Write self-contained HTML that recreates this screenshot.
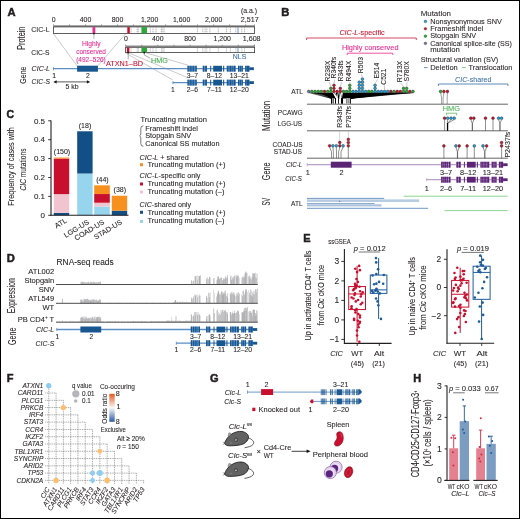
<!DOCTYPE html>
<html><head><meta charset="utf-8"><style>
html,body{margin:0;padding:0;background:#fff;}
svg{display:block;font-family:"Liberation Sans", sans-serif;will-change:transform;}
</style></head><body>
<svg width="520" height="519" viewBox="0 0 520 519">
<rect x="0" y="0" width="520" height="519" fill="#fff"/>
<text x="7.60" y="15.50" font-size="11.20" text-anchor="start" fill="#231f20" stroke="#231f20" stroke-width="0.5" font-weight="bold" >A</text>
<text x="257.00" y="12.60" font-size="6.91" text-anchor="end" fill="#231f20" stroke="#231f20" stroke-width="0.08" >(a.a.)</text>
<line x1="53.50" y1="26.05" x2="254.60" y2="26.05" stroke="#8c8c8c" stroke-width="1.70" />
<line x1="53.50" y1="24.30" x2="53.50" y2="25.90" stroke="#777" stroke-width="0.70" />
<line x1="69.51" y1="24.30" x2="69.51" y2="25.90" stroke="#777" stroke-width="0.70" />
<line x1="85.52" y1="24.30" x2="85.52" y2="25.90" stroke="#777" stroke-width="0.70" />
<line x1="101.54" y1="24.30" x2="101.54" y2="25.90" stroke="#777" stroke-width="0.70" />
<line x1="117.55" y1="24.30" x2="117.55" y2="25.90" stroke="#777" stroke-width="0.70" />
<line x1="133.56" y1="24.30" x2="133.56" y2="25.90" stroke="#777" stroke-width="0.70" />
<line x1="149.57" y1="24.30" x2="149.57" y2="25.90" stroke="#777" stroke-width="0.70" />
<line x1="165.58" y1="24.30" x2="165.58" y2="25.90" stroke="#777" stroke-width="0.70" />
<line x1="181.60" y1="24.30" x2="181.60" y2="25.90" stroke="#777" stroke-width="0.70" />
<line x1="197.61" y1="24.30" x2="197.61" y2="25.90" stroke="#777" stroke-width="0.70" />
<line x1="213.62" y1="24.30" x2="213.62" y2="25.90" stroke="#777" stroke-width="0.70" />
<line x1="229.63" y1="24.30" x2="229.63" y2="25.90" stroke="#777" stroke-width="0.70" />
<line x1="245.64" y1="24.30" x2="245.64" y2="25.90" stroke="#777" stroke-width="0.70" />
<line x1="254.40" y1="24.30" x2="254.40" y2="25.90" stroke="#777" stroke-width="0.70" />
<rect x="53.50" y="26.90" width="201.10" height="6.60" fill="#fff" stroke="#3a3a3a" stroke-width="0.8"/>
<line x1="125.60" y1="46.45" x2="254.60" y2="46.45" stroke="#8c8c8c" stroke-width="1.70" />
<line x1="125.60" y1="44.70" x2="125.60" y2="46.30" stroke="#777" stroke-width="0.70" />
<line x1="141.70" y1="44.70" x2="141.70" y2="46.30" stroke="#777" stroke-width="0.70" />
<line x1="157.80" y1="44.70" x2="157.80" y2="46.30" stroke="#777" stroke-width="0.70" />
<line x1="173.90" y1="44.70" x2="173.90" y2="46.30" stroke="#777" stroke-width="0.70" />
<line x1="190.00" y1="44.70" x2="190.00" y2="46.30" stroke="#777" stroke-width="0.70" />
<line x1="206.10" y1="44.70" x2="206.10" y2="46.30" stroke="#777" stroke-width="0.70" />
<line x1="222.20" y1="44.70" x2="222.20" y2="46.30" stroke="#777" stroke-width="0.70" />
<line x1="238.30" y1="44.70" x2="238.30" y2="46.30" stroke="#777" stroke-width="0.70" />
<line x1="254.40" y1="44.70" x2="254.40" y2="46.30" stroke="#777" stroke-width="0.70" />
<line x1="254.40" y1="44.70" x2="254.40" y2="46.30" stroke="#777" stroke-width="0.70" />
<rect x="125.60" y="47.30" width="129.00" height="5.30" fill="#fff" stroke="#3a3a3a" stroke-width="0.8"/>
<line x1="131.00" y1="27.30" x2="131.00" y2="33.10" stroke="#858585" stroke-width="0.60" stroke-dasharray="1.1,0.7"/>
<line x1="137.20" y1="27.30" x2="137.20" y2="33.10" stroke="#858585" stroke-width="0.60" stroke-dasharray="1.1,0.7"/>
<line x1="138.30" y1="27.30" x2="138.30" y2="33.10" stroke="#858585" stroke-width="0.60" stroke-dasharray="1.1,0.7"/>
<line x1="150.30" y1="27.30" x2="150.30" y2="33.10" stroke="#858585" stroke-width="0.60" stroke-dasharray="1.1,0.7"/>
<line x1="153.00" y1="27.30" x2="153.00" y2="33.10" stroke="#858585" stroke-width="0.60" stroke-dasharray="1.1,0.7"/>
<line x1="156.00" y1="27.30" x2="156.00" y2="33.10" stroke="#858585" stroke-width="0.60" stroke-dasharray="1.1,0.7"/>
<line x1="161.50" y1="27.30" x2="161.50" y2="33.10" stroke="#858585" stroke-width="0.60" stroke-dasharray="1.1,0.7"/>
<line x1="162.80" y1="27.30" x2="162.80" y2="33.10" stroke="#858585" stroke-width="0.60" stroke-dasharray="1.1,0.7"/>
<line x1="164.10" y1="27.30" x2="164.10" y2="33.10" stroke="#858585" stroke-width="0.60" stroke-dasharray="1.1,0.7"/>
<line x1="197.40" y1="27.30" x2="197.40" y2="33.10" stroke="#858585" stroke-width="0.60" stroke-dasharray="1.1,0.7"/>
<line x1="202.80" y1="27.30" x2="202.80" y2="33.10" stroke="#858585" stroke-width="0.60" stroke-dasharray="1.1,0.7"/>
<line x1="205.10" y1="27.30" x2="205.10" y2="33.10" stroke="#858585" stroke-width="0.60" stroke-dasharray="1.1,0.7"/>
<line x1="206.80" y1="27.30" x2="206.80" y2="33.10" stroke="#858585" stroke-width="0.60" stroke-dasharray="1.1,0.7"/>
<line x1="209.90" y1="27.30" x2="209.90" y2="33.10" stroke="#858585" stroke-width="0.60" stroke-dasharray="1.1,0.7"/>
<line x1="218.30" y1="27.30" x2="218.30" y2="33.10" stroke="#858585" stroke-width="0.60" stroke-dasharray="1.1,0.7"/>
<line x1="226.60" y1="27.30" x2="226.60" y2="33.10" stroke="#858585" stroke-width="0.60" stroke-dasharray="1.1,0.7"/>
<line x1="230.40" y1="27.30" x2="230.40" y2="33.10" stroke="#858585" stroke-width="0.60" stroke-dasharray="1.1,0.7"/>
<line x1="235.80" y1="27.30" x2="235.80" y2="33.10" stroke="#858585" stroke-width="0.60" stroke-dasharray="1.1,0.7"/>
<line x1="241.80" y1="27.30" x2="241.80" y2="33.10" stroke="#858585" stroke-width="0.60" stroke-dasharray="1.1,0.7"/>
<line x1="244.50" y1="27.30" x2="244.50" y2="33.10" stroke="#858585" stroke-width="0.60" stroke-dasharray="1.1,0.7"/>
<rect x="127.30" y="27.10" width="2.50" height="6.20" fill="#c8102e" />
<rect x="141.40" y="27.10" width="5.60" height="6.20" fill="#2fa83a" />
<line x1="238.00" y1="27.30" x2="238.00" y2="33.10" stroke="#2e6bb0" stroke-width="0.70" />
<line x1="131.00" y1="47.70" x2="131.00" y2="52.20" stroke="#858585" stroke-width="0.60" stroke-dasharray="1.1,0.7"/>
<line x1="137.20" y1="47.70" x2="137.20" y2="52.20" stroke="#858585" stroke-width="0.60" stroke-dasharray="1.1,0.7"/>
<line x1="138.30" y1="47.70" x2="138.30" y2="52.20" stroke="#858585" stroke-width="0.60" stroke-dasharray="1.1,0.7"/>
<line x1="150.30" y1="47.70" x2="150.30" y2="52.20" stroke="#858585" stroke-width="0.60" stroke-dasharray="1.1,0.7"/>
<line x1="153.00" y1="47.70" x2="153.00" y2="52.20" stroke="#858585" stroke-width="0.60" stroke-dasharray="1.1,0.7"/>
<line x1="156.00" y1="47.70" x2="156.00" y2="52.20" stroke="#858585" stroke-width="0.60" stroke-dasharray="1.1,0.7"/>
<line x1="161.50" y1="47.70" x2="161.50" y2="52.20" stroke="#858585" stroke-width="0.60" stroke-dasharray="1.1,0.7"/>
<line x1="162.80" y1="47.70" x2="162.80" y2="52.20" stroke="#858585" stroke-width="0.60" stroke-dasharray="1.1,0.7"/>
<line x1="164.10" y1="47.70" x2="164.10" y2="52.20" stroke="#858585" stroke-width="0.60" stroke-dasharray="1.1,0.7"/>
<line x1="197.40" y1="47.70" x2="197.40" y2="52.20" stroke="#858585" stroke-width="0.60" stroke-dasharray="1.1,0.7"/>
<line x1="202.80" y1="47.70" x2="202.80" y2="52.20" stroke="#858585" stroke-width="0.60" stroke-dasharray="1.1,0.7"/>
<line x1="205.10" y1="47.70" x2="205.10" y2="52.20" stroke="#858585" stroke-width="0.60" stroke-dasharray="1.1,0.7"/>
<line x1="206.80" y1="47.70" x2="206.80" y2="52.20" stroke="#858585" stroke-width="0.60" stroke-dasharray="1.1,0.7"/>
<line x1="209.90" y1="47.70" x2="209.90" y2="52.20" stroke="#858585" stroke-width="0.60" stroke-dasharray="1.1,0.7"/>
<line x1="218.30" y1="47.70" x2="218.30" y2="52.20" stroke="#858585" stroke-width="0.60" stroke-dasharray="1.1,0.7"/>
<line x1="226.60" y1="47.70" x2="226.60" y2="52.20" stroke="#858585" stroke-width="0.60" stroke-dasharray="1.1,0.7"/>
<line x1="230.40" y1="47.70" x2="230.40" y2="52.20" stroke="#858585" stroke-width="0.60" stroke-dasharray="1.1,0.7"/>
<line x1="235.80" y1="47.70" x2="235.80" y2="52.20" stroke="#858585" stroke-width="0.60" stroke-dasharray="1.1,0.7"/>
<line x1="241.80" y1="47.70" x2="241.80" y2="52.20" stroke="#858585" stroke-width="0.60" stroke-dasharray="1.1,0.7"/>
<line x1="244.50" y1="47.70" x2="244.50" y2="52.20" stroke="#858585" stroke-width="0.60" stroke-dasharray="1.1,0.7"/>
<rect x="126.90" y="47.50" width="2.50" height="4.90" fill="#c8102e" />
<rect x="141.40" y="47.50" width="5.60" height="4.90" fill="#2fa83a" />
<line x1="238.00" y1="47.70" x2="238.00" y2="52.20" stroke="#2e6bb0" stroke-width="0.70" />
<rect x="92.50" y="27.10" width="2.80" height="6.20" fill="#ec2d8e" />
<circle cx="93.90" cy="33.60" r="0.90" fill="#111" />
<line x1="93.90" y1="34.00" x2="93.90" y2="38.80" stroke="#777" stroke-width="0.50" />
<circle cx="128.20" cy="52.70" r="0.90" fill="#111" />
<line x1="128.20" y1="53.00" x2="128.20" y2="59.40" stroke="#555" stroke-width="0.50" />
<circle cx="144.30" cy="52.70" r="0.90" fill="#111" />
<path d="M144.3,53 L144.3,55 L150.3,58.3" fill="none" stroke="#555" stroke-width="0.50" />
<line x1="53.60" y1="33.90" x2="77.10" y2="65.80" stroke="#8a8a8a" stroke-width="0.45" />
<line x1="125.30" y1="34.00" x2="97.90" y2="65.80" stroke="#8a8a8a" stroke-width="0.45" />
<line x1="146.20" y1="52.90" x2="188.00" y2="65.20" stroke="#8a8a8a" stroke-width="0.45" />
<line x1="128.80" y1="52.90" x2="187.00" y2="77.30" stroke="#8a8a8a" stroke-width="0.45" />
<line x1="125.60" y1="53.00" x2="172.60" y2="79.90" stroke="#8a8a8a" stroke-width="0.45" />
<text x="53.70" y="21.50" font-size="6.91" text-anchor="middle" fill="#231f20" stroke="#231f20" stroke-width="0.08" >0</text>
<text x="85.50" y="21.50" font-size="6.91" text-anchor="middle" fill="#231f20" stroke="#231f20" stroke-width="0.08" >400</text>
<text x="117.50" y="21.50" font-size="6.91" text-anchor="middle" fill="#231f20" stroke="#231f20" stroke-width="0.08" >800</text>
<text x="149.60" y="21.50" font-size="6.91" text-anchor="middle" fill="#231f20" stroke="#231f20" stroke-width="0.08" >1,200</text>
<text x="181.60" y="21.50" font-size="6.91" text-anchor="middle" fill="#231f20" stroke="#231f20" stroke-width="0.08" >1,600</text>
<text x="213.60" y="21.50" font-size="6.91" text-anchor="middle" fill="#231f20" stroke="#231f20" stroke-width="0.08" >2,000</text>
<text x="258.70" y="21.60" font-size="7.13" text-anchor="end" fill="#231f20" stroke="#231f20" stroke-width="0.08" >2,517</text>
<text x="126.00" y="41.40" font-size="6.91" text-anchor="middle" fill="#231f20" stroke="#231f20" stroke-width="0.08" >0</text>
<text x="157.80" y="41.40" font-size="6.91" text-anchor="middle" fill="#231f20" stroke="#231f20" stroke-width="0.08" >400</text>
<text x="190.00" y="41.40" font-size="6.91" text-anchor="middle" fill="#231f20" stroke="#231f20" stroke-width="0.08" >800</text>
<text x="222.20" y="41.40" font-size="6.91" text-anchor="middle" fill="#231f20" stroke="#231f20" stroke-width="0.08" >1,200</text>
<text x="260.60" y="41.40" font-size="7.13" text-anchor="end" fill="#231f20" stroke="#231f20" stroke-width="0.08" >1,608</text>
<text transform="translate(25.00,38.20) rotate(-90.0)" font-size="10.04" text-anchor="middle" fill="#231f20" stroke="#231f20" stroke-width="0.08" textLength="23.30" lengthAdjust="spacingAndGlyphs" >Protein</text>
<text x="31.30" y="31.50" font-size="7.88" text-anchor="start" fill="#231f20" stroke="#231f20" stroke-width="0.08" textLength="18.30" lengthAdjust="spacingAndGlyphs" >CIC-L</text>
<text x="31.30" y="55.40" font-size="7.88" text-anchor="start" fill="#231f20" stroke="#231f20" stroke-width="0.08" textLength="18.30" lengthAdjust="spacingAndGlyphs" >CIC-S</text>
<text x="91.30" y="45.90" font-size="7.34" text-anchor="middle" fill="#e8248c" stroke="#e8248c" stroke-width="0.08" textLength="18.70" lengthAdjust="spacingAndGlyphs" >Highly</text>
<text x="91.00" y="54.30" font-size="7.34" text-anchor="middle" fill="#e8248c" stroke="#e8248c" stroke-width="0.08" textLength="29.60" lengthAdjust="spacingAndGlyphs" >conserved</text>
<text x="91.00" y="61.90" font-size="7.34" text-anchor="middle" fill="#e8248c" stroke="#e8248c" stroke-width="0.08" textLength="29.60" lengthAdjust="spacingAndGlyphs" >(492–526)</text>
<text x="106.00" y="65.60" font-size="7.56" text-anchor="start" fill="#c8102e" stroke="#c8102e" stroke-width="0.08" textLength="37.00" lengthAdjust="spacingAndGlyphs" >ATXN1–BD</text>
<text x="151.00" y="62.50" font-size="7.13" text-anchor="start" fill="#3aa845" stroke="#3aa845" stroke-width="0.08" textLength="16.70" lengthAdjust="spacingAndGlyphs" >HMG</text>
<text x="232.80" y="58.50" font-size="7.13" text-anchor="start" fill="#3b73b4" stroke="#3b73b4" stroke-width="0.08" textLength="13.50" lengthAdjust="spacingAndGlyphs" >NLS</text>
<text transform="translate(25.90,75.10) rotate(-90.0)" font-size="9.94" text-anchor="middle" fill="#231f20" stroke="#231f20" stroke-width="0.08" textLength="17.20" lengthAdjust="spacingAndGlyphs" >Gene</text>
<text x="31.60" y="70.90" font-size="7.88" text-anchor="start" fill="#231f20" stroke="#231f20" stroke-width="0.08" font-style="italic" textLength="18.40" lengthAdjust="spacingAndGlyphs" >CIC-L</text>
<text x="31.60" y="84.40" font-size="7.88" text-anchor="start" fill="#231f20" stroke="#231f20" stroke-width="0.08" font-style="italic" textLength="18.40" lengthAdjust="spacingAndGlyphs" >CIC-S</text>
<rect x="187.50" y="65.80" width="9.20" height="5.80" fill="#6d9acb" />
<rect x="202.80" y="65.80" width="4.10" height="5.80" fill="#6d9acb" />
<rect x="226.80" y="65.80" width="8.70" height="5.80" fill="#6d9acb" />
<rect x="238.00" y="65.80" width="4.80" height="5.80" fill="#6d9acb" />
<rect x="245.20" y="65.80" width="4.20" height="5.80" fill="#6d9acb" />
<rect x="187.50" y="79.70" width="9.20" height="5.80" fill="#6d9acb" />
<rect x="202.80" y="79.70" width="4.10" height="5.80" fill="#6d9acb" />
<rect x="226.80" y="79.70" width="8.70" height="5.80" fill="#6d9acb" />
<rect x="238.00" y="79.70" width="4.80" height="5.80" fill="#6d9acb" />
<rect x="245.20" y="79.70" width="4.20" height="5.80" fill="#6d9acb" />
<line x1="53.30" y1="68.70" x2="250.00" y2="68.70" stroke="#5b8ec2" stroke-width="1.30" />
<line x1="53.50" y1="67.10" x2="53.50" y2="70.30" stroke="#5b8ec2" stroke-width="0.80" />
<rect x="77.10" y="65.70" width="20.80" height="6.00" fill="#17568f" />
<rect x="187.50" y="65.80" width="1.30" height="5.80" fill="#17568f" />
<rect x="189.60" y="65.80" width="1.20" height="5.80" fill="#17568f" />
<rect x="191.40" y="65.80" width="1.10" height="5.80" fill="#17568f" />
<rect x="193.10" y="65.80" width="1.10" height="5.80" fill="#17568f" />
<rect x="195.30" y="65.80" width="1.40" height="5.80" fill="#17568f" />
<rect x="202.80" y="65.80" width="1.40" height="5.80" fill="#17568f" />
<rect x="205.20" y="65.80" width="1.70" height="5.80" fill="#17568f" />
<rect x="210.20" y="65.80" width="1.00" height="5.80" fill="#17568f" />
<rect x="213.20" y="65.80" width="8.80" height="5.80" fill="#17568f" />
<rect x="223.10" y="65.80" width="1.10" height="5.80" fill="#17568f" />
<rect x="226.80" y="65.80" width="1.10" height="5.80" fill="#17568f" />
<rect x="228.50" y="65.80" width="1.00" height="5.80" fill="#17568f" />
<rect x="230.00" y="65.80" width="1.00" height="5.80" fill="#17568f" />
<rect x="231.50" y="65.80" width="1.20" height="5.80" fill="#17568f" />
<rect x="233.60" y="65.80" width="1.90" height="5.80" fill="#17568f" />
<rect x="238.00" y="65.80" width="1.20" height="5.80" fill="#17568f" />
<rect x="239.80" y="65.80" width="1.10" height="5.80" fill="#17568f" />
<rect x="241.60" y="65.80" width="1.20" height="5.80" fill="#17568f" />
<rect x="245.20" y="65.80" width="1.40" height="5.80" fill="#17568f" />
<rect x="247.00" y="65.80" width="2.40" height="5.80" fill="#17568f" />
<rect x="249.40" y="67.30" width="4.50" height="2.80" fill="#17568f" />
<line x1="172.80" y1="82.60" x2="250.00" y2="82.60" stroke="#5b8ec2" stroke-width="1.30" />
<line x1="173.00" y1="81.00" x2="173.00" y2="84.20" stroke="#5b8ec2" stroke-width="0.80" />
<rect x="187.50" y="79.70" width="1.30" height="5.80" fill="#17568f" />
<rect x="189.60" y="79.70" width="1.20" height="5.80" fill="#17568f" />
<rect x="191.40" y="79.70" width="1.10" height="5.80" fill="#17568f" />
<rect x="193.10" y="79.70" width="1.10" height="5.80" fill="#17568f" />
<rect x="195.30" y="79.70" width="1.40" height="5.80" fill="#17568f" />
<rect x="202.80" y="79.70" width="1.40" height="5.80" fill="#17568f" />
<rect x="205.20" y="79.70" width="1.70" height="5.80" fill="#17568f" />
<rect x="210.20" y="79.70" width="1.00" height="5.80" fill="#17568f" />
<rect x="213.20" y="79.70" width="8.80" height="5.80" fill="#17568f" />
<rect x="223.10" y="79.70" width="1.10" height="5.80" fill="#17568f" />
<rect x="226.80" y="79.70" width="1.10" height="5.80" fill="#17568f" />
<rect x="228.50" y="79.70" width="1.00" height="5.80" fill="#17568f" />
<rect x="230.00" y="79.70" width="1.00" height="5.80" fill="#17568f" />
<rect x="231.50" y="79.70" width="1.20" height="5.80" fill="#17568f" />
<rect x="233.60" y="79.70" width="1.90" height="5.80" fill="#17568f" />
<rect x="238.00" y="79.70" width="1.20" height="5.80" fill="#17568f" />
<rect x="239.80" y="79.70" width="1.10" height="5.80" fill="#17568f" />
<rect x="241.60" y="79.70" width="1.20" height="5.80" fill="#17568f" />
<rect x="245.20" y="79.70" width="1.40" height="5.80" fill="#17568f" />
<rect x="247.00" y="79.70" width="2.40" height="5.80" fill="#17568f" />
<rect x="249.40" y="81.20" width="4.50" height="2.80" fill="#17568f" />
<text x="192.30" y="77.70" font-size="6.80" text-anchor="middle" fill="#231f20" stroke="#231f20" stroke-width="0.08" >3–7</text>
<text x="214.40" y="77.70" font-size="6.80" text-anchor="middle" fill="#231f20" stroke="#231f20" stroke-width="0.08" >8–12</text>
<text x="239.30" y="77.70" font-size="6.80" text-anchor="middle" fill="#231f20" stroke="#231f20" stroke-width="0.08" >13–21</text>
<text x="173.00" y="91.50" font-size="6.80" text-anchor="middle" fill="#231f20" stroke="#231f20" stroke-width="0.08" >1</text>
<text x="192.30" y="91.50" font-size="6.80" text-anchor="middle" fill="#231f20" stroke="#231f20" stroke-width="0.08" >2–6</text>
<text x="214.40" y="91.50" font-size="6.80" text-anchor="middle" fill="#231f20" stroke="#231f20" stroke-width="0.08" >7–11</text>
<text x="239.30" y="91.50" font-size="6.80" text-anchor="middle" fill="#231f20" stroke="#231f20" stroke-width="0.08" >12–20</text>
<text x="54.20" y="77.80" font-size="6.80" text-anchor="middle" fill="#231f20" stroke="#231f20" stroke-width="0.08" >1</text>
<text x="87.90" y="77.80" font-size="6.80" text-anchor="middle" fill="#231f20" stroke="#231f20" stroke-width="0.08" >2</text>
<line x1="55.50" y1="81.90" x2="88.00" y2="81.90" stroke="#111" stroke-width="0.70" />
<path d="M53.3,81.9 L56.6,80.3 L56.6,83.5 Z" fill="#111" stroke="none" stroke-width="1.00" />
<path d="M90.2,81.9 L86.9,80.3 L86.9,83.5 Z" fill="#111" stroke="none" stroke-width="1.00" />
<text x="72.00" y="88.60" font-size="6.91" text-anchor="middle" fill="#231f20" stroke="#231f20" stroke-width="0.08" >5 kb</text>
<text x="6.60" y="117.60" font-size="10.50" text-anchor="start" fill="#231f20" stroke="#231f20" stroke-width="0.5" font-weight="bold" >C</text>
<rect x="53.80" y="212.84" width="15.40" height="2.46" fill="#124f87" />
<rect x="53.80" y="194.13" width="15.40" height="18.71" fill="#f1c4cf" />
<rect x="53.80" y="158.60" width="15.40" height="35.53" fill="#c8102e" />
<rect x="53.80" y="157.56" width="15.40" height="1.04" fill="#f7901e" />
<rect x="77.20" y="173.53" width="15.40" height="41.77" fill="#97d4ee" />
<rect x="77.20" y="131.29" width="15.40" height="42.24" fill="#124f87" />
<rect x="94.20" y="206.51" width="15.60" height="8.79" fill="#97d4ee" />
<rect x="94.20" y="202.73" width="15.60" height="3.78" fill="#f1c4cf" />
<rect x="94.20" y="194.04" width="15.60" height="8.69" fill="#c8102e" />
<rect x="94.20" y="185.34" width="15.60" height="8.69" fill="#f7901e" />
<rect x="111.80" y="210.67" width="15.40" height="4.63" fill="#124f87" />
<rect x="111.80" y="195.74" width="15.40" height="14.93" fill="#f7901e" />
<line x1="51.00" y1="120.50" x2="51.00" y2="215.80" stroke="#231f20" stroke-width="1.10" />
<line x1="50.50" y1="215.30" x2="128.50" y2="215.30" stroke="#231f20" stroke-width="1.10" />
<line x1="48.20" y1="215.30" x2="51.00" y2="215.30" stroke="#231f20" stroke-width="0.90" />
<text x="45.00" y="218.00" font-size="7.99" text-anchor="end" fill="#231f20" stroke="#231f20" stroke-width="0.08" >0</text>
<line x1="48.20" y1="196.40" x2="51.00" y2="196.40" stroke="#231f20" stroke-width="0.90" />
<text x="45.00" y="199.10" font-size="7.99" text-anchor="end" fill="#231f20" stroke="#231f20" stroke-width="0.08" >0.1</text>
<line x1="48.20" y1="177.50" x2="51.00" y2="177.50" stroke="#231f20" stroke-width="0.90" />
<text x="45.00" y="180.20" font-size="7.99" text-anchor="end" fill="#231f20" stroke="#231f20" stroke-width="0.08" >0.2</text>
<line x1="48.20" y1="158.60" x2="51.00" y2="158.60" stroke="#231f20" stroke-width="0.90" />
<text x="45.00" y="161.30" font-size="7.99" text-anchor="end" fill="#231f20" stroke="#231f20" stroke-width="0.08" >0.3</text>
<line x1="48.20" y1="139.70" x2="51.00" y2="139.70" stroke="#231f20" stroke-width="0.90" />
<text x="45.00" y="142.40" font-size="7.99" text-anchor="end" fill="#231f20" stroke="#231f20" stroke-width="0.08" >0.4</text>
<line x1="48.20" y1="120.80" x2="51.00" y2="120.80" stroke="#231f20" stroke-width="0.90" />
<text x="45.00" y="123.50" font-size="7.99" text-anchor="end" fill="#231f20" stroke="#231f20" stroke-width="0.08" >0.5</text>
<text x="62.00" y="153.90" font-size="7.02" text-anchor="middle" fill="#231f20" stroke="#231f20" stroke-width="0.08" >(150)</text>
<text x="85.00" y="127.80" font-size="7.02" text-anchor="middle" fill="#231f20" stroke="#231f20" stroke-width="0.08" >(18)</text>
<text x="102.40" y="182.00" font-size="7.02" text-anchor="middle" fill="#231f20" stroke="#231f20" stroke-width="0.08" >(44)</text>
<text x="119.80" y="192.00" font-size="7.02" text-anchor="middle" fill="#231f20" stroke="#231f20" stroke-width="0.08" >(38)</text>
<text transform="translate(14.20,166.50) rotate(-90.0)" font-size="9.94" text-anchor="middle" fill="#231f20" stroke="#231f20" stroke-width="0.08" textLength="78.40" lengthAdjust="spacingAndGlyphs" >Frequency of cases with</text>
<text transform="translate(25.60,169.50) rotate(-90.0)" font-size="9.94" text-anchor="middle" fill="#231f20" stroke="#231f20" stroke-width="0.08" textLength="42.00" lengthAdjust="spacingAndGlyphs" ><tspan font-style="italic">CIC</tspan> mutations</text>
<text transform="translate(67.40,222.00) rotate(-31.0)" font-size="7.24" text-anchor="end" fill="#231f20" stroke="#231f20" stroke-width="0.08" >ATL</text>
<text transform="translate(89.60,223.60) rotate(-31.0)" font-size="7.24" text-anchor="end" fill="#231f20" stroke="#231f20" stroke-width="0.08" >LGG-US</text>
<text transform="translate(104.80,223.60) rotate(-31.0)" font-size="7.24" text-anchor="end" fill="#231f20" stroke="#231f20" stroke-width="0.08" >COAD-US</text>
<text transform="translate(122.60,223.60) rotate(-31.0)" font-size="7.24" text-anchor="end" fill="#231f20" stroke="#231f20" stroke-width="0.08" >STAD-US</text>
<text x="140.50" y="121.80" font-size="7.56" text-anchor="start" fill="#231f20" stroke="#231f20" stroke-width="0.08" textLength="66.50" lengthAdjust="spacingAndGlyphs" >Truncating mutation</text>
<path d="M143.4,125.8 Q140.8,125.8 140.8,128.5 L140.8,133.6 Q140.8,135.4 139.6,135.9 Q140.8,136.4 140.8,138.2 L140.8,143.6 Q140.8,146.3 143.4,146.3" fill="none" stroke="#231f20" stroke-width="0.60" />
<text x="145.20" y="130.70" font-size="7.56" text-anchor="start" fill="#231f20" stroke="#231f20" stroke-width="0.08" textLength="52.80" lengthAdjust="spacingAndGlyphs" >Frameshift indel</text>
<text x="145.20" y="138.00" font-size="7.56" text-anchor="start" fill="#231f20" stroke="#231f20" stroke-width="0.08" textLength="46.00" lengthAdjust="spacingAndGlyphs" >Stopgain SNV</text>
<text x="145.20" y="146.30" font-size="7.56" text-anchor="start" fill="#231f20" stroke="#231f20" stroke-width="0.08" textLength="74.30" lengthAdjust="spacingAndGlyphs" >Canonical SS mutation</text>
<text x="139.50" y="159.50" font-size="7.56" text-anchor="start" fill="#231f20" stroke="#231f20" stroke-width="0.08" textLength="49.20" lengthAdjust="spacingAndGlyphs" ><tspan font-style="italic">CIC-L</tspan> + shared</text>
<rect x="140.00" y="163.20" width="3.00" height="3.00" fill="#f7901e" />
<text x="147.50" y="167.00" font-size="7.56" text-anchor="start" fill="#231f20" stroke="#231f20" stroke-width="0.08" textLength="78.00" lengthAdjust="spacingAndGlyphs" >Truncating mutation (+)</text>
<text x="139.50" y="178.00" font-size="7.56" text-anchor="start" fill="#231f20" stroke="#231f20" stroke-width="0.08" textLength="61.00" lengthAdjust="spacingAndGlyphs" ><tspan font-style="italic">CIC-L</tspan>-specific only</text>
<rect x="140.00" y="182.50" width="3.00" height="3.00" fill="#c8102e" />
<text x="147.50" y="186.20" font-size="7.56" text-anchor="start" fill="#231f20" stroke="#231f20" stroke-width="0.08" textLength="78.00" lengthAdjust="spacingAndGlyphs" >Truncating mutation (+)</text>
<rect x="140.00" y="190.50" width="3.00" height="3.00" fill="#f1c4cf" />
<text x="147.50" y="194.20" font-size="7.56" text-anchor="start" fill="#231f20" stroke="#231f20" stroke-width="0.08" textLength="77.00" lengthAdjust="spacingAndGlyphs" >Truncating mutation (–)</text>
<text x="139.50" y="207.00" font-size="7.56" text-anchor="start" fill="#231f20" stroke="#231f20" stroke-width="0.08" textLength="51.50" lengthAdjust="spacingAndGlyphs" ><tspan font-style="italic">CIC</tspan>-shared only</text>
<rect x="140.00" y="210.80" width="3.00" height="3.00" fill="#124f87" />
<text x="147.50" y="214.50" font-size="7.56" text-anchor="start" fill="#231f20" stroke="#231f20" stroke-width="0.08" textLength="78.00" lengthAdjust="spacingAndGlyphs" >Truncating mutation (+)</text>
<rect x="140.00" y="220.00" width="3.00" height="3.00" fill="#97d4ee" />
<text x="147.50" y="223.30" font-size="7.56" text-anchor="start" fill="#231f20" stroke="#231f20" stroke-width="0.08" textLength="77.00" lengthAdjust="spacingAndGlyphs" >Truncating mutation (–)</text>
<text x="6.80" y="262.00" font-size="11.20" text-anchor="start" fill="#231f20" stroke="#231f20" stroke-width="0.5" font-weight="bold" >D</text>
<text x="56.60" y="264.60" font-size="8.42" text-anchor="start" fill="#231f20" stroke="#231f20" stroke-width="0.08" textLength="57.00" lengthAdjust="spacingAndGlyphs" >RNA-seq reads</text>
<text x="54.20" y="273.80" font-size="7.56" text-anchor="end" fill="#231f20" stroke="#231f20" stroke-width="0.08" >ATL002</text>
<text x="54.20" y="282.80" font-size="7.56" text-anchor="end" fill="#231f20" stroke="#231f20" stroke-width="0.08" >Stopgain</text>
<text x="54.20" y="291.60" font-size="7.56" text-anchor="end" fill="#231f20" stroke="#231f20" stroke-width="0.08" >SNV</text>
<text x="54.20" y="301.40" font-size="7.56" text-anchor="end" fill="#231f20" stroke="#231f20" stroke-width="0.08" >ATL549</text>
<text x="54.20" y="310.20" font-size="7.56" text-anchor="end" fill="#231f20" stroke="#231f20" stroke-width="0.08" >WT</text>
<text x="54.20" y="321.60" font-size="7.56" text-anchor="end" fill="#231f20" stroke="#231f20" stroke-width="0.08" >PB CD4<tspan font-size="4.5" dy="-2.6">+</tspan><tspan dy="2.6"> T</tspan></text>
<text transform="translate(15.30,295.60) rotate(-90.0)" font-size="10.37" text-anchor="middle" fill="#231f20" stroke="#231f20" stroke-width="0.08" textLength="35.20" lengthAdjust="spacingAndGlyphs" >Expression</text>
<text transform="translate(16.00,336.30) rotate(-90.0)" font-size="10.15" text-anchor="middle" fill="#231f20" stroke="#231f20" stroke-width="0.08" textLength="17.30" lengthAdjust="spacingAndGlyphs" >Gene</text>
<text x="54.20" y="331.60" font-size="7.88" text-anchor="end" fill="#231f20" stroke="#231f20" stroke-width="0.08" font-style="italic" textLength="18.20" lengthAdjust="spacingAndGlyphs" >CIC-L</text>
<text x="54.20" y="345.70" font-size="7.88" text-anchor="end" fill="#231f20" stroke="#231f20" stroke-width="0.08" font-style="italic" textLength="18.60" lengthAdjust="spacingAndGlyphs" >CIC-S</text>
<path d="M56,284.50 L56.00,284.46 L56.50,284.46 L56.50,284.39 L57.00,284.39 L57.00,284.31 L57.50,284.31 L57.50,284.32 L58.00,284.32 L58.00,284.32 L58.50,284.32 L58.50,284.39 L59.00,284.39 L59.00,284.30 L59.50,284.30 L59.50,284.37 L60.00,284.37 L60.00,284.48 L60.50,284.48 L60.50,284.39 L61.00,284.39 L61.00,284.49 L61.50,284.49 L61.50,284.27 L62.00,284.27 L62.00,284.26 L62.50,284.26 L62.50,284.42 L63.00,284.42 L63.00,284.42 L63.50,284.42 L63.50,284.31 L64.00,284.31 L64.00,284.45 L64.50,284.45 L64.50,284.46 L65.00,284.46 L65.00,284.45 L65.50,284.45 L65.50,284.41 L66.00,284.41 L66.00,284.34 L66.50,284.34 L66.50,284.26 L67.00,284.26 L67.00,284.45 L67.50,284.45 L67.50,284.26 L68.00,284.26 L68.00,284.36 L68.50,284.36 L68.50,284.27 L69.00,284.27 L69.00,284.30 L69.50,284.30 L69.50,284.46 L70.00,284.46 L70.00,284.34 L70.50,284.34 L70.50,284.47 L71.00,284.47 L71.00,284.50 L71.50,284.50 L71.50,284.40 L72.00,284.40 L72.00,284.31 L72.50,284.31 L72.50,284.36 L73.00,284.36 L73.00,284.45 L73.50,284.45 L73.50,284.29 L74.00,284.29 L74.00,284.27 L74.50,284.27 L74.50,284.44 L75.00,284.44 L75.00,284.39 L75.50,284.39 L75.50,284.34 L76.00,284.34 L76.00,284.27 L76.50,284.27 L76.50,284.47 L77.00,284.47 L77.00,284.36 L77.50,284.36 L77.50,284.26 L78.00,284.26 L78.00,284.35 L78.50,284.35 L78.50,284.32 L79.00,284.32 L79.00,284.31 L79.50,284.31 L79.50,284.37 L80.00,284.37 L80.00,284.43 L80.50,284.43 L80.50,282.14 L81.00,282.14 L81.00,281.70 L81.50,281.70 L81.50,282.20 L82.00,282.20 L82.00,281.75 L82.50,281.75 L82.50,281.97 L83.00,281.97 L83.00,281.71 L83.50,281.71 L83.50,281.89 L84.00,281.89 L84.00,282.16 L84.50,282.16 L84.50,282.06 L85.00,282.06 L85.00,281.94 L85.50,281.94 L85.50,282.63 L86.00,282.63 L86.00,281.90 L86.50,281.90 L86.50,282.78 L87.00,282.78 L87.00,282.55 L87.50,282.55 L87.50,282.01 L88.00,282.01 L88.00,281.84 L88.50,281.84 L88.50,282.40 L89.00,282.40 L89.00,282.70 L89.50,282.70 L89.50,282.14 L90.00,282.14 L90.00,282.57 L90.50,282.57 L90.50,281.59 L91.00,281.59 L91.00,281.89 L91.50,281.89 L91.50,281.96 L92.00,281.96 L92.00,282.11 L92.50,282.11 L92.50,282.63 L93.00,282.63 L93.00,281.67 L93.50,281.67 L93.50,282.58 L94.00,282.58 L94.00,282.72 L94.50,282.72 L94.50,281.98 L95.00,281.98 L95.00,282.76 L95.50,282.76 L95.50,282.31 L96.00,282.31 L96.00,282.21 L96.50,282.21 L96.50,282.24 L97.00,282.24 L97.00,282.07 L97.50,282.07 L97.50,282.65 L98.00,282.65 L98.00,282.29 L98.50,282.29 L98.50,282.04 L99.00,282.04 L99.00,282.31 L99.50,282.31 L99.50,281.89 L100.00,281.89 L100.00,281.50 L100.50,281.50 L100.50,282.48 L101.00,282.48 L101.00,284.43 L101.50,284.43 L101.50,284.42 L102.00,284.42 L102.00,284.27 L102.50,284.27 L102.50,284.25 L103.00,284.25 L103.00,284.36 L103.50,284.36 L103.50,284.44 L104.00,284.44 L104.00,284.50 L104.50,284.50 L104.50,284.48 L105.00,284.48 L105.00,284.43 L105.50,284.43 L105.50,284.34 L106.00,284.34 L106.00,284.34 L106.50,284.34 L106.50,284.29 L107.00,284.29 L107.00,284.29 L107.50,284.29 L107.50,284.41 L108.00,284.41 L108.00,284.33 L108.50,284.33 L108.50,284.39 L109.00,284.39 L109.00,284.32 L109.50,284.32 L109.50,284.45 L110.00,284.45 L110.00,284.26 L110.50,284.26 L110.50,284.49 L111.00,284.49 L111.00,284.35 L111.50,284.35 L111.50,284.41 L112.00,284.41 L112.00,284.30 L112.50,284.30 L112.50,284.46 L113.00,284.46 L113.00,284.28 L113.50,284.28 L113.50,284.50 L114.00,284.50 L114.00,284.32 L114.50,284.32 L114.50,284.32 L115.00,284.32 L115.00,284.37 L115.50,284.37 L115.50,284.46 L116.00,284.46 L116.00,284.40 L116.50,284.40 L116.50,284.39 L117.00,284.39 L117.00,284.45 L117.50,284.45 L117.50,284.46 L118.00,284.46 L118.00,284.29 L118.50,284.29 L118.50,284.36 L119.00,284.36 L119.00,284.43 L119.50,284.43 L119.50,284.34 L120.00,284.34 L120.00,284.34 L120.50,284.34 L120.50,284.47 L121.00,284.47 L121.00,284.35 L121.50,284.35 L121.50,284.35 L122.00,284.35 L122.00,284.47 L122.50,284.47 L122.50,284.42 L123.00,284.42 L123.00,284.28 L123.50,284.28 L123.50,284.36 L124.00,284.36 L124.00,284.44 L124.50,284.44 L124.50,284.40 L125.00,284.40 L125.00,284.39 L125.50,284.39 L125.50,284.32 L126.00,284.32 L126.00,284.28 L126.50,284.28 L126.50,284.48 L127.00,284.48 L127.00,284.49 L127.50,284.49 L127.50,284.39 L128.00,284.39 L128.00,284.50 L128.50,284.50 L128.50,284.46 L129.00,284.46 L129.00,284.47 L129.50,284.47 L129.50,284.48 L130.00,284.48 L130.00,284.34 L130.50,284.34 L130.50,284.48 L131.00,284.48 L131.00,284.36 L131.50,284.36 L131.50,284.26 L132.00,284.26 L132.00,284.46 L132.50,284.46 L132.50,284.31 L133.00,284.31 L133.00,284.35 L133.50,284.35 L133.50,284.46 L134.00,284.46 L134.00,284.26 L134.50,284.26 L134.50,284.32 L135.00,284.32 L135.00,284.41 L135.50,284.41 L135.50,284.28 L136.00,284.28 L136.00,284.47 L136.50,284.47 L136.50,284.29 L137.00,284.29 L137.00,284.29 L137.50,284.29 L137.50,284.47 L138.00,284.47 L138.00,284.27 L138.50,284.27 L138.50,284.30 L139.00,284.30 L139.00,284.27 L139.50,284.27 L139.50,284.43 L140.00,284.43 L140.00,284.32 L140.50,284.32 L140.50,284.31 L141.00,284.31 L141.00,284.41 L141.50,284.41 L141.50,284.49 L142.00,284.49 L142.00,284.50 L142.50,284.50 L142.50,284.37 L143.00,284.37 L143.00,284.36 L143.50,284.36 L143.50,284.47 L144.00,284.47 L144.00,284.34 L144.50,284.34 L144.50,284.49 L145.00,284.49 L145.00,284.38 L145.50,284.38 L145.50,284.37 L146.00,284.37 L146.00,284.45 L146.50,284.45 L146.50,284.49 L147.00,284.49 L147.00,284.27 L147.50,284.27 L147.50,284.29 L148.00,284.29 L148.00,284.35 L148.50,284.35 L148.50,284.49 L149.00,284.49 L149.00,284.37 L149.50,284.37 L149.50,284.26 L150.00,284.26 L150.00,284.31 L150.50,284.31 L150.50,284.33 L151.00,284.33 L151.00,284.49 L151.50,284.49 L151.50,284.36 L152.00,284.36 L152.00,284.44 L152.50,284.44 L152.50,284.25 L153.00,284.25 L153.00,284.50 L153.50,284.50 L153.50,284.44 L154.00,284.44 L154.00,284.28 L154.50,284.28 L154.50,284.47 L155.00,284.47 L155.00,284.42 L155.50,284.42 L155.50,284.42 L156.00,284.42 L156.00,284.28 L156.50,284.28 L156.50,284.33 L157.00,284.33 L157.00,284.27 L157.50,284.27 L157.50,284.45 L158.00,284.45 L158.00,284.48 L158.50,284.48 L158.50,284.41 L159.00,284.41 L159.00,284.31 L159.50,284.31 L159.50,284.35 L160.00,284.35 L160.00,284.27 L160.50,284.27 L160.50,284.32 L161.00,284.32 L161.00,284.48 L161.50,284.48 L161.50,284.42 L162.00,284.42 L162.00,284.45 L162.50,284.45 L162.50,284.43 L163.00,284.43 L163.00,284.33 L163.50,284.33 L163.50,284.39 L164.00,284.39 L164.00,284.31 L164.50,284.31 L164.50,284.50 L165.00,284.50 L165.00,284.27 L165.50,284.27 L165.50,284.46 L166.00,284.46 L166.00,284.31 L166.50,284.31 L166.50,284.29 L167.00,284.29 L167.00,284.49 L167.50,284.49 L167.50,284.36 L168.00,284.36 L168.00,284.26 L168.50,284.26 L168.50,284.50 L169.00,284.50 L169.00,284.38 L169.50,284.38 L169.50,284.39 L170.00,284.39 L170.00,284.40 L170.50,284.40 L170.50,284.45 L171.00,284.45 L171.00,284.45 L171.50,284.45 L171.50,284.43 L172.00,284.43 L172.00,284.45 L172.50,284.45 L172.50,284.43 L173.00,284.43 L173.00,284.27 L173.50,284.27 L173.50,284.26 L174.00,284.26 L174.00,284.44 L174.50,284.44 L174.50,284.49 L175.00,284.49 L175.00,284.43 L175.50,284.43 L175.50,284.29 L176.00,284.29 L176.00,284.46 L176.50,284.46 L176.50,284.33 L177.00,284.33 L177.00,284.48 L177.50,284.48 L177.50,284.41 L178.00,284.41 L178.00,284.46 L178.50,284.46 L178.50,284.35 L179.00,284.35 L179.00,284.41 L179.50,284.41 L179.50,284.31 L180.00,284.31 L180.00,284.37 L180.50,284.37 L180.50,284.40 L181.00,284.40 L181.00,284.49 L181.50,284.49 L181.50,284.29 L182.00,284.29 L182.00,284.49 L182.50,284.49 L182.50,284.38 L183.00,284.38 L183.00,284.25 L183.50,284.25 L183.50,284.30 L184.00,284.30 L184.00,284.41 L184.50,284.41 L184.50,284.27 L185.00,284.27 L185.00,284.44 L185.50,284.44 L185.50,284.35 L186.00,284.35 L186.00,284.36 L186.50,284.36 L186.50,284.32 L187.00,284.32 L187.00,284.43 L187.50,284.43 L187.50,284.40 L188.00,284.40 L188.00,284.42 L188.50,284.42 L188.50,284.27 L189.00,284.27 L189.00,284.32 L189.50,284.32 L189.50,284.42 L190.00,284.42 L190.00,284.31 L190.50,284.31 L190.50,284.35 L191.00,284.35 L191.00,279.95 L191.50,279.95 L191.50,280.77 L192.00,280.77 L192.00,281.30 L192.50,281.30 L192.50,284.35 L193.00,284.35 L193.00,281.01 L193.50,281.01 L193.50,280.86 L194.00,280.86 L194.00,284.42 L194.50,284.42 L194.50,276.48 L195.00,276.48 L195.00,276.13 L195.50,276.13 L195.50,276.11 L196.00,276.11 L196.00,275.54 L196.50,275.54 L196.50,284.31 L197.00,284.31 L197.00,275.56 L197.50,275.56 L197.50,279.74 L198.00,279.74 L198.00,275.67 L198.50,275.67 L198.50,284.37 L199.00,284.37 L199.00,276.29 L199.50,276.29 L199.50,275.95 L200.00,275.95 L200.00,275.41 L200.50,275.41 L200.50,284.38 L201.00,284.38 L201.00,284.43 L201.50,284.43 L201.50,284.31 L202.00,284.31 L202.00,284.36 L202.50,284.36 L202.50,284.28 L203.00,284.28 L203.00,284.49 L203.50,284.49 L203.50,284.33 L204.00,284.33 L204.00,284.27 L204.50,284.27 L204.50,284.45 L205.00,284.45 L205.00,284.48 L205.50,284.48 L205.50,284.38 L206.00,284.38 L206.00,278.43 L206.50,278.43 L206.50,279.34 L207.00,279.34 L207.00,277.53 L207.50,277.53 L207.50,284.37 L208.00,284.37 L208.00,284.40 L208.50,284.40 L208.50,279.15 L209.00,279.15 L209.00,276.65 L209.50,276.65 L209.50,276.93 L210.00,276.93 L210.00,277.94 L210.50,277.94 L210.50,284.26 L211.00,284.26 L211.00,284.50 L211.50,284.50 L211.50,284.39 L212.00,284.39 L212.00,284.39 L212.50,284.39 L212.50,284.32 L213.00,284.32 L213.00,284.43 L213.50,284.43 L213.50,278.26 L214.00,278.26 L214.00,277.98 L214.50,277.98 L214.50,284.28 L215.00,284.28 L215.00,284.38 L215.50,284.38 L215.50,284.45 L216.00,284.45 L216.00,284.34 L216.50,284.34 L216.50,280.32 L217.00,280.32 L217.00,279.61 L217.50,279.61 L217.50,276.57 L218.00,276.57 L218.00,276.42 L218.50,276.42 L218.50,276.76 L219.00,276.76 L219.00,278.89 L219.50,278.89 L219.50,279.24 L220.00,279.24 L220.00,277.75 L220.50,277.75 L220.50,278.25 L221.00,278.25 L221.00,277.24 L221.50,277.24 L221.50,277.59 L222.00,277.59 L222.00,280.24 L222.50,280.24 L222.50,280.37 L223.00,280.37 L223.00,278.28 L223.50,278.28 L223.50,279.86 L224.00,279.86 L224.00,278.77 L224.50,278.77 L224.50,279.29 L225.00,279.29 L225.00,276.48 L225.50,276.48 L225.50,278.34 L226.00,278.34 L226.00,284.26 L226.50,284.26 L226.50,277.80 L227.00,277.80 L227.00,275.05 L227.50,275.05 L227.50,277.73 L228.00,277.73 L228.00,284.36 L228.50,284.36 L228.50,284.34 L229.00,284.34 L229.00,284.31 L229.50,284.31 L229.50,284.32 L230.00,284.32 L230.00,277.16 L230.50,277.16 L230.50,275.06 L231.00,275.06 L231.00,275.79 L231.50,275.79 L231.50,279.87 L232.00,279.87 L232.00,276.69 L232.50,276.69 L232.50,278.18 L233.00,278.18 L233.00,279.36 L233.50,279.36 L233.50,276.66 L234.00,276.66 L234.00,275.44 L234.50,275.44 L234.50,275.67 L235.00,275.67 L235.00,284.27 L235.50,284.27 L235.50,275.59 L236.00,275.59 L236.00,277.45 L236.50,277.45 L236.50,275.34 L237.00,275.34 L237.00,275.49 L237.50,275.49 L237.50,276.48 L238.00,276.48 L238.00,275.22 L238.50,275.22 L238.50,276.21 L239.00,276.21 L239.00,277.87 L239.50,277.87 L239.50,284.46 L240.00,284.46 L240.00,284.42 L240.50,284.42 L240.50,284.39 L241.00,284.39 L241.00,284.37 L241.50,284.37 L241.50,277.65 L242.00,277.65 L242.00,276.50 L242.50,276.50 L242.50,277.06 L243.00,277.06 L243.00,275.82 L243.50,275.82 L243.50,277.72 L244.00,277.72 L244.00,277.41 L244.50,277.41 L244.50,273.75 L245.00,273.75 L245.00,271.74 L245.50,271.74 L245.50,273.44 L246.00,273.44 L246.00,271.54 L246.50,271.54 L246.50,272.43 L247.00,272.43 L247.00,272.93 L247.50,272.93 L247.50,284.32 L248.00,284.32 L248.00,284.32 L248.50,284.32 L248.50,276.36 L249.00,276.36 L249.00,277.91 L249.50,277.91 L249.50,275.51 L250.00,275.51 L250.00,276.88 L250.50,276.88 L250.50,279.03 L251.00,279.03 L251.00,277.32 L251.50,277.32 L251.50,279.52 L252.00,279.52 L252.00,276.99 L252.50,276.99 L252.50,273.19 L253.00,273.19 L253.00,274.55 L253.50,274.55 L253.50,273.16 L254.00,273.16 L254.00,273.50 L254.50,273.50 L254.50,273.56 L255.00,273.56 L255.00,272.49 L255.50,272.49 L255.50,277.21 L256.00,277.21 L256.00,273.54 L256.50,273.54 L256.50,278.05 L257.00,278.05 L257.00,273.68 L257.50,273.68 L257.50,284.36 L258.00,284.36 L257.6,284.50 Z" fill="#c3c3c6" stroke="none" stroke-width="1.00" />
<line x1="81.25" y1="284.50" x2="81.25" y2="281.70" stroke="#a2a2a6" stroke-width="0.40" />
<line x1="82.75" y1="284.50" x2="82.75" y2="281.97" stroke="#a2a2a6" stroke-width="0.40" />
<line x1="88.25" y1="284.50" x2="88.25" y2="281.84" stroke="#a2a2a6" stroke-width="0.40" />
<line x1="91.25" y1="284.50" x2="91.25" y2="281.89" stroke="#a2a2a6" stroke-width="0.40" />
<line x1="93.25" y1="284.50" x2="93.25" y2="281.67" stroke="#a2a2a6" stroke-width="0.40" />
<line x1="94.75" y1="284.50" x2="94.75" y2="281.98" stroke="#a2a2a6" stroke-width="0.40" />
<line x1="100.25" y1="284.50" x2="100.25" y2="281.50" stroke="#a2a2a6" stroke-width="0.40" />
<line x1="195.75" y1="284.50" x2="195.75" y2="276.11" stroke="#a2a2a6" stroke-width="0.40" />
<line x1="199.25" y1="284.50" x2="199.25" y2="276.29" stroke="#a2a2a6" stroke-width="0.40" />
<line x1="199.75" y1="284.50" x2="199.75" y2="275.95" stroke="#a2a2a6" stroke-width="0.40" />
<line x1="200.25" y1="284.50" x2="200.25" y2="275.41" stroke="#a2a2a6" stroke-width="0.40" />
<line x1="207.25" y1="284.50" x2="207.25" y2="277.53" stroke="#a2a2a6" stroke-width="0.40" />
<line x1="208.75" y1="284.50" x2="208.75" y2="279.15" stroke="#a2a2a6" stroke-width="0.40" />
<line x1="209.75" y1="284.50" x2="209.75" y2="276.93" stroke="#a2a2a6" stroke-width="0.40" />
<line x1="213.75" y1="284.50" x2="213.75" y2="278.26" stroke="#a2a2a6" stroke-width="0.40" />
<line x1="217.25" y1="284.50" x2="217.25" y2="279.61" stroke="#a2a2a6" stroke-width="0.40" />
<line x1="217.75" y1="284.50" x2="217.75" y2="276.57" stroke="#a2a2a6" stroke-width="0.40" />
<line x1="218.75" y1="284.50" x2="218.75" y2="276.76" stroke="#a2a2a6" stroke-width="0.40" />
<line x1="219.25" y1="284.50" x2="219.25" y2="278.89" stroke="#a2a2a6" stroke-width="0.40" />
<line x1="223.25" y1="284.50" x2="223.25" y2="278.28" stroke="#a2a2a6" stroke-width="0.40" />
<line x1="225.25" y1="284.50" x2="225.25" y2="276.48" stroke="#a2a2a6" stroke-width="0.40" />
<line x1="225.75" y1="284.50" x2="225.75" y2="278.34" stroke="#a2a2a6" stroke-width="0.40" />
<line x1="226.75" y1="284.50" x2="226.75" y2="277.80" stroke="#a2a2a6" stroke-width="0.40" />
<line x1="227.25" y1="284.50" x2="227.25" y2="275.05" stroke="#a2a2a6" stroke-width="0.40" />
<line x1="231.75" y1="284.50" x2="231.75" y2="279.87" stroke="#a2a2a6" stroke-width="0.40" />
<line x1="233.75" y1="284.50" x2="233.75" y2="276.66" stroke="#a2a2a6" stroke-width="0.40" />
<line x1="236.75" y1="284.50" x2="236.75" y2="275.34" stroke="#a2a2a6" stroke-width="0.40" />
<line x1="237.25" y1="284.50" x2="237.25" y2="275.49" stroke="#a2a2a6" stroke-width="0.40" />
<line x1="244.25" y1="284.50" x2="244.25" y2="277.41" stroke="#a2a2a6" stroke-width="0.40" />
<line x1="245.25" y1="284.50" x2="245.25" y2="271.74" stroke="#a2a2a6" stroke-width="0.40" />
<line x1="245.75" y1="284.50" x2="245.75" y2="273.44" stroke="#a2a2a6" stroke-width="0.40" />
<line x1="248.75" y1="284.50" x2="248.75" y2="276.36" stroke="#a2a2a6" stroke-width="0.40" />
<line x1="249.75" y1="284.50" x2="249.75" y2="275.51" stroke="#a2a2a6" stroke-width="0.40" />
<line x1="252.75" y1="284.50" x2="252.75" y2="273.19" stroke="#a2a2a6" stroke-width="0.40" />
<line x1="253.75" y1="284.50" x2="253.75" y2="273.16" stroke="#a2a2a6" stroke-width="0.40" />
<line x1="254.75" y1="284.50" x2="254.75" y2="273.56" stroke="#a2a2a6" stroke-width="0.40" />
<line x1="56.00" y1="284.50" x2="257.80" y2="284.50" stroke="#4d4d4d" stroke-width="1.00" />
<path d="M56,303.30 L56.00,302.95 L56.50,302.95 L56.50,303.18 L57.00,303.18 L57.00,302.72 L57.50,302.72 L57.50,302.75 L58.00,302.75 L58.00,303.02 L58.50,303.02 L58.50,302.90 L59.00,302.90 L59.00,303.17 L59.50,303.17 L59.50,303.17 L60.00,303.17 L60.00,303.13 L60.50,303.13 L60.50,302.88 L61.00,302.88 L61.00,303.17 L61.50,303.17 L61.50,302.72 L62.00,302.72 L62.00,298.70 L62.50,298.70 L62.50,298.70 L63.00,298.70 L63.00,303.25 L63.50,303.25 L63.50,302.84 L64.00,302.84 L64.00,303.08 L64.50,303.08 L64.50,303.02 L65.00,303.02 L65.00,303.10 L65.50,303.10 L65.50,302.92 L66.00,302.92 L66.00,303.06 L66.50,303.06 L66.50,303.18 L67.00,303.18 L67.00,303.04 L67.50,303.04 L67.50,303.12 L68.00,303.12 L68.00,303.23 L68.50,303.23 L68.50,302.81 L69.00,302.81 L69.00,302.89 L69.50,302.89 L69.50,302.90 L70.00,302.90 L70.00,302.77 L70.50,302.77 L70.50,303.06 L71.00,303.06 L71.00,303.07 L71.50,303.07 L71.50,303.05 L72.00,303.05 L72.00,303.06 L72.50,303.06 L72.50,302.90 L73.00,302.90 L73.00,303.30 L73.50,303.30 L73.50,303.02 L74.00,303.02 L74.00,302.98 L74.50,302.98 L74.50,303.09 L75.00,303.09 L75.00,303.29 L75.50,303.29 L75.50,302.88 L76.00,302.88 L76.00,303.29 L76.50,303.29 L76.50,302.96 L77.00,302.96 L77.00,303.21 L77.50,303.21 L77.50,303.28 L78.00,303.28 L78.00,303.19 L78.50,303.19 L78.50,303.26 L79.00,303.26 L79.00,303.21 L79.50,303.21 L79.50,302.89 L80.00,302.89 L80.00,302.86 L80.50,302.86 L80.50,299.42 L81.00,299.42 L81.00,299.74 L81.50,299.74 L81.50,300.13 L82.00,300.13 L82.00,299.34 L82.50,299.34 L82.50,300.76 L83.00,300.76 L83.00,300.70 L83.50,300.70 L83.50,298.81 L84.00,298.81 L84.00,299.03 L84.50,299.03 L84.50,299.31 L85.00,299.31 L85.00,299.09 L85.50,299.09 L85.50,300.48 L86.00,300.48 L86.00,299.13 L86.50,299.13 L86.50,298.92 L87.00,298.92 L87.00,298.93 L87.50,298.93 L87.50,298.79 L88.00,298.79 L88.00,300.07 L88.50,300.07 L88.50,299.63 L89.00,299.63 L89.00,300.04 L89.50,300.04 L89.50,300.19 L90.00,300.19 L90.00,300.58 L90.50,300.58 L90.50,300.25 L91.00,300.25 L91.00,300.54 L91.50,300.54 L91.50,298.90 L92.00,298.90 L92.00,300.57 L92.50,300.57 L92.50,298.93 L93.00,298.93 L93.00,299.46 L93.50,299.46 L93.50,299.82 L94.00,299.82 L94.00,299.11 L94.50,299.11 L94.50,300.20 L95.00,300.20 L95.00,299.63 L95.50,299.63 L95.50,300.08 L96.00,300.08 L96.00,300.17 L96.50,300.17 L96.50,298.92 L97.00,298.92 L97.00,300.66 L97.50,300.66 L97.50,300.63 L98.00,300.63 L98.00,300.52 L98.50,300.52 L98.50,300.00 L99.00,300.00 L99.00,299.39 L99.50,299.39 L99.50,299.35 L100.00,299.35 L100.00,299.40 L100.50,299.40 L100.50,300.51 L101.00,300.51 L101.00,302.97 L101.50,302.97 L101.50,303.11 L102.00,303.11 L102.00,302.89 L102.50,302.89 L102.50,302.86 L103.00,302.86 L103.00,303.16 L103.50,303.16 L103.50,303.04 L104.00,303.04 L104.00,303.03 L104.50,303.03 L104.50,303.12 L105.00,303.12 L105.00,303.28 L105.50,303.28 L105.50,303.27 L106.00,303.27 L106.00,302.70 L106.50,302.70 L106.50,302.86 L107.00,302.86 L107.00,303.04 L107.50,303.04 L107.50,302.90 L108.00,302.90 L108.00,303.14 L108.50,303.14 L108.50,302.87 L109.00,302.87 L109.00,302.73 L109.50,302.73 L109.50,302.84 L110.00,302.84 L110.00,303.02 L110.50,303.02 L110.50,302.71 L111.00,302.71 L111.00,302.75 L111.50,302.75 L111.50,303.27 L112.00,303.27 L112.00,303.05 L112.50,303.05 L112.50,303.03 L113.00,303.03 L113.00,303.14 L113.50,303.14 L113.50,302.93 L114.00,302.93 L114.00,303.21 L114.50,303.21 L114.50,302.85 L115.00,302.85 L115.00,302.79 L115.50,302.79 L115.50,303.26 L116.00,303.26 L116.00,302.88 L116.50,302.88 L116.50,303.14 L117.00,303.14 L117.00,302.92 L117.50,302.92 L117.50,302.89 L118.00,302.89 L118.00,302.71 L118.50,302.71 L118.50,302.82 L119.00,302.82 L119.00,303.10 L119.50,303.10 L119.50,302.86 L120.00,302.86 L120.00,303.21 L120.50,303.21 L120.50,302.87 L121.00,302.87 L121.00,303.05 L121.50,303.05 L121.50,303.14 L122.00,303.14 L122.00,303.16 L122.50,303.16 L122.50,303.17 L123.00,303.17 L123.00,302.82 L123.50,302.82 L123.50,303.24 L124.00,303.24 L124.00,303.16 L124.50,303.16 L124.50,303.18 L125.00,303.18 L125.00,303.21 L125.50,303.21 L125.50,302.86 L126.00,302.86 L126.00,302.95 L126.50,302.95 L126.50,302.90 L127.00,302.90 L127.00,302.76 L127.50,302.76 L127.50,303.03 L128.00,303.03 L128.00,303.28 L128.50,303.28 L128.50,303.19 L129.00,303.19 L129.00,302.99 L129.50,302.99 L129.50,302.87 L130.00,302.87 L130.00,302.75 L130.50,302.75 L130.50,302.99 L131.00,302.99 L131.00,303.16 L131.50,303.16 L131.50,302.94 L132.00,302.94 L132.00,302.74 L132.50,302.74 L132.50,303.10 L133.00,303.10 L133.00,302.74 L133.50,302.74 L133.50,302.76 L134.00,302.76 L134.00,302.95 L134.50,302.95 L134.50,303.01 L135.00,303.01 L135.00,303.22 L135.50,303.22 L135.50,303.23 L136.00,303.23 L136.00,303.28 L136.50,303.28 L136.50,302.93 L137.00,302.93 L137.00,302.87 L137.50,302.87 L137.50,302.70 L138.00,302.70 L138.00,302.94 L138.50,302.94 L138.50,302.70 L139.00,302.70 L139.00,303.06 L139.50,303.06 L139.50,303.22 L140.00,303.22 L140.00,303.26 L140.50,303.26 L140.50,303.13 L141.00,303.13 L141.00,302.98 L141.50,302.98 L141.50,302.71 L142.00,302.71 L142.00,303.12 L142.50,303.12 L142.50,303.16 L143.00,303.16 L143.00,302.87 L143.50,302.87 L143.50,303.07 L144.00,303.07 L144.00,302.96 L144.50,302.96 L144.50,303.21 L145.00,303.21 L145.00,302.79 L145.50,302.79 L145.50,302.75 L146.00,302.75 L146.00,302.85 L146.50,302.85 L146.50,302.74 L147.00,302.74 L147.00,303.10 L147.50,303.10 L147.50,303.28 L148.00,303.28 L148.00,303.12 L148.50,303.12 L148.50,302.76 L149.00,302.76 L149.00,303.02 L149.50,303.02 L149.50,303.18 L150.00,303.18 L150.00,303.21 L150.50,303.21 L150.50,303.20 L151.00,303.20 L151.00,303.04 L151.50,303.04 L151.50,302.74 L152.00,302.74 L152.00,302.77 L152.50,302.77 L152.50,302.85 L153.00,302.85 L153.00,302.85 L153.50,302.85 L153.50,303.19 L154.00,303.19 L154.00,302.83 L154.50,302.83 L154.50,303.17 L155.00,303.17 L155.00,302.98 L155.50,302.98 L155.50,303.28 L156.00,303.28 L156.00,302.76 L156.50,302.76 L156.50,303.22 L157.00,303.22 L157.00,302.94 L157.50,302.94 L157.50,302.90 L158.00,302.90 L158.00,302.91 L158.50,302.91 L158.50,302.89 L159.00,302.89 L159.00,303.08 L159.50,303.08 L159.50,302.82 L160.00,302.82 L160.00,302.74 L160.50,302.74 L160.50,302.93 L161.00,302.93 L161.00,302.71 L161.50,302.71 L161.50,302.79 L162.00,302.79 L162.00,303.27 L162.50,303.27 L162.50,302.90 L163.00,302.90 L163.00,303.25 L163.50,303.25 L163.50,302.90 L164.00,302.90 L164.00,303.08 L164.50,303.08 L164.50,302.79 L165.00,302.79 L165.00,303.27 L165.50,303.27 L165.50,302.73 L166.00,302.73 L166.00,303.27 L166.50,303.27 L166.50,303.27 L167.00,303.27 L167.00,303.30 L167.50,303.30 L167.50,303.22 L168.00,303.22 L168.00,302.71 L168.50,302.71 L168.50,302.80 L169.00,302.80 L169.00,302.75 L169.50,302.75 L169.50,303.19 L170.00,303.19 L170.00,302.89 L170.50,302.89 L170.50,302.82 L171.00,302.82 L171.00,302.86 L171.50,302.86 L171.50,303.14 L172.00,303.14 L172.00,302.72 L172.50,302.72 L172.50,302.86 L173.00,302.86 L173.00,302.89 L173.50,302.89 L173.50,302.12 L174.00,302.12 L174.00,302.00 L174.50,302.00 L174.50,301.62 L175.00,301.62 L175.00,300.00 L175.50,300.00 L175.50,300.00 L176.00,300.00 L176.00,302.49 L176.50,302.49 L176.50,302.23 L177.00,302.23 L177.00,301.90 L177.50,301.90 L177.50,301.59 L178.00,301.59 L178.00,302.37 L178.50,302.37 L178.50,302.44 L179.00,302.44 L179.00,301.77 L179.50,301.77 L179.50,301.80 L180.00,301.80 L180.00,302.06 L180.50,302.06 L180.50,301.70 L181.00,301.70 L181.00,302.43 L181.50,302.43 L181.50,301.67 L182.00,301.67 L182.00,301.81 L182.50,301.81 L182.50,301.58 L183.00,301.58 L183.00,301.77 L183.50,301.77 L183.50,302.45 L184.00,302.45 L184.00,301.94 L184.50,301.94 L184.50,302.25 L185.00,302.25 L185.00,301.99 L185.50,301.99 L185.50,302.22 L186.00,302.22 L186.00,301.66 L186.50,301.66 L186.50,301.80 L187.00,301.80 L187.00,302.42 L187.50,302.42 L187.50,301.96 L188.00,301.96 L188.00,302.39 L188.50,302.39 L188.50,302.02 L189.00,302.02 L189.00,302.37 L189.50,302.37 L189.50,302.09 L190.00,302.09 L190.00,302.34 L190.50,302.34 L190.50,302.43 L191.00,302.43 L191.00,297.13 L191.50,297.13 L191.50,298.20 L192.00,298.20 L192.00,298.55 L192.50,298.55 L192.50,302.77 L193.00,302.77 L193.00,295.64 L193.50,295.64 L193.50,297.46 L194.00,297.46 L194.00,302.78 L194.50,302.78 L194.50,294.36 L195.00,294.36 L195.00,296.09 L195.50,296.09 L195.50,294.64 L196.00,294.64 L196.00,295.11 L196.50,295.11 L196.50,303.12 L197.00,303.12 L197.00,294.49 L197.50,294.49 L197.50,297.61 L198.00,297.61 L198.00,295.21 L198.50,295.21 L198.50,303.29 L199.00,303.29 L199.00,295.85 L199.50,295.85 L199.50,294.21 L200.00,294.21 L200.00,295.81 L200.50,295.81 L200.50,302.74 L201.00,302.74 L201.00,303.17 L201.50,303.17 L201.50,303.24 L202.00,303.24 L202.00,303.05 L202.50,303.05 L202.50,302.89 L203.00,302.89 L203.00,302.78 L203.50,302.78 L203.50,302.77 L204.00,302.77 L204.00,303.29 L204.50,303.29 L204.50,303.19 L205.00,303.19 L205.00,303.22 L205.50,303.22 L205.50,302.94 L206.00,302.94 L206.00,295.51 L206.50,295.51 L206.50,296.41 L207.00,296.41 L207.00,298.00 L207.50,298.00 L207.50,302.76 L208.00,302.76 L208.00,302.78 L208.50,302.78 L208.50,292.85 L209.00,292.85 L209.00,297.15 L209.50,297.15 L209.50,293.12 L210.00,293.12 L210.00,292.50 L210.50,292.50 L210.50,302.79 L211.00,302.79 L211.00,302.88 L211.50,302.88 L211.50,303.01 L212.00,303.01 L212.00,303.21 L212.50,303.21 L212.50,302.81 L213.00,302.81 L213.00,303.20 L213.50,303.20 L213.50,289.56 L214.00,289.56 L214.00,293.08 L214.50,293.08 L214.50,302.77 L215.00,302.77 L215.00,303.11 L215.50,303.11 L215.50,303.05 L216.00,303.05 L216.00,303.04 L216.50,303.04 L216.50,296.54 L217.00,296.54 L217.00,292.96 L217.50,292.96 L217.50,293.69 L218.00,293.69 L218.00,290.64 L218.50,290.64 L218.50,291.42 L219.00,291.42 L219.00,294.12 L219.50,294.12 L219.50,294.72 L220.00,294.72 L220.00,294.84 L220.50,294.84 L220.50,292.80 L221.00,292.80 L221.00,291.46 L221.50,291.46 L221.50,291.00 L222.00,291.00 L222.00,291.90 L222.50,291.90 L222.50,294.99 L223.00,294.99 L223.00,294.03 L223.50,294.03 L223.50,292.52 L224.00,292.52 L224.00,293.38 L224.50,293.38 L224.50,291.47 L225.00,291.47 L225.00,290.51 L225.50,290.51 L225.50,293.66 L226.00,293.66 L226.00,302.80 L226.50,302.80 L226.50,295.97 L227.00,295.97 L227.00,293.39 L227.50,293.39 L227.50,297.58 L228.00,297.58 L228.00,302.98 L228.50,302.98 L228.50,303.21 L229.00,303.21 L229.00,303.29 L229.50,303.29 L229.50,303.17 L230.00,303.17 L230.00,293.40 L230.50,293.40 L230.50,293.14 L231.00,293.14 L231.00,294.43 L231.50,294.43 L231.50,292.02 L232.00,292.02 L232.00,292.50 L232.50,292.50 L232.50,294.00 L233.00,294.00 L233.00,294.96 L233.50,294.96 L233.50,292.25 L234.00,292.25 L234.00,295.40 L234.50,295.40 L234.50,293.61 L235.00,293.61 L235.00,303.23 L235.50,303.23 L235.50,296.33 L236.00,296.33 L236.00,295.52 L236.50,295.52 L236.50,293.00 L237.00,293.00 L237.00,294.54 L237.50,294.54 L237.50,292.82 L238.00,292.82 L238.00,292.37 L238.50,292.37 L238.50,296.36 L239.00,296.36 L239.00,293.52 L239.50,293.52 L239.50,302.93 L240.00,302.93 L240.00,302.87 L240.50,302.87 L240.50,303.13 L241.00,303.13 L241.00,302.80 L241.50,302.80 L241.50,294.54 L242.00,294.54 L242.00,291.06 L242.50,291.06 L242.50,296.28 L243.00,296.28 L243.00,291.43 L243.50,291.43 L243.50,290.11 L244.00,290.11 L244.00,294.36 L244.50,294.36 L244.50,294.67 L245.00,294.67 L245.00,291.62 L245.50,291.62 L245.50,289.22 L246.00,289.22 L246.00,289.31 L246.50,289.31 L246.50,289.52 L247.00,289.52 L247.00,291.72 L247.50,291.72 L247.50,302.98 L248.00,302.98 L248.00,303.02 L248.50,303.02 L248.50,290.00 L249.00,290.00 L249.00,293.61 L249.50,293.61 L249.50,292.20 L250.00,292.20 L250.00,295.00 L250.50,295.00 L250.50,289.58 L251.00,289.58 L251.00,295.64 L251.50,295.64 L251.50,290.65 L252.00,290.65 L252.00,296.63 L252.50,296.63 L252.50,292.28 L253.00,292.28 L253.00,294.21 L253.50,294.21 L253.50,290.41 L254.00,290.41 L254.00,291.14 L254.50,291.14 L254.50,294.32 L255.00,294.32 L255.00,288.97 L255.50,288.97 L255.50,289.51 L256.00,289.51 L256.00,292.59 L256.50,292.59 L256.50,289.41 L257.00,289.41 L257.00,288.62 L257.50,288.62 L257.50,302.94 L258.00,302.94 L257.6,303.30 Z" fill="#c3c3c6" stroke="none" stroke-width="1.00" />
<line x1="80.75" y1="303.30" x2="80.75" y2="299.42" stroke="#a2a2a6" stroke-width="0.40" />
<line x1="81.25" y1="303.30" x2="81.25" y2="299.74" stroke="#a2a2a6" stroke-width="0.40" />
<line x1="84.75" y1="303.30" x2="84.75" y2="299.31" stroke="#a2a2a6" stroke-width="0.40" />
<line x1="85.25" y1="303.30" x2="85.25" y2="299.09" stroke="#a2a2a6" stroke-width="0.40" />
<line x1="86.25" y1="303.30" x2="86.25" y2="299.13" stroke="#a2a2a6" stroke-width="0.40" />
<line x1="87.75" y1="303.30" x2="87.75" y2="298.79" stroke="#a2a2a6" stroke-width="0.40" />
<line x1="88.75" y1="303.30" x2="88.75" y2="299.63" stroke="#a2a2a6" stroke-width="0.40" />
<line x1="90.25" y1="303.30" x2="90.25" y2="300.58" stroke="#a2a2a6" stroke-width="0.40" />
<line x1="90.75" y1="303.30" x2="90.75" y2="300.25" stroke="#a2a2a6" stroke-width="0.40" />
<line x1="91.25" y1="303.30" x2="91.25" y2="300.54" stroke="#a2a2a6" stroke-width="0.40" />
<line x1="93.25" y1="303.30" x2="93.25" y2="299.46" stroke="#a2a2a6" stroke-width="0.40" />
<line x1="93.75" y1="303.30" x2="93.75" y2="299.82" stroke="#a2a2a6" stroke-width="0.40" />
<line x1="97.25" y1="303.30" x2="97.25" y2="300.66" stroke="#a2a2a6" stroke-width="0.40" />
<line x1="98.25" y1="303.30" x2="98.25" y2="300.52" stroke="#a2a2a6" stroke-width="0.40" />
<line x1="100.25" y1="303.30" x2="100.25" y2="299.40" stroke="#a2a2a6" stroke-width="0.40" />
<line x1="175.25" y1="303.30" x2="175.25" y2="300.00" stroke="#a2a2a6" stroke-width="0.40" />
<line x1="175.75" y1="303.30" x2="175.75" y2="300.00" stroke="#a2a2a6" stroke-width="0.40" />
<line x1="192.25" y1="303.30" x2="192.25" y2="298.55" stroke="#a2a2a6" stroke-width="0.40" />
<line x1="195.25" y1="303.30" x2="195.25" y2="296.09" stroke="#a2a2a6" stroke-width="0.40" />
<line x1="195.75" y1="303.30" x2="195.75" y2="294.64" stroke="#a2a2a6" stroke-width="0.40" />
<line x1="206.75" y1="303.30" x2="206.75" y2="296.41" stroke="#a2a2a6" stroke-width="0.40" />
<line x1="208.75" y1="303.30" x2="208.75" y2="292.85" stroke="#a2a2a6" stroke-width="0.40" />
<line x1="216.75" y1="303.30" x2="216.75" y2="296.54" stroke="#a2a2a6" stroke-width="0.40" />
<line x1="217.75" y1="303.30" x2="217.75" y2="293.69" stroke="#a2a2a6" stroke-width="0.40" />
<line x1="218.25" y1="303.30" x2="218.25" y2="290.64" stroke="#a2a2a6" stroke-width="0.40" />
<line x1="218.75" y1="303.30" x2="218.75" y2="291.42" stroke="#a2a2a6" stroke-width="0.40" />
<line x1="222.25" y1="303.30" x2="222.25" y2="291.90" stroke="#a2a2a6" stroke-width="0.40" />
<line x1="222.75" y1="303.30" x2="222.75" y2="294.99" stroke="#a2a2a6" stroke-width="0.40" />
<line x1="223.25" y1="303.30" x2="223.25" y2="294.03" stroke="#a2a2a6" stroke-width="0.40" />
<line x1="223.75" y1="303.30" x2="223.75" y2="292.52" stroke="#a2a2a6" stroke-width="0.40" />
<line x1="225.25" y1="303.30" x2="225.25" y2="290.51" stroke="#a2a2a6" stroke-width="0.40" />
<line x1="226.75" y1="303.30" x2="226.75" y2="295.97" stroke="#a2a2a6" stroke-width="0.40" />
<line x1="227.25" y1="303.30" x2="227.25" y2="293.39" stroke="#a2a2a6" stroke-width="0.40" />
<line x1="227.75" y1="303.30" x2="227.75" y2="297.58" stroke="#a2a2a6" stroke-width="0.40" />
<line x1="230.25" y1="303.30" x2="230.25" y2="293.40" stroke="#a2a2a6" stroke-width="0.40" />
<line x1="231.75" y1="303.30" x2="231.75" y2="292.02" stroke="#a2a2a6" stroke-width="0.40" />
<line x1="233.75" y1="303.30" x2="233.75" y2="292.25" stroke="#a2a2a6" stroke-width="0.40" />
<line x1="234.75" y1="303.30" x2="234.75" y2="293.61" stroke="#a2a2a6" stroke-width="0.40" />
<line x1="238.25" y1="303.30" x2="238.25" y2="292.37" stroke="#a2a2a6" stroke-width="0.40" />
<line x1="239.25" y1="303.30" x2="239.25" y2="293.52" stroke="#a2a2a6" stroke-width="0.40" />
<line x1="242.75" y1="303.30" x2="242.75" y2="296.28" stroke="#a2a2a6" stroke-width="0.40" />
<line x1="245.25" y1="303.30" x2="245.25" y2="291.62" stroke="#a2a2a6" stroke-width="0.40" />
<line x1="245.75" y1="303.30" x2="245.75" y2="289.22" stroke="#a2a2a6" stroke-width="0.40" />
<line x1="250.75" y1="303.30" x2="250.75" y2="289.58" stroke="#a2a2a6" stroke-width="0.40" />
<line x1="252.25" y1="303.30" x2="252.25" y2="296.63" stroke="#a2a2a6" stroke-width="0.40" />
<line x1="252.75" y1="303.30" x2="252.75" y2="292.28" stroke="#a2a2a6" stroke-width="0.40" />
<line x1="257.25" y1="303.30" x2="257.25" y2="288.62" stroke="#a2a2a6" stroke-width="0.40" />
<line x1="56.00" y1="303.30" x2="257.80" y2="303.30" stroke="#4d4d4d" stroke-width="1.00" />
<path d="M56,322.20 L56.00,322.04 L56.50,322.04 L56.50,321.52 L57.00,321.52 L57.00,322.01 L57.50,322.01 L57.50,321.42 L58.00,321.42 L58.00,321.53 L58.50,321.53 L58.50,321.78 L59.00,321.78 L59.00,321.52 L59.50,321.52 L59.50,321.58 L60.00,321.58 L60.00,322.15 L60.50,322.15 L60.50,321.62 L61.00,321.62 L61.00,321.52 L61.50,321.52 L61.50,321.63 L62.00,321.63 L62.00,319.70 L62.50,319.70 L62.50,321.39 L63.00,321.39 L63.00,321.79 L63.50,321.79 L63.50,321.95 L64.00,321.95 L64.00,322.06 L64.50,322.06 L64.50,321.31 L65.00,321.31 L65.00,321.44 L65.50,321.44 L65.50,321.53 L66.00,321.53 L66.00,321.71 L66.50,321.71 L66.50,321.65 L67.00,321.65 L67.00,321.96 L67.50,321.96 L67.50,321.62 L68.00,321.62 L68.00,322.04 L68.50,322.04 L68.50,321.52 L69.00,321.52 L69.00,321.51 L69.50,321.51 L69.50,321.46 L70.00,321.46 L70.00,320.60 L70.50,320.60 L70.50,322.10 L71.00,322.10 L71.00,321.83 L71.50,321.83 L71.50,321.44 L72.00,321.44 L72.00,321.64 L72.50,321.64 L72.50,321.38 L73.00,321.38 L73.00,321.00 L73.50,321.00 L73.50,321.76 L74.00,321.76 L74.00,321.20 L74.50,321.20 L74.50,322.02 L75.00,322.02 L75.00,321.97 L75.50,321.97 L75.50,321.55 L76.00,321.55 L76.00,321.51 L76.50,321.51 L76.50,321.72 L77.00,321.72 L77.00,321.59 L77.50,321.59 L77.50,321.72 L78.00,321.72 L78.00,321.46 L78.50,321.46 L78.50,321.22 L79.00,321.22 L79.00,321.29 L79.50,321.29 L79.50,321.50 L80.00,321.50 L80.00,321.68 L80.50,321.68 L80.50,317.69 L81.00,317.69 L81.00,316.56 L81.50,316.56 L81.50,317.85 L82.00,317.85 L82.00,317.28 L82.50,317.28 L82.50,317.22 L83.00,317.22 L83.00,316.27 L83.50,316.27 L83.50,317.82 L84.00,317.82 L84.00,316.35 L84.50,316.35 L84.50,318.70 L85.00,318.70 L85.00,316.52 L85.50,316.52 L85.50,318.21 L86.00,318.21 L86.00,316.36 L86.50,316.36 L86.50,317.69 L87.00,317.69 L87.00,318.30 L87.50,318.30 L87.50,318.51 L88.00,318.51 L88.00,318.28 L88.50,318.28 L88.50,317.85 L89.00,317.85 L89.00,318.58 L89.50,318.58 L89.50,317.77 L90.00,317.77 L90.00,316.93 L90.50,316.93 L90.50,318.24 L91.00,318.24 L91.00,318.10 L91.50,318.10 L91.50,318.36 L92.00,318.36 L92.00,316.72 L92.50,316.72 L92.50,317.65 L93.00,317.65 L93.00,317.17 L93.50,317.17 L93.50,318.65 L94.00,318.65 L94.00,316.77 L94.50,316.77 L94.50,316.64 L95.00,316.64 L95.00,316.42 L95.50,316.42 L95.50,318.88 L96.00,318.88 L96.00,318.31 L96.50,318.31 L96.50,317.00 L97.00,317.00 L97.00,317.00 L97.50,317.00 L97.50,317.18 L98.00,317.18 L98.00,316.64 L98.50,316.64 L98.50,316.80 L99.00,316.80 L99.00,316.56 L99.50,316.56 L99.50,318.39 L100.00,318.39 L100.00,318.52 L100.50,318.52 L100.50,317.28 L101.00,317.28 L101.00,321.67 L101.50,321.67 L101.50,321.23 L102.00,321.23 L102.00,321.15 L102.50,321.15 L102.50,321.82 L103.00,321.82 L103.00,322.05 L103.50,322.05 L103.50,321.19 L104.00,321.19 L104.00,321.70 L104.50,321.70 L104.50,321.93 L105.00,321.93 L105.00,322.05 L105.50,322.05 L105.50,322.19 L106.00,322.19 L106.00,321.56 L106.50,321.56 L106.50,321.89 L107.00,321.89 L107.00,321.59 L107.50,321.59 L107.50,321.18 L108.00,321.18 L108.00,321.67 L108.50,321.67 L108.50,321.15 L109.00,321.15 L109.00,322.13 L109.50,322.13 L109.50,321.37 L110.00,321.37 L110.00,321.37 L110.50,321.37 L110.50,321.15 L111.00,321.15 L111.00,322.17 L111.50,322.17 L111.50,321.64 L112.00,321.64 L112.00,321.59 L112.50,321.59 L112.50,321.54 L113.00,321.54 L113.00,321.68 L113.50,321.68 L113.50,321.90 L114.00,321.90 L114.00,321.21 L114.50,321.21 L114.50,321.23 L115.00,321.23 L115.00,321.43 L115.50,321.43 L115.50,321.14 L116.00,321.14 L116.00,321.59 L116.50,321.59 L116.50,322.11 L117.00,322.11 L117.00,321.44 L117.50,321.44 L117.50,322.08 L118.00,322.08 L118.00,321.37 L118.50,321.37 L118.50,321.49 L119.00,321.49 L119.00,321.97 L119.50,321.97 L119.50,322.03 L120.00,322.03 L120.00,322.13 L120.50,322.13 L120.50,322.01 L121.00,322.01 L121.00,321.12 L121.50,321.12 L121.50,321.95 L122.00,321.95 L122.00,321.23 L122.50,321.23 L122.50,322.05 L123.00,322.05 L123.00,321.83 L123.50,321.83 L123.50,321.68 L124.00,321.68 L124.00,321.81 L124.50,321.81 L124.50,321.14 L125.00,321.14 L125.00,321.94 L125.50,321.94 L125.50,321.67 L126.00,321.67 L126.00,321.97 L126.50,321.97 L126.50,322.08 L127.00,322.08 L127.00,321.44 L127.50,321.44 L127.50,321.83 L128.00,321.83 L128.00,321.66 L128.50,321.66 L128.50,321.44 L129.00,321.44 L129.00,322.10 L129.50,322.10 L129.50,322.14 L130.00,322.14 L130.00,321.44 L130.50,321.44 L130.50,321.11 L131.00,321.11 L131.00,322.18 L131.50,322.18 L131.50,321.70 L132.00,321.70 L132.00,321.11 L132.50,321.11 L132.50,321.28 L133.00,321.28 L133.00,321.11 L133.50,321.11 L133.50,321.62 L134.00,321.62 L134.00,321.13 L134.50,321.13 L134.50,322.14 L135.00,322.14 L135.00,321.68 L135.50,321.68 L135.50,321.27 L136.00,321.27 L136.00,321.77 L136.50,321.77 L136.50,321.72 L137.00,321.72 L137.00,321.71 L137.50,321.71 L137.50,321.78 L138.00,321.78 L138.00,321.31 L138.50,321.31 L138.50,321.13 L139.00,321.13 L139.00,321.95 L139.50,321.95 L139.50,321.85 L140.00,321.85 L140.00,321.32 L140.50,321.32 L140.50,321.38 L141.00,321.38 L141.00,321.30 L141.50,321.30 L141.50,321.45 L142.00,321.45 L142.00,321.19 L142.50,321.19 L142.50,321.27 L143.00,321.27 L143.00,321.50 L143.50,321.50 L143.50,321.89 L144.00,321.89 L144.00,322.11 L144.50,322.11 L144.50,321.25 L145.00,321.25 L145.00,321.26 L145.50,321.26 L145.50,321.22 L146.00,321.22 L146.00,321.91 L146.50,321.91 L146.50,321.39 L147.00,321.39 L147.00,321.18 L147.50,321.18 L147.50,321.97 L148.00,321.97 L148.00,322.17 L148.50,322.17 L148.50,322.01 L149.00,322.01 L149.00,321.96 L149.50,321.96 L149.50,321.45 L150.00,321.45 L150.00,321.30 L150.50,321.30 L150.50,321.22 L151.00,321.22 L151.00,321.13 L151.50,321.13 L151.50,321.19 L152.00,321.19 L152.00,321.43 L152.50,321.43 L152.50,321.53 L153.00,321.53 L153.00,321.31 L153.50,321.31 L153.50,321.51 L154.00,321.51 L154.00,321.72 L154.50,321.72 L154.50,321.57 L155.00,321.57 L155.00,321.53 L155.50,321.53 L155.50,321.45 L156.00,321.45 L156.00,321.34 L156.50,321.34 L156.50,321.55 L157.00,321.55 L157.00,321.26 L157.50,321.26 L157.50,321.39 L158.00,321.39 L158.00,321.30 L158.50,321.30 L158.50,321.41 L159.00,321.41 L159.00,321.40 L159.50,321.40 L159.50,321.23 L160.00,321.23 L160.00,321.29 L160.50,321.29 L160.50,321.74 L161.00,321.74 L161.00,321.60 L161.50,321.60 L161.50,321.33 L162.00,321.33 L162.00,321.48 L162.50,321.48 L162.50,321.26 L163.00,321.26 L163.00,321.27 L163.50,321.27 L163.50,321.38 L164.00,321.38 L164.00,321.46 L164.50,321.46 L164.50,321.59 L165.00,321.59 L165.00,321.27 L165.50,321.27 L165.50,321.56 L166.00,321.56 L166.00,320.95 L166.50,320.95 L166.50,320.69 L167.00,320.69 L167.00,320.53 L167.50,320.53 L167.50,320.60 L168.00,320.60 L168.00,320.70 L168.50,320.70 L168.50,320.36 L169.00,320.36 L169.00,321.01 L169.50,321.01 L169.50,320.50 L170.00,320.50 L170.00,320.45 L170.50,320.45 L170.50,321.17 L171.00,321.17 L171.00,320.43 L171.50,320.43 L171.50,316.80 L172.00,316.80 L172.00,320.38 L172.50,320.38 L172.50,321.10 L173.00,321.10 L173.00,320.92 L173.50,320.92 L173.50,320.50 L174.00,320.50 L174.00,321.19 L174.50,321.19 L174.50,320.74 L175.00,320.74 L175.00,320.56 L175.50,320.56 L175.50,316.20 L176.00,316.20 L176.00,316.20 L176.50,316.20 L176.50,321.18 L177.00,321.18 L177.00,320.40 L177.50,320.40 L177.50,321.14 L178.00,321.14 L178.00,320.88 L178.50,320.88 L178.50,320.58 L179.00,320.58 L179.00,321.22 L179.50,321.22 L179.50,320.46 L180.00,320.46 L180.00,320.40 L180.50,320.40 L180.50,321.02 L181.00,321.02 L181.00,320.95 L181.50,320.95 L181.50,321.01 L182.00,321.01 L182.00,321.17 L182.50,321.17 L182.50,321.01 L183.00,321.01 L183.00,321.11 L183.50,321.11 L183.50,320.68 L184.00,320.68 L184.00,321.00 L184.50,321.00 L184.50,320.95 L185.00,320.95 L185.00,320.72 L185.50,320.72 L185.50,320.47 L186.00,320.47 L186.00,320.48 L186.50,320.48 L186.50,320.40 L187.00,320.40 L187.00,320.64 L187.50,320.64 L187.50,320.95 L188.00,320.95 L188.00,320.41 L188.50,320.41 L188.50,321.01 L189.00,321.01 L189.00,320.58 L189.50,320.58 L189.50,321.23 L190.00,321.23 L190.00,320.39 L190.50,320.39 L190.50,320.39 L191.00,320.39 L191.00,314.50 L191.50,314.50 L191.50,314.61 L192.00,314.61 L192.00,316.16 L192.50,316.16 L192.50,322.06 L193.00,322.06 L193.00,314.86 L193.50,314.86 L193.50,316.23 L194.00,316.23 L194.00,321.71 L194.50,321.71 L194.50,312.23 L195.00,312.23 L195.00,315.84 L195.50,315.84 L195.50,311.94 L196.00,311.94 L196.00,312.45 L196.50,312.45 L196.50,322.12 L197.00,322.12 L197.00,312.18 L197.50,312.18 L197.50,315.02 L198.00,315.02 L198.00,311.91 L198.50,311.91 L198.50,321.20 L199.00,321.20 L199.00,314.55 L199.50,314.55 L199.50,314.43 L200.00,314.43 L200.00,315.76 L200.50,315.76 L200.50,321.66 L201.00,321.66 L201.00,322.18 L201.50,322.18 L201.50,321.32 L202.00,321.32 L202.00,321.58 L202.50,321.58 L202.50,322.00 L203.00,322.00 L203.00,321.16 L203.50,321.16 L203.50,321.97 L204.00,321.97 L204.00,322.16 L204.50,322.16 L204.50,321.40 L205.00,321.40 L205.00,322.11 L205.50,322.11 L205.50,321.48 L206.00,321.48 L206.00,318.65 L206.50,318.65 L206.50,316.18 L207.00,316.18 L207.00,315.92 L207.50,315.92 L207.50,321.41 L208.00,321.41 L208.00,322.01 L208.50,322.01 L208.50,314.96 L209.00,314.96 L209.00,314.78 L209.50,314.78 L209.50,314.23 L210.00,314.23 L210.00,316.34 L210.50,316.34 L210.50,322.00 L211.00,322.00 L211.00,322.19 L211.50,322.19 L211.50,321.24 L212.00,321.24 L212.00,321.97 L212.50,321.97 L212.50,321.56 L213.00,321.56 L213.00,321.62 L213.50,321.62 L213.50,308.49 L214.00,308.49 L214.00,313.22 L214.50,313.22 L214.50,321.73 L215.00,321.73 L215.00,322.00 L215.50,322.00 L215.50,321.78 L216.00,321.78 L216.00,321.39 L216.50,321.39 L216.50,310.59 L217.00,310.59 L217.00,308.81 L217.50,308.81 L217.50,310.21 L218.00,310.21 L218.00,315.33 L218.50,315.33 L218.50,311.92 L219.00,311.92 L219.00,313.12 L219.50,313.12 L219.50,314.13 L220.00,314.13 L220.00,315.07 L220.50,315.07 L220.50,310.09 L221.00,310.09 L221.00,312.43 L221.50,312.43 L221.50,310.23 L222.00,310.23 L222.00,310.16 L222.50,310.16 L222.50,309.38 L223.00,309.38 L223.00,309.85 L223.50,309.85 L223.50,312.01 L224.00,312.01 L224.00,310.04 L224.50,310.04 L224.50,311.06 L225.00,311.06 L225.00,310.18 L225.50,310.18 L225.50,311.59 L226.00,311.59 L226.00,321.74 L226.50,321.74 L226.50,311.92 L227.00,311.92 L227.00,313.77 L227.50,313.77 L227.50,312.24 L228.00,312.24 L228.00,321.54 L228.50,321.54 L228.50,321.51 L229.00,321.51 L229.00,321.98 L229.50,321.98 L229.50,321.58 L230.00,321.58 L230.00,311.97 L230.50,311.97 L230.50,312.03 L231.00,312.03 L231.00,313.47 L231.50,313.47 L231.50,314.96 L232.00,314.96 L232.00,311.49 L232.50,311.49 L232.50,313.23 L233.00,313.23 L233.00,313.95 L233.50,313.95 L233.50,313.03 L234.00,313.03 L234.00,310.79 L234.50,310.79 L234.50,312.96 L235.00,312.96 L235.00,321.95 L235.50,321.95 L235.50,313.07 L236.00,313.07 L236.00,311.65 L236.50,311.65 L236.50,312.75 L237.00,312.75 L237.00,310.99 L237.50,310.99 L237.50,310.22 L238.00,310.22 L238.00,311.34 L238.50,311.34 L238.50,311.50 L239.00,311.50 L239.00,314.26 L239.50,314.26 L239.50,322.06 L240.00,322.06 L240.00,321.76 L240.50,321.76 L240.50,321.10 L241.00,321.10 L241.00,321.64 L241.50,321.64 L241.50,311.93 L242.00,311.93 L242.00,312.51 L242.50,312.51 L242.50,312.64 L243.00,312.64 L243.00,311.75 L243.50,311.75 L243.50,309.48 L244.00,309.48 L244.00,310.96 L244.50,310.96 L244.50,307.91 L245.00,307.91 L245.00,307.51 L245.50,307.51 L245.50,308.57 L246.00,308.57 L246.00,310.49 L246.50,310.49 L246.50,307.69 L247.00,307.69 L247.00,307.24 L247.50,307.24 L247.50,321.72 L248.00,321.72 L248.00,321.19 L248.50,321.19 L248.50,311.44 L249.00,311.44 L249.00,310.67 L249.50,310.67 L249.50,311.41 L250.00,311.41 L250.00,312.86 L250.50,312.86 L250.50,310.85 L251.00,310.85 L251.00,312.68 L251.50,312.68 L251.50,312.76 L252.00,312.76 L252.00,316.42 L252.50,316.42 L252.50,310.50 L253.00,310.50 L253.00,309.33 L253.50,309.33 L253.50,309.96 L254.00,309.96 L254.00,309.75 L254.50,309.75 L254.50,309.91 L255.00,309.91 L255.00,313.02 L255.50,313.02 L255.50,315.66 L256.00,315.66 L256.00,314.16 L256.50,314.16 L256.50,310.29 L257.00,310.29 L257.00,311.19 L257.50,311.19 L257.50,321.26 L258.00,321.26 L257.6,322.20 Z" fill="#c3c3c6" stroke="none" stroke-width="1.00" />
<line x1="80.75" y1="322.20" x2="80.75" y2="317.69" stroke="#a2a2a6" stroke-width="0.40" />
<line x1="81.75" y1="322.20" x2="81.75" y2="317.85" stroke="#a2a2a6" stroke-width="0.40" />
<line x1="82.25" y1="322.20" x2="82.25" y2="317.28" stroke="#a2a2a6" stroke-width="0.40" />
<line x1="84.75" y1="322.20" x2="84.75" y2="318.70" stroke="#a2a2a6" stroke-width="0.40" />
<line x1="85.75" y1="322.20" x2="85.75" y2="318.21" stroke="#a2a2a6" stroke-width="0.40" />
<line x1="87.25" y1="322.20" x2="87.25" y2="318.30" stroke="#a2a2a6" stroke-width="0.40" />
<line x1="88.75" y1="322.20" x2="88.75" y2="317.85" stroke="#a2a2a6" stroke-width="0.40" />
<line x1="92.25" y1="322.20" x2="92.25" y2="316.72" stroke="#a2a2a6" stroke-width="0.40" />
<line x1="96.75" y1="322.20" x2="96.75" y2="317.00" stroke="#a2a2a6" stroke-width="0.40" />
<line x1="97.25" y1="322.20" x2="97.25" y2="317.00" stroke="#a2a2a6" stroke-width="0.40" />
<line x1="97.75" y1="322.20" x2="97.75" y2="317.18" stroke="#a2a2a6" stroke-width="0.40" />
<line x1="99.25" y1="322.20" x2="99.25" y2="316.56" stroke="#a2a2a6" stroke-width="0.40" />
<line x1="100.75" y1="322.20" x2="100.75" y2="317.28" stroke="#a2a2a6" stroke-width="0.40" />
<line x1="191.25" y1="322.20" x2="191.25" y2="314.50" stroke="#a2a2a6" stroke-width="0.40" />
<line x1="193.75" y1="322.20" x2="193.75" y2="316.23" stroke="#a2a2a6" stroke-width="0.40" />
<line x1="194.75" y1="322.20" x2="194.75" y2="312.23" stroke="#a2a2a6" stroke-width="0.40" />
<line x1="195.75" y1="322.20" x2="195.75" y2="311.94" stroke="#a2a2a6" stroke-width="0.40" />
<line x1="197.75" y1="322.20" x2="197.75" y2="315.02" stroke="#a2a2a6" stroke-width="0.40" />
<line x1="199.25" y1="322.20" x2="199.25" y2="314.55" stroke="#a2a2a6" stroke-width="0.40" />
<line x1="206.75" y1="322.20" x2="206.75" y2="316.18" stroke="#a2a2a6" stroke-width="0.40" />
<line x1="209.25" y1="322.20" x2="209.25" y2="314.78" stroke="#a2a2a6" stroke-width="0.40" />
<line x1="209.75" y1="322.20" x2="209.75" y2="314.23" stroke="#a2a2a6" stroke-width="0.40" />
<line x1="213.75" y1="322.20" x2="213.75" y2="308.49" stroke="#a2a2a6" stroke-width="0.40" />
<line x1="214.25" y1="322.20" x2="214.25" y2="313.22" stroke="#a2a2a6" stroke-width="0.40" />
<line x1="225.25" y1="322.20" x2="225.25" y2="310.18" stroke="#a2a2a6" stroke-width="0.40" />
<line x1="226.75" y1="322.20" x2="226.75" y2="311.92" stroke="#a2a2a6" stroke-width="0.40" />
<line x1="227.25" y1="322.20" x2="227.25" y2="313.77" stroke="#a2a2a6" stroke-width="0.40" />
<line x1="230.25" y1="322.20" x2="230.25" y2="311.97" stroke="#a2a2a6" stroke-width="0.40" />
<line x1="230.75" y1="322.20" x2="230.75" y2="312.03" stroke="#a2a2a6" stroke-width="0.40" />
<line x1="232.75" y1="322.20" x2="232.75" y2="313.23" stroke="#a2a2a6" stroke-width="0.40" />
<line x1="233.25" y1="322.20" x2="233.25" y2="313.95" stroke="#a2a2a6" stroke-width="0.40" />
<line x1="234.25" y1="322.20" x2="234.25" y2="310.79" stroke="#a2a2a6" stroke-width="0.40" />
<line x1="234.75" y1="322.20" x2="234.75" y2="312.96" stroke="#a2a2a6" stroke-width="0.40" />
<line x1="235.75" y1="322.20" x2="235.75" y2="313.07" stroke="#a2a2a6" stroke-width="0.40" />
<line x1="238.25" y1="322.20" x2="238.25" y2="311.34" stroke="#a2a2a6" stroke-width="0.40" />
<line x1="242.25" y1="322.20" x2="242.25" y2="312.51" stroke="#a2a2a6" stroke-width="0.40" />
<line x1="242.75" y1="322.20" x2="242.75" y2="312.64" stroke="#a2a2a6" stroke-width="0.40" />
<line x1="243.25" y1="322.20" x2="243.25" y2="311.75" stroke="#a2a2a6" stroke-width="0.40" />
<line x1="244.25" y1="322.20" x2="244.25" y2="310.96" stroke="#a2a2a6" stroke-width="0.40" />
<line x1="244.75" y1="322.20" x2="244.75" y2="307.91" stroke="#a2a2a6" stroke-width="0.40" />
<line x1="246.75" y1="322.20" x2="246.75" y2="307.69" stroke="#a2a2a6" stroke-width="0.40" />
<line x1="247.25" y1="322.20" x2="247.25" y2="307.24" stroke="#a2a2a6" stroke-width="0.40" />
<line x1="250.75" y1="322.20" x2="250.75" y2="310.85" stroke="#a2a2a6" stroke-width="0.40" />
<line x1="251.75" y1="322.20" x2="251.75" y2="312.76" stroke="#a2a2a6" stroke-width="0.40" />
<line x1="253.25" y1="322.20" x2="253.25" y2="309.33" stroke="#a2a2a6" stroke-width="0.40" />
<line x1="254.25" y1="322.20" x2="254.25" y2="309.75" stroke="#a2a2a6" stroke-width="0.40" />
<line x1="255.25" y1="322.20" x2="255.25" y2="313.02" stroke="#a2a2a6" stroke-width="0.40" />
<line x1="255.75" y1="322.20" x2="255.75" y2="315.66" stroke="#a2a2a6" stroke-width="0.40" />
<line x1="256.75" y1="322.20" x2="256.75" y2="310.29" stroke="#a2a2a6" stroke-width="0.40" />
<line x1="56.00" y1="322.20" x2="257.80" y2="322.20" stroke="#4d4d4d" stroke-width="1.00" />
<rect x="190.80" y="326.60" width="9.20" height="5.80" fill="#6d9acb" />
<rect x="206.10" y="326.60" width="4.10" height="5.80" fill="#6d9acb" />
<rect x="230.10" y="326.60" width="8.70" height="5.80" fill="#6d9acb" />
<rect x="241.30" y="326.60" width="4.80" height="5.80" fill="#6d9acb" />
<rect x="248.50" y="326.60" width="4.20" height="5.80" fill="#6d9acb" />
<rect x="190.80" y="340.30" width="9.20" height="5.80" fill="#6d9acb" />
<rect x="206.10" y="340.30" width="4.10" height="5.80" fill="#6d9acb" />
<rect x="230.10" y="340.30" width="8.70" height="5.80" fill="#6d9acb" />
<rect x="241.30" y="340.30" width="4.80" height="5.80" fill="#6d9acb" />
<rect x="248.50" y="340.30" width="4.20" height="5.80" fill="#6d9acb" />
<line x1="56.60" y1="329.50" x2="253.30" y2="329.50" stroke="#5b8ec2" stroke-width="1.30" />
<line x1="56.80" y1="327.90" x2="56.80" y2="331.10" stroke="#5b8ec2" stroke-width="0.80" />
<rect x="80.40" y="326.50" width="20.80" height="6.00" fill="#17568f" />
<rect x="190.80" y="326.60" width="1.30" height="5.80" fill="#17568f" />
<rect x="192.90" y="326.60" width="1.20" height="5.80" fill="#17568f" />
<rect x="194.70" y="326.60" width="1.10" height="5.80" fill="#17568f" />
<rect x="196.40" y="326.60" width="1.10" height="5.80" fill="#17568f" />
<rect x="198.60" y="326.60" width="1.40" height="5.80" fill="#17568f" />
<rect x="206.10" y="326.60" width="1.40" height="5.80" fill="#17568f" />
<rect x="208.50" y="326.60" width="1.70" height="5.80" fill="#17568f" />
<rect x="213.50" y="326.60" width="1.00" height="5.80" fill="#17568f" />
<rect x="216.50" y="326.60" width="8.80" height="5.80" fill="#17568f" />
<rect x="226.40" y="326.60" width="1.10" height="5.80" fill="#17568f" />
<rect x="230.10" y="326.60" width="1.10" height="5.80" fill="#17568f" />
<rect x="231.80" y="326.60" width="1.00" height="5.80" fill="#17568f" />
<rect x="233.30" y="326.60" width="1.00" height="5.80" fill="#17568f" />
<rect x="234.80" y="326.60" width="1.20" height="5.80" fill="#17568f" />
<rect x="236.90" y="326.60" width="1.90" height="5.80" fill="#17568f" />
<rect x="241.30" y="326.60" width="1.20" height="5.80" fill="#17568f" />
<rect x="243.10" y="326.60" width="1.10" height="5.80" fill="#17568f" />
<rect x="244.90" y="326.60" width="1.20" height="5.80" fill="#17568f" />
<rect x="248.50" y="326.60" width="1.40" height="5.80" fill="#17568f" />
<rect x="250.30" y="326.60" width="2.40" height="5.80" fill="#17568f" />
<rect x="252.70" y="328.10" width="4.50" height="2.80" fill="#17568f" />
<line x1="176.10" y1="343.20" x2="253.30" y2="343.20" stroke="#5b8ec2" stroke-width="1.30" />
<line x1="176.30" y1="341.60" x2="176.30" y2="344.80" stroke="#5b8ec2" stroke-width="0.80" />
<rect x="190.80" y="340.30" width="1.30" height="5.80" fill="#17568f" />
<rect x="192.90" y="340.30" width="1.20" height="5.80" fill="#17568f" />
<rect x="194.70" y="340.30" width="1.10" height="5.80" fill="#17568f" />
<rect x="196.40" y="340.30" width="1.10" height="5.80" fill="#17568f" />
<rect x="198.60" y="340.30" width="1.40" height="5.80" fill="#17568f" />
<rect x="206.10" y="340.30" width="1.40" height="5.80" fill="#17568f" />
<rect x="208.50" y="340.30" width="1.70" height="5.80" fill="#17568f" />
<rect x="213.50" y="340.30" width="1.00" height="5.80" fill="#17568f" />
<rect x="216.50" y="340.30" width="8.80" height="5.80" fill="#17568f" />
<rect x="226.40" y="340.30" width="1.10" height="5.80" fill="#17568f" />
<rect x="230.10" y="340.30" width="1.10" height="5.80" fill="#17568f" />
<rect x="231.80" y="340.30" width="1.00" height="5.80" fill="#17568f" />
<rect x="233.30" y="340.30" width="1.00" height="5.80" fill="#17568f" />
<rect x="234.80" y="340.30" width="1.20" height="5.80" fill="#17568f" />
<rect x="236.90" y="340.30" width="1.90" height="5.80" fill="#17568f" />
<rect x="241.30" y="340.30" width="1.20" height="5.80" fill="#17568f" />
<rect x="243.10" y="340.30" width="1.10" height="5.80" fill="#17568f" />
<rect x="244.90" y="340.30" width="1.20" height="5.80" fill="#17568f" />
<rect x="248.50" y="340.30" width="1.40" height="5.80" fill="#17568f" />
<rect x="250.30" y="340.30" width="2.40" height="5.80" fill="#17568f" />
<rect x="252.70" y="341.80" width="4.50" height="2.80" fill="#17568f" />
<text x="195.60" y="338.50" font-size="6.80" text-anchor="middle" fill="#231f20" stroke="#231f20" stroke-width="0.08" >3–7</text>
<text x="217.70" y="338.50" font-size="6.80" text-anchor="middle" fill="#231f20" stroke="#231f20" stroke-width="0.08" >8–12</text>
<text x="242.60" y="338.50" font-size="6.80" text-anchor="middle" fill="#231f20" stroke="#231f20" stroke-width="0.08" >13–21</text>
<text x="176.30" y="352.10" font-size="6.80" text-anchor="middle" fill="#231f20" stroke="#231f20" stroke-width="0.08" >1</text>
<text x="195.60" y="352.10" font-size="6.80" text-anchor="middle" fill="#231f20" stroke="#231f20" stroke-width="0.08" >2–6</text>
<text x="217.70" y="352.10" font-size="6.80" text-anchor="middle" fill="#231f20" stroke="#231f20" stroke-width="0.08" >7–11</text>
<text x="242.60" y="352.10" font-size="6.80" text-anchor="middle" fill="#231f20" stroke="#231f20" stroke-width="0.08" >12–20</text>
<text x="57.40" y="338.80" font-size="6.80" text-anchor="middle" fill="#231f20" stroke="#231f20" stroke-width="0.08" >1</text>
<text x="91.30" y="338.90" font-size="6.80" text-anchor="middle" fill="#231f20" stroke="#231f20" stroke-width="0.08" >2</text>
<text x="281.20" y="15.50" font-size="11.20" text-anchor="start" fill="#231f20" stroke="#231f20" stroke-width="0.5" font-weight="bold" >B</text>
<text x="420.70" y="16.10" font-size="7.99" text-anchor="start" fill="#231f20" stroke="#231f20" stroke-width="0.08" textLength="30.30" lengthAdjust="spacingAndGlyphs" >Mutation</text>
<circle cx="425.40" cy="21.45" r="1.35" fill="#1fa3e0" stroke="#3a3a3a" stroke-width="0.35"/>
<text x="430.20" y="23.60" font-size="7.99" text-anchor="start" fill="#231f20" stroke="#231f20" stroke-width="0.08" textLength="71.70" lengthAdjust="spacingAndGlyphs" >Nonsynonymous SNV</text>
<circle cx="425.40" cy="28.75" r="1.35" fill="#d4102c" stroke="#3a3a3a" stroke-width="0.35"/>
<text x="430.20" y="30.90" font-size="7.99" text-anchor="start" fill="#231f20" stroke="#231f20" stroke-width="0.08" textLength="53.10" lengthAdjust="spacingAndGlyphs" >Frameshift indel</text>
<circle cx="425.40" cy="36.15" r="1.35" fill="#27b02f" stroke="#3a3a3a" stroke-width="0.35"/>
<text x="430.20" y="38.30" font-size="7.99" text-anchor="start" fill="#231f20" stroke="#231f20" stroke-width="0.08" textLength="46.00" lengthAdjust="spacingAndGlyphs" >Stopgain SNV</text>
<circle cx="425.40" cy="43.35" r="1.35" fill="#7a6fb4" stroke="#3a3a3a" stroke-width="0.35"/>
<text x="430.20" y="45.50" font-size="7.99" text-anchor="start" fill="#231f20" stroke="#231f20" stroke-width="0.08" textLength="81.80" lengthAdjust="spacingAndGlyphs" >Canonical splice-site (SS)</text>
<text x="430.20" y="52.30" font-size="7.99" text-anchor="start" fill="#231f20" stroke="#231f20" stroke-width="0.08" textLength="29.60" lengthAdjust="spacingAndGlyphs" >mutation</text>
<text x="420.70" y="62.00" font-size="7.99" text-anchor="start" fill="#231f20" stroke="#231f20" stroke-width="0.08" textLength="77.50" lengthAdjust="spacingAndGlyphs" >Structural variation (SV)</text>
<line x1="424.00" y1="67.60" x2="427.60" y2="67.60" stroke="#4f86c0" stroke-width="0.90" />
<text x="430.20" y="70.40" font-size="7.99" text-anchor="start" fill="#231f20" stroke="#231f20" stroke-width="0.08" textLength="27.60" lengthAdjust="spacingAndGlyphs" >Deletion</text>
<line x1="461.90" y1="67.60" x2="465.90" y2="67.60" stroke="#6cc46f" stroke-width="0.90" />
<text x="468.50" y="70.40" font-size="7.99" text-anchor="start" fill="#231f20" stroke="#231f20" stroke-width="0.08" textLength="43.90" lengthAdjust="spacingAndGlyphs" >Translocation</text>
<text x="339.40" y="34.60" font-size="7.78" text-anchor="start" fill="#c8102e" stroke="#c8102e" stroke-width="0.08" textLength="45.20" lengthAdjust="spacingAndGlyphs" ><tspan font-style="italic">CIC-L</tspan>-specific</text>
<path d="M306.6,40 L306.6,38 L416.3,38 L416.3,40" fill="none" stroke="#d4364f" stroke-width="0.90" />
<text x="341.90" y="49.60" font-size="7.78" text-anchor="start" fill="#e8248c" stroke="#e8248c" stroke-width="0.08" textLength="56.60" lengthAdjust="spacingAndGlyphs" >Highly conserved</text>
<path d="M347.2,55 L347.2,53.2 L392.8,53.2 L392.8,55" fill="none" stroke="#ec3d96" stroke-width="0.90" />
<text x="455.10" y="81.90" font-size="7.78" text-anchor="start" fill="#3f72aa" stroke="#3f72aa" stroke-width="0.08" textLength="36.40" lengthAdjust="spacingAndGlyphs" ><tspan font-style="italic">CIC</tspan>-shared</text>
<path d="M438.4,86 L438.4,84 L507.9,84 L507.9,86" fill="none" stroke="#4a7db3" stroke-width="0.90" />
<text transform="translate(270.00,115.90) rotate(-90.0)" font-size="10.37" text-anchor="middle" fill="#231f20" stroke="#231f20" stroke-width="0.08" textLength="30.20" lengthAdjust="spacingAndGlyphs" >Mutation</text>
<text transform="translate(270.10,171.30) rotate(-90.0)" font-size="10.37" text-anchor="middle" fill="#231f20" stroke="#231f20" stroke-width="0.08" textLength="17.70" lengthAdjust="spacingAndGlyphs" >Gene</text>
<text transform="translate(270.20,201.70) rotate(-90.0)" font-size="10.37" text-anchor="middle" fill="#231f20" stroke="#231f20" stroke-width="0.08" textLength="7.80" lengthAdjust="spacingAndGlyphs" >SV</text>
<text x="302.90" y="94.10" font-size="7.56" text-anchor="end" fill="#231f20" stroke="#231f20" stroke-width="0.08" textLength="11.70" lengthAdjust="spacingAndGlyphs" >ATL</text>
<text x="302.70" y="114.60" font-size="7.56" text-anchor="end" fill="#231f20" stroke="#231f20" stroke-width="0.08" textLength="24.90" lengthAdjust="spacingAndGlyphs" >PCAWG</text>
<text x="301.90" y="125.70" font-size="7.56" text-anchor="end" fill="#231f20" stroke="#231f20" stroke-width="0.08" textLength="24.10" lengthAdjust="spacingAndGlyphs" >LGG-US</text>
<text x="302.60" y="146.90" font-size="7.56" text-anchor="end" fill="#231f20" stroke="#231f20" stroke-width="0.08" textLength="30.00" lengthAdjust="spacingAndGlyphs" >COAD-US</text>
<text x="301.90" y="153.70" font-size="7.56" text-anchor="end" fill="#231f20" stroke="#231f20" stroke-width="0.08" textLength="28.10" lengthAdjust="spacingAndGlyphs" >STAD-US</text>
<text x="302.30" y="167.10" font-size="7.56" text-anchor="end" fill="#231f20" stroke="#231f20" stroke-width="0.08" font-style="italic" textLength="16.30" lengthAdjust="spacingAndGlyphs" >CIC-L</text>
<text x="301.90" y="181.10" font-size="7.56" text-anchor="end" fill="#231f20" stroke="#231f20" stroke-width="0.08" font-style="italic" textLength="16.60" lengthAdjust="spacingAndGlyphs" >CIC-S</text>
<text x="302.60" y="206.40" font-size="7.56" text-anchor="end" fill="#231f20" stroke="#231f20" stroke-width="0.08" textLength="11.50" lengthAdjust="spacingAndGlyphs" >ATL</text>
<line x1="307.00" y1="104.20" x2="507.90" y2="104.20" stroke="#666" stroke-width="1.00" />
<line x1="307.00" y1="130.80" x2="507.90" y2="130.80" stroke="#666" stroke-width="1.00" />
<line x1="307.00" y1="158.20" x2="507.90" y2="158.20" stroke="#666" stroke-width="1.00" />
<path d="M309.0,92.8 Q325,94.2 331.0,98.4 L335.6,98.4 L333,92.8 Z" fill="#000" stroke="none" stroke-width="1.00" />
<path d="M343.0,92.8 L342.0,98.4 L350.4,98.4 Q370,95.6 413.5,93.0 L413.5,92.8 Z" fill="#000" stroke="none" stroke-width="1.00" />
<path d="M335.5,92.8 L338.2,98.4 L339.4,98.4 L340.8,92.8 Z" fill="#000" stroke="none" stroke-width="1.00" />
<line x1="308.70" y1="92.60" x2="331.20" y2="98.30" stroke="#000" stroke-width="0.50" />
<line x1="311.86" y1="92.60" x2="331.20" y2="98.30" stroke="#000" stroke-width="0.50" />
<line x1="315.02" y1="92.60" x2="331.30" y2="98.30" stroke="#000" stroke-width="0.50" />
<line x1="318.18" y1="92.60" x2="332.50" y2="98.30" stroke="#000" stroke-width="0.50" />
<line x1="321.34" y1="92.60" x2="332.60" y2="98.30" stroke="#000" stroke-width="0.50" />
<line x1="324.50" y1="92.60" x2="333.80" y2="98.30" stroke="#000" stroke-width="0.50" />
<line x1="327.66" y1="92.60" x2="333.90" y2="98.30" stroke="#000" stroke-width="0.50" />
<line x1="330.82" y1="92.60" x2="335.40" y2="98.30" stroke="#000" stroke-width="0.50" />
<line x1="333.98" y1="92.60" x2="338.70" y2="98.30" stroke="#000" stroke-width="0.50" />
<line x1="337.14" y1="92.60" x2="338.80" y2="98.30" stroke="#000" stroke-width="0.50" />
<line x1="340.30" y1="92.60" x2="342.00" y2="98.30" stroke="#000" stroke-width="0.50" />
<line x1="343.46" y1="92.60" x2="342.30" y2="98.30" stroke="#000" stroke-width="0.50" />
<line x1="346.62" y1="92.60" x2="342.50" y2="98.30" stroke="#000" stroke-width="0.50" />
<line x1="349.78" y1="92.60" x2="346.30" y2="98.30" stroke="#000" stroke-width="0.50" />
<line x1="352.94" y1="92.60" x2="346.49" y2="98.30" stroke="#000" stroke-width="0.50" />
<line x1="356.10" y1="92.60" x2="346.68" y2="98.30" stroke="#000" stroke-width="0.50" />
<line x1="359.26" y1="92.60" x2="346.87" y2="98.30" stroke="#000" stroke-width="0.50" />
<line x1="362.42" y1="92.60" x2="347.06" y2="98.30" stroke="#000" stroke-width="0.50" />
<line x1="365.58" y1="92.60" x2="347.25" y2="98.30" stroke="#000" stroke-width="0.50" />
<line x1="368.74" y1="92.60" x2="347.44" y2="98.30" stroke="#000" stroke-width="0.50" />
<line x1="371.90" y1="92.60" x2="347.63" y2="98.30" stroke="#000" stroke-width="0.50" />
<line x1="375.06" y1="92.60" x2="347.82" y2="98.30" stroke="#000" stroke-width="0.50" />
<line x1="378.22" y1="92.60" x2="348.01" y2="98.30" stroke="#000" stroke-width="0.50" />
<line x1="381.38" y1="92.60" x2="348.20" y2="98.30" stroke="#000" stroke-width="0.50" />
<line x1="384.54" y1="92.60" x2="348.39" y2="98.30" stroke="#000" stroke-width="0.50" />
<line x1="387.70" y1="92.60" x2="348.58" y2="98.30" stroke="#000" stroke-width="0.50" />
<line x1="390.86" y1="92.60" x2="348.77" y2="98.30" stroke="#000" stroke-width="0.50" />
<line x1="394.02" y1="92.60" x2="348.96" y2="98.30" stroke="#000" stroke-width="0.50" />
<line x1="397.18" y1="92.60" x2="349.15" y2="98.30" stroke="#000" stroke-width="0.50" />
<line x1="400.34" y1="92.60" x2="349.34" y2="98.30" stroke="#000" stroke-width="0.50" />
<line x1="403.50" y1="92.60" x2="349.53" y2="98.30" stroke="#000" stroke-width="0.50" />
<line x1="406.66" y1="92.60" x2="349.72" y2="98.30" stroke="#000" stroke-width="0.50" />
<line x1="409.82" y1="92.60" x2="349.91" y2="98.30" stroke="#000" stroke-width="0.50" />
<line x1="412.98" y1="92.60" x2="350.10" y2="98.30" stroke="#000" stroke-width="0.50" />
<rect x="331.00" y="98.00" width="1.00" height="5.70" fill="#000" />
<rect x="332.00" y="98.00" width="1.00" height="5.70" fill="#9a9a9a" />
<rect x="333.00" y="98.00" width="1.00" height="5.70" fill="#6a6a6a" />
<rect x="335.00" y="98.00" width="1.00" height="5.70" fill="#000" />
<rect x="338.00" y="98.00" width="1.00" height="5.70" fill="#222" />
<rect x="341.00" y="98.00" width="2.00" height="5.70" fill="#000" />
<rect x="346.00" y="98.00" width="1.00" height="5.70" fill="#8a8a8a" />
<rect x="347.00" y="98.00" width="1.00" height="5.70" fill="#b0b0b0" />
<rect x="348.00" y="98.00" width="1.00" height="5.70" fill="#999" />
<rect x="349.00" y="98.00" width="1.00" height="5.70" fill="#b0b0b0" />
<rect x="350.00" y="98.00" width="1.00" height="5.70" fill="#222" />
<path d="M333.3,92.9 L336.8,98.2 M338.3,92.9 L337.0,98.2" fill="none" stroke="#fff" stroke-width="0.80" />
<path d="M341.2,92.9 L340.0,98.2 M339.8,92.9 L339.9,98.2" fill="none" stroke="#fff" stroke-width="0.70" />
<circle cx="308.70" cy="91.50" r="1.40" fill="#7a6fb4" stroke="#2a2a2a" stroke-width="0.45"/>
<circle cx="311.86" cy="91.50" r="1.40" fill="#27b02f" stroke="#2a2a2a" stroke-width="0.45"/>
<circle cx="315.02" cy="91.50" r="1.40" fill="#27b02f" stroke="#2a2a2a" stroke-width="0.45"/>
<circle cx="318.18" cy="91.50" r="1.40" fill="#27b02f" stroke="#2a2a2a" stroke-width="0.45"/>
<circle cx="321.34" cy="91.50" r="1.40" fill="#27b02f" stroke="#2a2a2a" stroke-width="0.45"/>
<circle cx="324.50" cy="91.50" r="1.40" fill="#d4102c" stroke="#2a2a2a" stroke-width="0.45"/>
<circle cx="327.66" cy="91.50" r="1.40" fill="#27b02f" stroke="#2a2a2a" stroke-width="0.45"/>
<circle cx="330.82" cy="91.50" r="1.40" fill="#27b02f" stroke="#2a2a2a" stroke-width="0.45"/>
<circle cx="330.82" cy="88.40" r="1.40" fill="#27b02f" stroke="#2a2a2a" stroke-width="0.45"/>
<circle cx="333.98" cy="91.50" r="1.40" fill="#d4102c" stroke="#2a2a2a" stroke-width="0.45"/>
<circle cx="333.98" cy="88.40" r="1.40" fill="#d4102c" stroke="#2a2a2a" stroke-width="0.45"/>
<circle cx="333.98" cy="85.30" r="1.40" fill="#d4102c" stroke="#2a2a2a" stroke-width="0.45"/>
<circle cx="337.14" cy="91.50" r="1.40" fill="#d4102c" stroke="#2a2a2a" stroke-width="0.45"/>
<circle cx="340.30" cy="91.50" r="1.40" fill="#d4102c" stroke="#2a2a2a" stroke-width="0.45"/>
<circle cx="340.30" cy="88.40" r="1.40" fill="#d4102c" stroke="#2a2a2a" stroke-width="0.45"/>
<circle cx="343.46" cy="91.50" r="1.40" fill="#27b02f" stroke="#2a2a2a" stroke-width="0.45"/>
<circle cx="346.62" cy="91.50" r="1.40" fill="#27b02f" stroke="#2a2a2a" stroke-width="0.45"/>
<circle cx="349.78" cy="91.50" r="1.40" fill="#27b02f" stroke="#2a2a2a" stroke-width="0.45"/>
<circle cx="349.78" cy="88.40" r="1.40" fill="#27b02f" stroke="#2a2a2a" stroke-width="0.45"/>
<circle cx="349.78" cy="85.30" r="1.40" fill="#27b02f" stroke="#2a2a2a" stroke-width="0.45"/>
<circle cx="352.94" cy="91.50" r="1.40" fill="#1fa3e0" stroke="#2a2a2a" stroke-width="0.45"/>
<circle cx="356.10" cy="91.50" r="1.40" fill="#1fa3e0" stroke="#2a2a2a" stroke-width="0.45"/>
<circle cx="359.26" cy="91.50" r="1.40" fill="#1fa3e0" stroke="#2a2a2a" stroke-width="0.45"/>
<circle cx="359.26" cy="88.40" r="1.40" fill="#1fa3e0" stroke="#2a2a2a" stroke-width="0.45"/>
<circle cx="359.26" cy="85.30" r="1.40" fill="#1fa3e0" stroke="#2a2a2a" stroke-width="0.45"/>
<circle cx="359.26" cy="82.20" r="1.40" fill="#1fa3e0" stroke="#2a2a2a" stroke-width="0.45"/>
<circle cx="362.42" cy="91.50" r="1.40" fill="#1fa3e0" stroke="#2a2a2a" stroke-width="0.45"/>
<circle cx="362.42" cy="88.40" r="1.40" fill="#1fa3e0" stroke="#2a2a2a" stroke-width="0.45"/>
<circle cx="362.42" cy="85.30" r="1.40" fill="#1fa3e0" stroke="#2a2a2a" stroke-width="0.45"/>
<circle cx="362.42" cy="82.20" r="1.40" fill="#1fa3e0" stroke="#2a2a2a" stroke-width="0.45"/>
<circle cx="362.42" cy="79.10" r="1.40" fill="#1fa3e0" stroke="#2a2a2a" stroke-width="0.45"/>
<circle cx="365.58" cy="91.50" r="1.40" fill="#1fa3e0" stroke="#2a2a2a" stroke-width="0.45"/>
<circle cx="368.74" cy="91.50" r="1.40" fill="#27b02f" stroke="#2a2a2a" stroke-width="0.45"/>
<circle cx="371.90" cy="91.50" r="1.40" fill="#27b02f" stroke="#2a2a2a" stroke-width="0.45"/>
<circle cx="375.06" cy="91.50" r="1.40" fill="#1fa3e0" stroke="#2a2a2a" stroke-width="0.45"/>
<circle cx="375.06" cy="88.40" r="1.40" fill="#1fa3e0" stroke="#2a2a2a" stroke-width="0.45"/>
<circle cx="375.06" cy="85.30" r="1.40" fill="#1fa3e0" stroke="#2a2a2a" stroke-width="0.45"/>
<circle cx="378.22" cy="91.50" r="1.40" fill="#1fa3e0" stroke="#2a2a2a" stroke-width="0.45"/>
<circle cx="381.38" cy="91.50" r="1.40" fill="#1fa3e0" stroke="#2a2a2a" stroke-width="0.45"/>
<circle cx="384.54" cy="91.50" r="1.40" fill="#1fa3e0" stroke="#2a2a2a" stroke-width="0.45"/>
<circle cx="387.70" cy="91.50" r="1.40" fill="#1fa3e0" stroke="#2a2a2a" stroke-width="0.45"/>
<circle cx="390.86" cy="91.50" r="1.40" fill="#d4102c" stroke="#2a2a2a" stroke-width="0.45"/>
<circle cx="394.02" cy="91.50" r="1.40" fill="#27b02f" stroke="#2a2a2a" stroke-width="0.45"/>
<circle cx="397.18" cy="91.50" r="1.40" fill="#d4102c" stroke="#2a2a2a" stroke-width="0.45"/>
<circle cx="400.34" cy="91.50" r="1.40" fill="#d4102c" stroke="#2a2a2a" stroke-width="0.45"/>
<circle cx="403.50" cy="91.50" r="1.40" fill="#27b02f" stroke="#2a2a2a" stroke-width="0.45"/>
<circle cx="403.50" cy="88.40" r="1.40" fill="#27b02f" stroke="#2a2a2a" stroke-width="0.45"/>
<circle cx="406.66" cy="91.50" r="1.40" fill="#27b02f" stroke="#2a2a2a" stroke-width="0.45"/>
<circle cx="406.66" cy="88.40" r="1.40" fill="#27b02f" stroke="#2a2a2a" stroke-width="0.45"/>
<circle cx="409.82" cy="91.50" r="1.40" fill="#d4102c" stroke="#2a2a2a" stroke-width="0.45"/>
<circle cx="412.98" cy="91.50" r="1.40" fill="#27b02f" stroke="#2a2a2a" stroke-width="0.45"/>
<text transform="translate(330.10,81.40) rotate(-90.0)" font-size="6.80" text-anchor="start" fill="#231f20" stroke="#231f20" stroke-width="0.08" textLength="20.60" lengthAdjust="spacingAndGlyphs" >R238X</text>
<text transform="translate(335.90,78.50) rotate(-90.0)" font-size="6.80" text-anchor="start" fill="#231f20" stroke="#231f20" stroke-width="0.08" textLength="21.60" lengthAdjust="spacingAndGlyphs" >R340fs</text>
<text transform="translate(342.60,81.40) rotate(-90.0)" font-size="6.80" text-anchor="start" fill="#231f20" stroke="#231f20" stroke-width="0.08" textLength="21.10" lengthAdjust="spacingAndGlyphs" >R343fs</text>
<text transform="translate(351.20,81.40) rotate(-90.0)" font-size="6.80" text-anchor="start" fill="#231f20" stroke="#231f20" stroke-width="0.08" textLength="20.60" lengthAdjust="spacingAndGlyphs" >R494X</text>
<text transform="translate(362.80,73.20) rotate(-90.0)" font-size="6.80" text-anchor="start" fill="#231f20" stroke="#231f20" stroke-width="0.08" textLength="16.30" lengthAdjust="spacingAndGlyphs" >R503</text>
<text transform="translate(379.00,78.40) rotate(-90.0)" font-size="6.80" text-anchor="start" fill="#231f20" stroke="#231f20" stroke-width="0.08" textLength="15.70" lengthAdjust="spacingAndGlyphs" >E514</text>
<text transform="translate(385.80,84.70) rotate(-90.0)" font-size="6.80" text-anchor="start" fill="#231f20" stroke="#231f20" stroke-width="0.08" textLength="16.00" lengthAdjust="spacingAndGlyphs" >C521</text>
<text transform="translate(402.00,82.20) rotate(-90.0)" font-size="6.80" text-anchor="start" fill="#231f20" stroke="#231f20" stroke-width="0.08" textLength="21.50" lengthAdjust="spacingAndGlyphs" >R713X</text>
<text transform="translate(408.50,81.50) rotate(-90.0)" font-size="6.80" text-anchor="start" fill="#231f20" stroke="#231f20" stroke-width="0.08" textLength="20.20" lengthAdjust="spacingAndGlyphs" >S780X</text>
<line x1="329.30" y1="82.20" x2="330.80" y2="86.60" stroke="#777" stroke-width="0.40" />
<line x1="334.60" y1="79.50" x2="334.00" y2="83.50" stroke="#777" stroke-width="0.40" />
<line x1="341.50" y1="82.20" x2="340.30" y2="86.60" stroke="#777" stroke-width="0.40" />
<line x1="350.00" y1="82.20" x2="349.80" y2="83.50" stroke="#777" stroke-width="0.40" />
<line x1="361.50" y1="74.20" x2="362.40" y2="77.50" stroke="#777" stroke-width="0.40" />
<line x1="377.60" y1="79.30" x2="375.10" y2="83.50" stroke="#777" stroke-width="0.40" />
<line x1="384.40" y1="85.40" x2="384.50" y2="89.60" stroke="#777" stroke-width="0.40" />
<line x1="400.60" y1="83.00" x2="403.50" y2="86.60" stroke="#777" stroke-width="0.40" />
<line x1="407.00" y1="82.40" x2="406.70" y2="86.60" stroke="#777" stroke-width="0.40" />
<line x1="440.60" y1="92.50" x2="441.60" y2="98.00" stroke="#444" stroke-width="0.50" />
<line x1="441.60" y1="98.00" x2="441.60" y2="104.00" stroke="#444" stroke-width="0.50" />
<circle cx="440.60" cy="91.50" r="1.40" fill="#27b02f" stroke="#2a2a2a" stroke-width="0.45"/>
<line x1="443.90" y1="92.50" x2="443.10" y2="98.00" stroke="#444" stroke-width="0.50" />
<line x1="443.10" y1="98.00" x2="443.10" y2="104.00" stroke="#444" stroke-width="0.50" />
<circle cx="443.90" cy="91.50" r="1.40" fill="#d4102c" stroke="#2a2a2a" stroke-width="0.45"/>
<line x1="447.40" y1="92.50" x2="447.20" y2="98.00" stroke="#444" stroke-width="0.50" />
<line x1="447.20" y1="98.00" x2="447.20" y2="104.00" stroke="#444" stroke-width="0.50" />
<circle cx="447.40" cy="91.50" r="1.40" fill="#d4102c" stroke="#2a2a2a" stroke-width="0.45"/>
<text x="442.70" y="111.20" font-size="7.56" text-anchor="start" fill="#46b04f" stroke="#46b04f" stroke-width="0.08" textLength="17.30" lengthAdjust="spacingAndGlyphs" >HMG</text>
<path d="M446.4,115.4 L446.4,113.2 L456.7,113.2 L456.7,115.4" fill="none" stroke="#46b04f" stroke-width="0.70" />
<path d="M444.60,119.50 L444.60,123.30 L444.60,130.80" fill="none" stroke="#333" stroke-width="0.55" />
<path d="M447.70,119.50 L447.30,123.30 L447.30,130.80" fill="none" stroke="#333" stroke-width="0.55" />
<path d="M451.00,119.50 L447.60,123.30 L447.60,130.80" fill="none" stroke="#333" stroke-width="0.55" />
<path d="M454.20,119.50 L447.90,123.30 L447.90,130.80" fill="none" stroke="#333" stroke-width="0.55" />
<path d="M470.80,119.50 L472.20,123.30 L472.20,130.80" fill="none" stroke="#333" stroke-width="0.55" />
<path d="M473.80,119.50 L472.50,123.30 L472.50,130.80" fill="none" stroke="#333" stroke-width="0.55" />
<path d="M485.50,119.50 L485.50,123.30 L485.50,130.80" fill="none" stroke="#333" stroke-width="0.55" />
<path d="M493.00,119.50 L493.00,123.30 L493.00,130.80" fill="none" stroke="#333" stroke-width="0.55" />
<path d="M498.60,119.50 L499.80,123.30 L499.80,130.80" fill="none" stroke="#333" stroke-width="0.55" />
<path d="M501.60,119.50 L500.10,123.30 L500.10,130.80" fill="none" stroke="#333" stroke-width="0.55" />
<line x1="447.50" y1="123.00" x2="447.50" y2="130.80" stroke="#000" stroke-width="1.00" />
<circle cx="444.60" cy="118.20" r="1.40" fill="#d4102c" stroke="#2a2a2a" stroke-width="0.45"/>
<circle cx="447.70" cy="118.20" r="1.40" fill="#1fa3e0" stroke="#2a2a2a" stroke-width="0.45"/>
<circle cx="451.00" cy="118.20" r="1.40" fill="#1fa3e0" stroke="#2a2a2a" stroke-width="0.45"/>
<circle cx="454.20" cy="118.20" r="1.40" fill="#1fa3e0" stroke="#2a2a2a" stroke-width="0.45"/>
<circle cx="470.80" cy="118.20" r="1.40" fill="#d4102c" stroke="#2a2a2a" stroke-width="0.45"/>
<circle cx="473.80" cy="118.20" r="1.40" fill="#d4102c" stroke="#2a2a2a" stroke-width="0.45"/>
<circle cx="485.50" cy="118.20" r="1.40" fill="#d4102c" stroke="#2a2a2a" stroke-width="0.45"/>
<circle cx="493.00" cy="118.20" r="1.40" fill="#d4102c" stroke="#2a2a2a" stroke-width="0.45"/>
<circle cx="498.60" cy="118.20" r="1.40" fill="#1fa3e0" stroke="#2a2a2a" stroke-width="0.45"/>
<circle cx="501.60" cy="118.20" r="1.40" fill="#1fa3e0" stroke="#2a2a2a" stroke-width="0.45"/>
<text transform="translate(342.10,106.00) rotate(-90.0)" font-size="7.02" text-anchor="end" fill="#231f20" stroke="#231f20" stroke-width="0.08" textLength="21.70" lengthAdjust="spacingAndGlyphs" >R343fs</text>
<text transform="translate(351.30,106.00) rotate(-90.0)" font-size="7.02" text-anchor="end" fill="#231f20" stroke="#231f20" stroke-width="0.08" textLength="21.70" lengthAdjust="spacingAndGlyphs" >P787fs</text>
<line x1="339.60" y1="131.50" x2="339.60" y2="141.00" stroke="#999" stroke-width="0.40" />
<line x1="348.40" y1="131.50" x2="348.40" y2="138.00" stroke="#999" stroke-width="0.40" />
<path d="M329.60,147.10 L331.50,151.80 L331.50,158.20" fill="none" stroke="#333" stroke-width="0.55" />
<path d="M332.90,147.10 L333.40,151.80 L333.40,158.20" fill="none" stroke="#333" stroke-width="0.55" />
<path d="M336.30,147.10 L336.50,151.80 L336.50,158.20" fill="none" stroke="#333" stroke-width="0.55" />
<path d="M339.80,147.10 L338.60,151.80 L338.60,158.20" fill="none" stroke="#333" stroke-width="0.55" />
<path d="M343.10,147.10 L341.00,151.80 L341.00,158.20" fill="none" stroke="#333" stroke-width="0.55" />
<path d="M348.30,147.10 L348.30,151.80 L348.30,158.20" fill="none" stroke="#333" stroke-width="0.55" />
<path d="M443.90,147.10 L443.90,151.80 L443.90,158.20" fill="none" stroke="#333" stroke-width="0.55" />
<path d="M455.90,147.10 L457.40,151.80 L457.40,158.20" fill="none" stroke="#333" stroke-width="0.55" />
<path d="M459.20,147.10 L457.60,151.80 L457.60,158.20" fill="none" stroke="#333" stroke-width="0.55" />
<path d="M467.10,147.10 L467.10,151.80 L467.10,158.20" fill="none" stroke="#333" stroke-width="0.55" />
<path d="M474.30,147.10 L474.30,151.80 L474.30,158.20" fill="none" stroke="#333" stroke-width="0.55" />
<path d="M483.00,147.10 L484.70,151.80 L484.70,158.20" fill="none" stroke="#333" stroke-width="0.55" />
<path d="M486.60,147.10 L484.90,151.80 L484.90,158.20" fill="none" stroke="#333" stroke-width="0.55" />
<path d="M501.60,147.10 L501.60,151.80 L501.60,158.20" fill="none" stroke="#333" stroke-width="0.55" />
<circle cx="329.60" cy="145.80" r="1.40" fill="#d4102c" stroke="#2a2a2a" stroke-width="0.45"/>
<circle cx="332.90" cy="145.80" r="1.40" fill="#1fa3e0" stroke="#2a2a2a" stroke-width="0.45"/>
<circle cx="336.30" cy="145.80" r="1.40" fill="#1fa3e0" stroke="#2a2a2a" stroke-width="0.45"/>
<circle cx="339.80" cy="145.80" r="1.40" fill="#d4102c" stroke="#2a2a2a" stroke-width="0.45"/>
<circle cx="339.80" cy="142.50" r="1.40" fill="#d4102c" stroke="#2a2a2a" stroke-width="0.45"/>
<circle cx="343.10" cy="145.80" r="1.40" fill="#1fa3e0" stroke="#2a2a2a" stroke-width="0.45"/>
<circle cx="348.30" cy="145.80" r="1.40" fill="#d4102c" stroke="#2a2a2a" stroke-width="0.45"/>
<circle cx="348.30" cy="142.60" r="1.40" fill="#d4102c" stroke="#2a2a2a" stroke-width="0.45"/>
<circle cx="348.30" cy="139.40" r="1.40" fill="#d4102c" stroke="#2a2a2a" stroke-width="0.45"/>
<circle cx="443.90" cy="145.90" r="1.40" fill="#d4102c" stroke="#2a2a2a" stroke-width="0.45"/>
<circle cx="455.90" cy="145.90" r="1.40" fill="#1fa3e0" stroke="#2a2a2a" stroke-width="0.45"/>
<circle cx="459.20" cy="145.90" r="1.40" fill="#d4102c" stroke="#2a2a2a" stroke-width="0.45"/>
<circle cx="467.10" cy="145.90" r="1.40" fill="#d4102c" stroke="#2a2a2a" stroke-width="0.45"/>
<circle cx="474.30" cy="145.90" r="1.40" fill="#1fa3e0" stroke="#2a2a2a" stroke-width="0.45"/>
<circle cx="483.00" cy="145.90" r="1.40" fill="#1fa3e0" stroke="#2a2a2a" stroke-width="0.45"/>
<circle cx="486.60" cy="145.90" r="1.40" fill="#d4102c" stroke="#2a2a2a" stroke-width="0.45"/>
<circle cx="501.60" cy="145.90" r="1.40" fill="#d4102c" stroke="#2a2a2a" stroke-width="0.45"/>
<circle cx="501.60" cy="142.60" r="1.40" fill="#d4102c" stroke="#2a2a2a" stroke-width="0.45"/>
<text transform="translate(510.20,157.60) rotate(-90.0)" font-size="7.02" text-anchor="start" fill="#231f20" stroke="#231f20" stroke-width="0.08" textLength="26.00" lengthAdjust="spacingAndGlyphs" >P2437fs</text>
<rect x="441.20" y="161.80" width="9.20" height="5.80" fill="#8f62a6" />
<rect x="456.50" y="161.80" width="4.10" height="5.80" fill="#8f62a6" />
<rect x="480.50" y="161.80" width="8.70" height="5.80" fill="#8f62a6" />
<rect x="491.70" y="161.80" width="4.80" height="5.80" fill="#8f62a6" />
<rect x="498.90" y="161.80" width="4.20" height="5.80" fill="#8f62a6" />
<rect x="441.20" y="176.80" width="9.20" height="5.80" fill="#8f62a6" />
<rect x="456.50" y="176.80" width="4.10" height="5.80" fill="#8f62a6" />
<rect x="480.50" y="176.80" width="8.70" height="5.80" fill="#8f62a6" />
<rect x="491.70" y="176.80" width="4.80" height="5.80" fill="#8f62a6" />
<rect x="498.90" y="176.80" width="4.20" height="5.80" fill="#8f62a6" />
<line x1="307.00" y1="164.70" x2="503.70" y2="164.70" stroke="#b99fca" stroke-width="1.30" />
<line x1="307.20" y1="163.10" x2="307.20" y2="166.30" stroke="#b99fca" stroke-width="0.80" />
<rect x="330.80" y="161.70" width="20.80" height="6.00" fill="#5c2474" />
<rect x="441.20" y="161.80" width="1.30" height="5.80" fill="#5c2474" />
<rect x="443.30" y="161.80" width="1.20" height="5.80" fill="#5c2474" />
<rect x="445.10" y="161.80" width="1.10" height="5.80" fill="#5c2474" />
<rect x="446.80" y="161.80" width="1.10" height="5.80" fill="#5c2474" />
<rect x="449.00" y="161.80" width="1.40" height="5.80" fill="#5c2474" />
<rect x="456.50" y="161.80" width="1.40" height="5.80" fill="#5c2474" />
<rect x="458.90" y="161.80" width="1.70" height="5.80" fill="#5c2474" />
<rect x="463.90" y="161.80" width="1.00" height="5.80" fill="#5c2474" />
<rect x="466.90" y="161.80" width="8.80" height="5.80" fill="#5c2474" />
<rect x="476.80" y="161.80" width="1.10" height="5.80" fill="#5c2474" />
<rect x="480.50" y="161.80" width="1.10" height="5.80" fill="#5c2474" />
<rect x="482.20" y="161.80" width="1.00" height="5.80" fill="#5c2474" />
<rect x="483.70" y="161.80" width="1.00" height="5.80" fill="#5c2474" />
<rect x="485.20" y="161.80" width="1.20" height="5.80" fill="#5c2474" />
<rect x="487.30" y="161.80" width="1.90" height="5.80" fill="#5c2474" />
<rect x="491.70" y="161.80" width="1.20" height="5.80" fill="#5c2474" />
<rect x="493.50" y="161.80" width="1.10" height="5.80" fill="#5c2474" />
<rect x="495.30" y="161.80" width="1.20" height="5.80" fill="#5c2474" />
<rect x="498.90" y="161.80" width="1.40" height="5.80" fill="#5c2474" />
<rect x="500.70" y="161.80" width="2.40" height="5.80" fill="#5c2474" />
<rect x="503.10" y="163.30" width="4.50" height="2.80" fill="#5c2474" />
<line x1="426.50" y1="179.70" x2="503.70" y2="179.70" stroke="#b99fca" stroke-width="1.30" />
<line x1="426.70" y1="178.10" x2="426.70" y2="181.30" stroke="#b99fca" stroke-width="0.80" />
<rect x="441.20" y="176.80" width="1.30" height="5.80" fill="#5c2474" />
<rect x="443.30" y="176.80" width="1.20" height="5.80" fill="#5c2474" />
<rect x="445.10" y="176.80" width="1.10" height="5.80" fill="#5c2474" />
<rect x="446.80" y="176.80" width="1.10" height="5.80" fill="#5c2474" />
<rect x="449.00" y="176.80" width="1.40" height="5.80" fill="#5c2474" />
<rect x="456.50" y="176.80" width="1.40" height="5.80" fill="#5c2474" />
<rect x="458.90" y="176.80" width="1.70" height="5.80" fill="#5c2474" />
<rect x="463.90" y="176.80" width="1.00" height="5.80" fill="#5c2474" />
<rect x="466.90" y="176.80" width="8.80" height="5.80" fill="#5c2474" />
<rect x="476.80" y="176.80" width="1.10" height="5.80" fill="#5c2474" />
<rect x="480.50" y="176.80" width="1.10" height="5.80" fill="#5c2474" />
<rect x="482.20" y="176.80" width="1.00" height="5.80" fill="#5c2474" />
<rect x="483.70" y="176.80" width="1.00" height="5.80" fill="#5c2474" />
<rect x="485.20" y="176.80" width="1.20" height="5.80" fill="#5c2474" />
<rect x="487.30" y="176.80" width="1.90" height="5.80" fill="#5c2474" />
<rect x="491.70" y="176.80" width="1.20" height="5.80" fill="#5c2474" />
<rect x="493.50" y="176.80" width="1.10" height="5.80" fill="#5c2474" />
<rect x="495.30" y="176.80" width="1.20" height="5.80" fill="#5c2474" />
<rect x="498.90" y="176.80" width="1.40" height="5.80" fill="#5c2474" />
<rect x="500.70" y="176.80" width="2.40" height="5.80" fill="#5c2474" />
<rect x="503.10" y="178.30" width="4.50" height="2.80" fill="#5c2474" />
<text x="446.00" y="174.70" font-size="7.34" text-anchor="middle" fill="#231f20" stroke="#231f20" stroke-width="0.08" >3–7</text>
<text x="468.10" y="174.70" font-size="7.34" text-anchor="middle" fill="#231f20" stroke="#231f20" stroke-width="0.08" >8–12</text>
<text x="493.00" y="174.70" font-size="7.34" text-anchor="middle" fill="#231f20" stroke="#231f20" stroke-width="0.08" >13–21</text>
<text x="426.70" y="190.60" font-size="7.34" text-anchor="middle" fill="#231f20" stroke="#231f20" stroke-width="0.08" >1</text>
<text x="446.00" y="190.60" font-size="7.34" text-anchor="middle" fill="#231f20" stroke="#231f20" stroke-width="0.08" >2–6</text>
<text x="468.10" y="190.60" font-size="7.34" text-anchor="middle" fill="#231f20" stroke="#231f20" stroke-width="0.08" >7–11</text>
<text x="493.00" y="190.60" font-size="7.34" text-anchor="middle" fill="#231f20" stroke="#231f20" stroke-width="0.08" >12–20</text>
<text x="307.70" y="175.00" font-size="7.34" text-anchor="middle" fill="#231f20" stroke="#231f20" stroke-width="0.08" >1</text>
<text x="341.50" y="175.00" font-size="7.34" text-anchor="middle" fill="#231f20" stroke="#231f20" stroke-width="0.08" >2</text>
<line x1="307.00" y1="198.40" x2="384.20" y2="198.40" stroke="#5f8bbd" stroke-width="0.90" />
<line x1="307.00" y1="200.10" x2="419.20" y2="200.10" stroke="#8eaed0" stroke-width="1.00" />
<line x1="307.00" y1="201.30" x2="419.00" y2="201.30" stroke="#a9c1db" stroke-width="1.00" />
<line x1="307.00" y1="203.50" x2="374.60" y2="203.50" stroke="#8eaed0" stroke-width="1.00" />
<line x1="307.00" y1="204.60" x2="381.50" y2="204.60" stroke="#c3d3e6" stroke-width="1.20" />
<line x1="307.00" y1="205.80" x2="381.50" y2="205.80" stroke="#8eaed0" stroke-width="1.00" />
<line x1="307.00" y1="208.30" x2="428.20" y2="208.30" stroke="#5f8bbd" stroke-width="0.90" />
<circle cx="339.70" cy="201.30" r="0.60" fill="#3f6ea8" />
<line x1="403.60" y1="196.20" x2="507.60" y2="196.20" stroke="#7fcf86" stroke-width="0.90" />
<line x1="444.60" y1="210.60" x2="507.60" y2="210.60" stroke="#7fcf86" stroke-width="0.90" />
<text x="303.30" y="241.90" font-size="11.00" text-anchor="start" fill="#231f20" stroke="#231f20" stroke-width="0.5" font-weight="bold" >E</text>
<text x="328.20" y="243.90" font-size="6.70" text-anchor="start" fill="#231f20" stroke="#231f20" stroke-width="0.08" textLength="22.60" lengthAdjust="spacingAndGlyphs" >ssGSEA</text>
<line x1="344.40" y1="248.90" x2="344.40" y2="343.90" stroke="#231f20" stroke-width="1.10" />
<line x1="343.90" y1="343.40" x2="391.60" y2="343.40" stroke="#231f20" stroke-width="1.10" />
<line x1="341.30" y1="261.40" x2="344.40" y2="261.40" stroke="#231f20" stroke-width="0.90" />
<text x="339.30" y="264.20" font-size="8.42" text-anchor="end" fill="#231f20" stroke="#231f20" stroke-width="0.08" >3</text>
<line x1="341.30" y1="280.90" x2="344.40" y2="280.90" stroke="#231f20" stroke-width="0.90" />
<text x="339.30" y="283.70" font-size="8.42" text-anchor="end" fill="#231f20" stroke="#231f20" stroke-width="0.08" >2</text>
<line x1="341.30" y1="300.40" x2="344.40" y2="300.40" stroke="#231f20" stroke-width="0.90" />
<text x="339.30" y="303.20" font-size="8.42" text-anchor="end" fill="#231f20" stroke="#231f20" stroke-width="0.08" >1</text>
<line x1="341.30" y1="319.90" x2="344.40" y2="319.90" stroke="#231f20" stroke-width="0.90" />
<text x="339.30" y="322.70" font-size="8.42" text-anchor="end" fill="#231f20" stroke="#231f20" stroke-width="0.08" >0</text>
<line x1="341.30" y1="339.40" x2="344.40" y2="339.40" stroke="#231f20" stroke-width="0.90" />
<text x="339.30" y="342.20" font-size="8.42" text-anchor="end" fill="#231f20" stroke="#231f20" stroke-width="0.08" >−1</text>
<line x1="357.20" y1="343.40" x2="357.20" y2="346.00" stroke="#231f20" stroke-width="0.90" />
<line x1="379.30" y1="343.40" x2="379.30" y2="346.00" stroke="#231f20" stroke-width="0.90" />
<line x1="357.10" y1="265.88" x2="357.10" y2="286.55" stroke="#c8102e" stroke-width="1.00" />
<line x1="357.10" y1="309.56" x2="357.10" y2="341.74" stroke="#c8102e" stroke-width="1.00" />
<rect x="348.70" y="286.55" width="16.80" height="23.01" fill="none" stroke="#c8102e" stroke-width="1.0"/>
<line x1="348.70" y1="293.96" x2="365.50" y2="293.96" stroke="#c8102e" stroke-width="1.00" />
<circle cx="359.16" cy="265.88" r="1.30" fill="#c8102e" />
<circle cx="355.29" cy="268.81" r="1.30" fill="#c8102e" />
<circle cx="359.89" cy="270.17" r="1.30" fill="#c8102e" />
<circle cx="357.06" cy="272.12" r="1.30" fill="#c8102e" />
<circle cx="356.45" cy="278.95" r="1.30" fill="#c8102e" />
<circle cx="357.84" cy="281.88" r="1.30" fill="#c8102e" />
<circle cx="355.02" cy="283.82" r="1.30" fill="#c8102e" />
<circle cx="355.17" cy="284.80" r="1.30" fill="#c8102e" />
<circle cx="356.61" cy="285.58" r="1.30" fill="#c8102e" />
<circle cx="355.40" cy="286.36" r="1.30" fill="#c8102e" />
<circle cx="359.49" cy="286.75" r="1.30" fill="#c8102e" />
<circle cx="355.93" cy="287.14" r="1.30" fill="#c8102e" />
<circle cx="355.47" cy="288.31" r="1.30" fill="#c8102e" />
<circle cx="353.99" cy="289.09" r="1.30" fill="#c8102e" />
<circle cx="353.19" cy="290.26" r="1.30" fill="#c8102e" />
<circle cx="360.13" cy="291.23" r="1.30" fill="#c8102e" />
<circle cx="362.74" cy="292.21" r="1.30" fill="#c8102e" />
<circle cx="355.00" cy="293.38" r="1.30" fill="#c8102e" />
<circle cx="361.36" cy="294.35" r="1.30" fill="#c8102e" />
<circle cx="354.48" cy="294.94" r="1.30" fill="#c8102e" />
<circle cx="360.75" cy="296.50" r="1.30" fill="#c8102e" />
<circle cx="353.44" cy="298.45" r="1.30" fill="#c8102e" />
<circle cx="358.06" cy="300.01" r="1.30" fill="#c8102e" />
<circle cx="355.80" cy="301.38" r="1.30" fill="#c8102e" />
<circle cx="362.29" cy="302.74" r="1.30" fill="#c8102e" />
<circle cx="360.76" cy="304.30" r="1.30" fill="#c8102e" />
<circle cx="351.61" cy="306.25" r="1.30" fill="#c8102e" />
<circle cx="351.49" cy="308.20" r="1.30" fill="#c8102e" />
<circle cx="356.54" cy="309.17" r="1.30" fill="#c8102e" />
<circle cx="355.31" cy="310.15" r="1.30" fill="#c8102e" />
<circle cx="355.45" cy="312.49" r="1.30" fill="#c8102e" />
<circle cx="359.94" cy="315.61" r="1.30" fill="#c8102e" />
<circle cx="359.88" cy="317.56" r="1.30" fill="#c8102e" />
<circle cx="354.06" cy="318.73" r="1.30" fill="#c8102e" />
<circle cx="354.09" cy="319.90" r="1.30" fill="#c8102e" />
<circle cx="357.90" cy="320.68" r="1.30" fill="#c8102e" />
<circle cx="359.92" cy="321.85" r="1.30" fill="#c8102e" />
<circle cx="359.55" cy="323.02" r="1.30" fill="#c8102e" />
<circle cx="358.32" cy="324.58" r="1.30" fill="#c8102e" />
<circle cx="358.61" cy="327.31" r="1.30" fill="#c8102e" />
<circle cx="356.99" cy="330.62" r="1.30" fill="#c8102e" />
<circle cx="357.04" cy="335.50" r="1.30" fill="#c8102e" />
<circle cx="359.35" cy="341.74" r="1.30" fill="#c8102e" />
<circle cx="351.61" cy="297.47" r="1.30" fill="#c8102e" />
<circle cx="358.25" cy="314.05" r="1.30" fill="#c8102e" />
<line x1="378.60" y1="258.08" x2="378.60" y2="275.05" stroke="#1f5c99" stroke-width="1.00" />
<line x1="378.60" y1="293.38" x2="378.60" y2="318.92" stroke="#1f5c99" stroke-width="1.00" />
<rect x="370.30" y="275.05" width="16.60" height="18.33" fill="none" stroke="#1f5c99" stroke-width="1.0"/>
<line x1="370.30" y1="289.87" x2="386.90" y2="289.87" stroke="#1f5c99" stroke-width="1.00" />
<circle cx="375.98" cy="258.08" r="1.30" fill="#1f5c99" />
<circle cx="376.19" cy="262.38" r="1.30" fill="#1f5c99" />
<circle cx="378.06" cy="269.20" r="1.30" fill="#1f5c99" />
<circle cx="376.31" cy="274.07" r="1.30" fill="#1f5c99" />
<circle cx="383.82" cy="275.05" r="1.30" fill="#1f5c99" />
<circle cx="372.60" cy="275.44" r="1.30" fill="#1f5c99" />
<circle cx="379.07" cy="281.88" r="1.30" fill="#1f5c99" />
<circle cx="376.42" cy="283.63" r="1.30" fill="#1f5c99" />
<circle cx="383.18" cy="283.82" r="1.30" fill="#1f5c99" />
<circle cx="374.18" cy="284.21" r="1.30" fill="#1f5c99" />
<circle cx="376.48" cy="288.70" r="1.30" fill="#1f5c99" />
<circle cx="376.44" cy="289.67" r="1.30" fill="#1f5c99" />
<circle cx="375.29" cy="290.65" r="1.30" fill="#1f5c99" />
<circle cx="372.12" cy="291.04" r="1.30" fill="#1f5c99" />
<circle cx="377.77" cy="291.62" r="1.30" fill="#1f5c99" />
<circle cx="373.24" cy="292.60" r="1.30" fill="#1f5c99" />
<circle cx="379.87" cy="293.38" r="1.30" fill="#1f5c99" />
<circle cx="376.08" cy="298.45" r="1.30" fill="#1f5c99" />
<circle cx="377.52" cy="301.38" r="1.30" fill="#1f5c99" />
<circle cx="378.30" cy="305.27" r="1.30" fill="#1f5c99" />
<circle cx="380.97" cy="318.92" r="1.30" fill="#1f5c99" />
<text x="353.80" y="250.50" font-size="7.88" text-anchor="start" fill="#231f20" stroke="#231f20" stroke-width="0.08" textLength="31.80" lengthAdjust="spacingAndGlyphs" ><tspan font-style="italic">p</tspan> = 0.012</text>
<line x1="358.70" y1="252.00" x2="379.90" y2="252.00" stroke="#555" stroke-width="0.80" />
<text transform="translate(310.90,295.60) rotate(-90.0)" font-size="9.50" text-anchor="middle" fill="#231f20" stroke="#231f20" stroke-width="0.08" textLength="90.00" lengthAdjust="spacingAndGlyphs" >Up in activated CD4<tspan font-size="5" dy="-2.5">+</tspan><tspan dy="2.5"> T cells</tspan></text>
<text transform="translate(323.80,295.10) rotate(-90.0)" font-size="9.50" text-anchor="middle" fill="#231f20" stroke="#231f20" stroke-width="0.08" textLength="60.20" lengthAdjust="spacingAndGlyphs" >from <tspan font-style="italic">Cic</tspan> cKO mice</text>
<text x="330.20" y="356.20" font-size="7.88" text-anchor="start" fill="#231f20" stroke="#231f20" stroke-width="0.08" font-style="italic" textLength="12.80" lengthAdjust="spacingAndGlyphs" >CIC</text>
<text x="357.20" y="356.20" font-size="7.88" text-anchor="middle" fill="#231f20" stroke="#231f20" stroke-width="0.08" textLength="11.90" lengthAdjust="spacingAndGlyphs" >WT</text>
<text x="379.10" y="356.20" font-size="7.88" text-anchor="middle" fill="#231f20" stroke="#231f20" stroke-width="0.08" textLength="10.10" lengthAdjust="spacingAndGlyphs" >Alt</text>
<text x="357.40" y="366.00" font-size="7.88" text-anchor="middle" fill="#231f20" stroke="#231f20" stroke-width="0.08" textLength="13.20" lengthAdjust="spacingAndGlyphs" >(45)</text>
<text x="378.60" y="366.00" font-size="7.88" text-anchor="middle" fill="#231f20" stroke="#231f20" stroke-width="0.08" textLength="12.80" lengthAdjust="spacingAndGlyphs" >(21)</text>
<line x1="447.00" y1="249.20" x2="447.00" y2="343.80" stroke="#231f20" stroke-width="1.10" />
<line x1="446.50" y1="343.30" x2="494.20" y2="343.30" stroke="#231f20" stroke-width="1.10" />
<line x1="443.90" y1="259.30" x2="447.00" y2="259.30" stroke="#231f20" stroke-width="0.90" />
<text x="441.20" y="262.10" font-size="8.42" text-anchor="end" fill="#231f20" stroke="#231f20" stroke-width="0.08" >2</text>
<line x1="443.90" y1="287.50" x2="447.00" y2="287.50" stroke="#231f20" stroke-width="0.90" />
<text x="441.20" y="290.30" font-size="8.42" text-anchor="end" fill="#231f20" stroke="#231f20" stroke-width="0.08" >0</text>
<line x1="443.90" y1="315.70" x2="447.00" y2="315.70" stroke="#231f20" stroke-width="0.90" />
<text x="441.20" y="318.50" font-size="8.42" text-anchor="end" fill="#231f20" stroke="#231f20" stroke-width="0.08" >−2</text>
<line x1="460.00" y1="343.30" x2="460.00" y2="345.90" stroke="#231f20" stroke-width="0.90" />
<line x1="481.70" y1="343.30" x2="481.70" y2="345.90" stroke="#231f20" stroke-width="0.90" />
<line x1="460.20" y1="267.76" x2="460.20" y2="280.45" stroke="#c8102e" stroke-width="1.00" />
<line x1="460.20" y1="307.10" x2="460.20" y2="332.90" stroke="#c8102e" stroke-width="1.00" />
<rect x="451.60" y="280.45" width="17.20" height="26.65" fill="none" stroke="#c8102e" stroke-width="1.0"/>
<line x1="451.60" y1="294.27" x2="468.80" y2="294.27" stroke="#c8102e" stroke-width="1.00" />
<circle cx="455.27" cy="332.90" r="1.30" fill="#c8102e" />
<circle cx="459.16" cy="327.05" r="1.30" fill="#c8102e" />
<circle cx="465.85" cy="322.04" r="1.30" fill="#c8102e" />
<circle cx="457.10" cy="319.11" r="1.30" fill="#c8102e" />
<circle cx="458.46" cy="317.13" r="1.30" fill="#c8102e" />
<circle cx="463.89" cy="316.07" r="1.30" fill="#c8102e" />
<circle cx="464.81" cy="314.03" r="1.30" fill="#c8102e" />
<circle cx="460.37" cy="312.96" r="1.30" fill="#c8102e" />
<circle cx="465.52" cy="311.04" r="1.30" fill="#c8102e" />
<circle cx="464.11" cy="310.38" r="1.30" fill="#c8102e" />
<circle cx="460.49" cy="307.80" r="1.30" fill="#c8102e" />
<circle cx="454.96" cy="306.66" r="1.30" fill="#c8102e" />
<circle cx="459.15" cy="306.01" r="1.30" fill="#c8102e" />
<circle cx="460.46" cy="304.72" r="1.30" fill="#c8102e" />
<circle cx="453.03" cy="303.03" r="1.30" fill="#c8102e" />
<circle cx="453.37" cy="302.34" r="1.30" fill="#c8102e" />
<circle cx="467.03" cy="300.40" r="1.30" fill="#c8102e" />
<circle cx="455.04" cy="299.25" r="1.30" fill="#c8102e" />
<circle cx="465.89" cy="298.31" r="1.30" fill="#c8102e" />
<circle cx="455.56" cy="298.32" r="1.30" fill="#c8102e" />
<circle cx="464.42" cy="297.20" r="1.30" fill="#c8102e" />
<circle cx="465.38" cy="295.73" r="1.30" fill="#c8102e" />
<circle cx="466.85" cy="294.48" r="1.30" fill="#c8102e" />
<circle cx="464.54" cy="292.70" r="1.30" fill="#c8102e" />
<circle cx="457.59" cy="291.27" r="1.30" fill="#c8102e" />
<circle cx="453.14" cy="290.48" r="1.30" fill="#c8102e" />
<circle cx="458.75" cy="289.12" r="1.30" fill="#c8102e" />
<circle cx="453.97" cy="288.01" r="1.30" fill="#c8102e" />
<circle cx="458.14" cy="287.67" r="1.30" fill="#c8102e" />
<circle cx="460.35" cy="285.63" r="1.30" fill="#c8102e" />
<circle cx="455.85" cy="284.92" r="1.30" fill="#c8102e" />
<circle cx="461.60" cy="283.35" r="1.30" fill="#c8102e" />
<circle cx="466.63" cy="282.80" r="1.30" fill="#c8102e" />
<circle cx="460.83" cy="280.50" r="1.30" fill="#c8102e" />
<circle cx="460.78" cy="280.05" r="1.30" fill="#c8102e" />
<circle cx="462.56" cy="280.11" r="1.30" fill="#c8102e" />
<circle cx="454.88" cy="279.03" r="1.30" fill="#c8102e" />
<circle cx="463.49" cy="278.83" r="1.30" fill="#c8102e" />
<circle cx="455.58" cy="277.47" r="1.30" fill="#c8102e" />
<circle cx="460.39" cy="276.66" r="1.30" fill="#c8102e" />
<circle cx="463.75" cy="274.19" r="1.30" fill="#c8102e" />
<circle cx="454.48" cy="273.01" r="1.30" fill="#c8102e" />
<circle cx="462.72" cy="271.12" r="1.30" fill="#c8102e" />
<circle cx="464.21" cy="270.98" r="1.30" fill="#c8102e" />
<circle cx="457.28" cy="267.76" r="1.30" fill="#c8102e" />
<line x1="481.60" y1="255.63" x2="481.60" y2="266.21" stroke="#1f5c99" stroke-width="1.00" />
<line x1="481.60" y1="299.34" x2="481.60" y2="338.96" stroke="#1f5c99" stroke-width="1.00" />
<rect x="473.10" y="266.21" width="17.00" height="33.13" fill="none" stroke="#1f5c99" stroke-width="1.0"/>
<line x1="473.10" y1="272.41" x2="490.10" y2="272.41" stroke="#1f5c99" stroke-width="1.00" />
<circle cx="481.69" cy="338.96" r="1.30" fill="#1f5c99" />
<circle cx="479.04" cy="321.58" r="1.30" fill="#1f5c99" />
<circle cx="483.15" cy="314.88" r="1.30" fill="#1f5c99" />
<circle cx="479.84" cy="306.53" r="1.30" fill="#1f5c99" />
<circle cx="482.68" cy="302.61" r="1.30" fill="#1f5c99" />
<circle cx="474.82" cy="297.45" r="1.30" fill="#1f5c99" />
<circle cx="478.46" cy="292.76" r="1.30" fill="#1f5c99" />
<circle cx="482.43" cy="288.18" r="1.30" fill="#1f5c99" />
<circle cx="484.12" cy="281.92" r="1.30" fill="#1f5c99" />
<circle cx="487.04" cy="277.30" r="1.30" fill="#1f5c99" />
<circle cx="480.39" cy="272.20" r="1.30" fill="#1f5c99" />
<circle cx="478.45" cy="271.11" r="1.30" fill="#1f5c99" />
<circle cx="479.54" cy="269.80" r="1.30" fill="#1f5c99" />
<circle cx="484.89" cy="268.91" r="1.30" fill="#1f5c99" />
<circle cx="485.86" cy="267.94" r="1.30" fill="#1f5c99" />
<circle cx="477.31" cy="266.77" r="1.30" fill="#1f5c99" />
<circle cx="482.86" cy="265.59" r="1.30" fill="#1f5c99" />
<circle cx="480.84" cy="264.72" r="1.30" fill="#1f5c99" />
<circle cx="480.10" cy="262.24" r="1.30" fill="#1f5c99" />
<circle cx="482.94" cy="259.83" r="1.30" fill="#1f5c99" />
<circle cx="480.26" cy="255.63" r="1.30" fill="#1f5c99" />
<text x="457.00" y="250.50" font-size="7.88" text-anchor="start" fill="#231f20" stroke="#231f20" stroke-width="0.08" textLength="32.00" lengthAdjust="spacingAndGlyphs" ><tspan font-style="italic">p</tspan> = 0.019</text>
<line x1="461.60" y1="252.40" x2="483.90" y2="252.40" stroke="#555" stroke-width="0.80" />
<text transform="translate(414.50,296.30) rotate(-90.0)" font-size="9.50" text-anchor="middle" fill="#231f20" stroke="#231f20" stroke-width="0.08" textLength="78.60" lengthAdjust="spacingAndGlyphs" >Up in naive CD4<tspan font-size="5" dy="-2.5">+</tspan><tspan dy="2.5"> T cells</tspan></text>
<text transform="translate(426.00,297.60) rotate(-90.0)" font-size="9.50" text-anchor="middle" fill="#231f20" stroke="#231f20" stroke-width="0.08" textLength="64.40" lengthAdjust="spacingAndGlyphs" >from <tspan font-style="italic">Cic</tspan> cKO mice</text>
<text x="433.10" y="355.80" font-size="7.88" text-anchor="start" fill="#231f20" stroke="#231f20" stroke-width="0.08" font-style="italic" textLength="13.10" lengthAdjust="spacingAndGlyphs" >CIC</text>
<text x="460.00" y="355.80" font-size="7.88" text-anchor="middle" fill="#231f20" stroke="#231f20" stroke-width="0.08" textLength="12.50" lengthAdjust="spacingAndGlyphs" >WT</text>
<text x="482.00" y="355.80" font-size="7.88" text-anchor="middle" fill="#231f20" stroke="#231f20" stroke-width="0.08" textLength="11.00" lengthAdjust="spacingAndGlyphs" >Alt</text>
<text x="460.30" y="365.60" font-size="7.88" text-anchor="middle" fill="#231f20" stroke="#231f20" stroke-width="0.08" textLength="13.10" lengthAdjust="spacingAndGlyphs" >(45)</text>
<text x="481.70" y="365.60" font-size="7.88" text-anchor="middle" fill="#231f20" stroke="#231f20" stroke-width="0.08" textLength="13.50" lengthAdjust="spacingAndGlyphs" >(21)</text>
<text x="6.70" y="382.00" font-size="11.00" text-anchor="start" fill="#231f20" stroke="#231f20" stroke-width="0.5" font-weight="bold" >F</text>
<line x1="48.75" y1="385.75" x2="48.75" y2="484.00" stroke="#4a4a4a" stroke-width="0.50" stroke-dasharray="1.0,0.75"/>
<text x="43.30" y="388.05" font-size="6.64" text-anchor="end" fill="#231f20" stroke="#231f20" stroke-width="0.08" font-style="italic" >ATXN1</text>
<line x1="45.20" y1="393.03" x2="56.05" y2="393.03" stroke="#4a4a4a" stroke-width="0.50" stroke-dasharray="1.0,0.75"/>
<line x1="56.05" y1="393.03" x2="56.05" y2="484.00" stroke="#4a4a4a" stroke-width="0.50" stroke-dasharray="1.0,0.75"/>
<text x="43.30" y="395.33" font-size="6.64" text-anchor="end" fill="#231f20" stroke="#231f20" stroke-width="0.08" font-style="italic" >CARD11</text>
<line x1="45.20" y1="400.31" x2="63.35" y2="400.31" stroke="#4a4a4a" stroke-width="0.50" stroke-dasharray="1.0,0.75"/>
<line x1="63.35" y1="400.31" x2="63.35" y2="484.00" stroke="#4a4a4a" stroke-width="0.50" stroke-dasharray="1.0,0.75"/>
<text x="43.30" y="402.61" font-size="6.64" text-anchor="end" fill="#231f20" stroke="#231f20" stroke-width="0.08" font-style="italic" >PLCG1</text>
<line x1="45.20" y1="407.59" x2="70.65" y2="407.59" stroke="#4a4a4a" stroke-width="0.50" stroke-dasharray="1.0,0.75"/>
<line x1="70.65" y1="407.59" x2="70.65" y2="484.00" stroke="#4a4a4a" stroke-width="0.50" stroke-dasharray="1.0,0.75"/>
<text x="43.30" y="409.89" font-size="6.64" text-anchor="end" fill="#231f20" stroke="#231f20" stroke-width="0.08" font-style="italic" >PRKCB</text>
<line x1="45.20" y1="414.87" x2="77.95" y2="414.87" stroke="#4a4a4a" stroke-width="0.50" stroke-dasharray="1.0,0.75"/>
<line x1="77.95" y1="414.87" x2="77.95" y2="484.00" stroke="#4a4a4a" stroke-width="0.50" stroke-dasharray="1.0,0.75"/>
<text x="43.30" y="417.17" font-size="6.64" text-anchor="end" fill="#231f20" stroke="#231f20" stroke-width="0.08" font-style="italic" >IRF4</text>
<line x1="45.20" y1="422.15" x2="85.25" y2="422.15" stroke="#4a4a4a" stroke-width="0.50" stroke-dasharray="1.0,0.75"/>
<line x1="85.25" y1="422.15" x2="85.25" y2="484.00" stroke="#4a4a4a" stroke-width="0.50" stroke-dasharray="1.0,0.75"/>
<text x="43.30" y="424.45" font-size="6.64" text-anchor="end" fill="#231f20" stroke="#231f20" stroke-width="0.08" font-style="italic" >STAT3</text>
<line x1="45.20" y1="429.43" x2="92.55" y2="429.43" stroke="#4a4a4a" stroke-width="0.50" stroke-dasharray="1.0,0.75"/>
<line x1="92.55" y1="429.43" x2="92.55" y2="484.00" stroke="#4a4a4a" stroke-width="0.50" stroke-dasharray="1.0,0.75"/>
<text x="43.30" y="431.73" font-size="6.64" text-anchor="end" fill="#231f20" stroke="#231f20" stroke-width="0.08" font-style="italic" >CCR4</text>
<line x1="45.20" y1="436.71" x2="99.85" y2="436.71" stroke="#4a4a4a" stroke-width="0.50" stroke-dasharray="1.0,0.75"/>
<line x1="99.85" y1="436.71" x2="99.85" y2="484.00" stroke="#4a4a4a" stroke-width="0.50" stroke-dasharray="1.0,0.75"/>
<text x="43.30" y="439.01" font-size="6.64" text-anchor="end" fill="#231f20" stroke="#231f20" stroke-width="0.08" font-style="italic" >IKZF2</text>
<line x1="45.20" y1="443.99" x2="107.15" y2="443.99" stroke="#4a4a4a" stroke-width="0.50" stroke-dasharray="1.0,0.75"/>
<line x1="107.15" y1="443.99" x2="107.15" y2="484.00" stroke="#4a4a4a" stroke-width="0.50" stroke-dasharray="1.0,0.75"/>
<text x="43.30" y="446.29" font-size="6.64" text-anchor="end" fill="#231f20" stroke="#231f20" stroke-width="0.08" font-style="italic" >GATA3</text>
<line x1="45.20" y1="451.27" x2="114.45" y2="451.27" stroke="#4a4a4a" stroke-width="0.50" stroke-dasharray="1.0,0.75"/>
<line x1="114.45" y1="451.27" x2="114.45" y2="484.00" stroke="#4a4a4a" stroke-width="0.50" stroke-dasharray="1.0,0.75"/>
<text x="43.30" y="453.57" font-size="6.64" text-anchor="end" fill="#231f20" stroke="#231f20" stroke-width="0.08" font-style="italic" >TBL1XR1</text>
<line x1="45.20" y1="458.55" x2="121.75" y2="458.55" stroke="#4a4a4a" stroke-width="0.50" stroke-dasharray="1.0,0.75"/>
<line x1="121.75" y1="458.55" x2="121.75" y2="484.00" stroke="#4a4a4a" stroke-width="0.50" stroke-dasharray="1.0,0.75"/>
<text x="43.30" y="460.85" font-size="6.64" text-anchor="end" fill="#231f20" stroke="#231f20" stroke-width="0.08" font-style="italic" >SYNCRIP</text>
<line x1="45.20" y1="465.83" x2="129.05" y2="465.83" stroke="#4a4a4a" stroke-width="0.50" stroke-dasharray="1.0,0.75"/>
<line x1="129.05" y1="465.83" x2="129.05" y2="484.00" stroke="#4a4a4a" stroke-width="0.50" stroke-dasharray="1.0,0.75"/>
<text x="43.30" y="468.13" font-size="6.64" text-anchor="end" fill="#231f20" stroke="#231f20" stroke-width="0.08" font-style="italic" >ARID2</text>
<line x1="45.20" y1="473.11" x2="136.35" y2="473.11" stroke="#4a4a4a" stroke-width="0.50" stroke-dasharray="1.0,0.75"/>
<line x1="136.35" y1="473.11" x2="136.35" y2="484.00" stroke="#4a4a4a" stroke-width="0.50" stroke-dasharray="1.0,0.75"/>
<text x="43.30" y="475.41" font-size="6.64" text-anchor="end" fill="#231f20" stroke="#231f20" stroke-width="0.08" font-style="italic" >TP53</text>
<line x1="45.20" y1="480.39" x2="143.65" y2="480.39" stroke="#4a4a4a" stroke-width="0.50" stroke-dasharray="1.0,0.75"/>
<line x1="143.65" y1="480.39" x2="143.65" y2="484.00" stroke="#4a4a4a" stroke-width="0.50" stroke-dasharray="1.0,0.75"/>
<text x="43.30" y="482.69" font-size="6.64" text-anchor="end" fill="#231f20" stroke="#231f20" stroke-width="0.08" font-style="italic" >CDKN2A</text>
<circle cx="48.75" cy="385.75" r="2.70" fill="#8fcdf0" />
<circle cx="63.35" cy="407.59" r="2.70" fill="#fcbf72" />
<circle cx="99.85" cy="451.27" r="2.40" fill="#fcbf72" />
<circle cx="92.55" cy="473.11" r="2.50" fill="#8fcdf0" />
<circle cx="99.85" cy="473.11" r="3.00" fill="#8fcdf0" />
<circle cx="56.05" cy="480.39" r="2.70" fill="#fcbf72" />
<circle cx="92.55" cy="480.39" r="2.40" fill="#8fcdf0" />
<circle cx="107.15" cy="480.39" r="2.80" fill="#fcbf72" />
<text transform="translate(50.15,489.20) rotate(-58.0)" font-size="6.70" text-anchor="end" fill="#231f20" stroke="#231f20" stroke-width="0.08" font-style="italic" >CIC</text>
<text transform="translate(57.45,489.20) rotate(-58.0)" font-size="6.70" text-anchor="end" fill="#231f20" stroke="#231f20" stroke-width="0.08" font-style="italic" >ATXN1</text>
<text transform="translate(64.75,489.20) rotate(-58.0)" font-size="6.70" text-anchor="end" fill="#231f20" stroke="#231f20" stroke-width="0.08" font-style="italic" >CARD11</text>
<text transform="translate(72.05,489.20) rotate(-58.0)" font-size="6.70" text-anchor="end" fill="#231f20" stroke="#231f20" stroke-width="0.08" font-style="italic" >PLCG1</text>
<text transform="translate(79.35,489.20) rotate(-58.0)" font-size="6.70" text-anchor="end" fill="#231f20" stroke="#231f20" stroke-width="0.08" font-style="italic" >PRKCB</text>
<text transform="translate(86.65,489.20) rotate(-58.0)" font-size="6.70" text-anchor="end" fill="#231f20" stroke="#231f20" stroke-width="0.08" font-style="italic" >IRF4</text>
<text transform="translate(93.95,489.20) rotate(-58.0)" font-size="6.70" text-anchor="end" fill="#231f20" stroke="#231f20" stroke-width="0.08" font-style="italic" >STAT3</text>
<text transform="translate(101.25,489.20) rotate(-58.0)" font-size="6.70" text-anchor="end" fill="#231f20" stroke="#231f20" stroke-width="0.08" font-style="italic" >CCR4</text>
<text transform="translate(108.55,489.20) rotate(-58.0)" font-size="6.70" text-anchor="end" fill="#231f20" stroke="#231f20" stroke-width="0.08" font-style="italic" >IKZF2</text>
<text transform="translate(115.85,489.20) rotate(-58.0)" font-size="6.70" text-anchor="end" fill="#231f20" stroke="#231f20" stroke-width="0.08" font-style="italic" >GATA3</text>
<text transform="translate(123.15,489.20) rotate(-58.0)" font-size="6.70" text-anchor="end" fill="#231f20" stroke="#231f20" stroke-width="0.08" font-style="italic" >TBL1XR1</text>
<text transform="translate(130.45,489.20) rotate(-58.0)" font-size="6.70" text-anchor="end" fill="#231f20" stroke="#231f20" stroke-width="0.08" font-style="italic" >SYNCRIP</text>
<text transform="translate(137.75,489.20) rotate(-58.0)" font-size="6.70" text-anchor="end" fill="#231f20" stroke="#231f20" stroke-width="0.08" font-style="italic" >ARID2</text>
<text transform="translate(145.05,489.20) rotate(-58.0)" font-size="6.70" text-anchor="end" fill="#231f20" stroke="#231f20" stroke-width="0.08" font-style="italic" >TP53</text>
<text x="72.00" y="387.90" font-size="7.34" text-anchor="start" fill="#231f20" stroke="#231f20" stroke-width="0.08" textLength="19.80" lengthAdjust="spacingAndGlyphs" >q value</text>
<circle cx="75.80" cy="393.80" r="3.60" fill="#b5b5ba" />
<circle cx="75.70" cy="401.00" r="1.75" fill="#b5b5ba" />
<text x="82.10" y="396.20" font-size="7.34" text-anchor="start" fill="#231f20" stroke="#231f20" stroke-width="0.08" textLength="12.40" lengthAdjust="spacingAndGlyphs" >0.01</text>
<text x="82.10" y="403.40" font-size="7.34" text-anchor="start" fill="#231f20" stroke="#231f20" stroke-width="0.08" textLength="8.80" lengthAdjust="spacingAndGlyphs" >0.1</text>
<text x="99.90" y="388.50" font-size="7.34" text-anchor="start" fill="#231f20" stroke="#231f20" stroke-width="0.08" textLength="35.00" lengthAdjust="spacingAndGlyphs" >Co-occuring</text>
<defs><linearGradient id="orb" x1="0" y1="0" x2="0" y2="1"><stop offset="0" stop-color="#e4581a"/><stop offset="0.5" stop-color="#fbf8f8"/><stop offset="1" stop-color="#2a5aa6"/></linearGradient></defs>
<rect x="109.30" y="393.80" width="5.40" height="28.00" fill="url(#orb)" />
<text x="115.80" y="396.30" font-size="7.13" text-anchor="start" fill="#231f20" stroke="#231f20" stroke-width="0.08" >8</text>
<text x="116.40" y="409.40" font-size="7.13" text-anchor="start" fill="#231f20" stroke="#231f20" stroke-width="0.08" >1</text>
<text x="115.80" y="424.10" font-size="7.13" text-anchor="start" fill="#231f20" stroke="#231f20" stroke-width="0.08" >8</text>
<text transform="translate(107.00,408.70) rotate(-90.0)" font-size="7.56" text-anchor="middle" fill="#231f20" stroke="#231f20" stroke-width="0.08" textLength="29.90" lengthAdjust="spacingAndGlyphs" >Odds ratio</text>
<text x="100.80" y="431.70" font-size="7.34" text-anchor="start" fill="#231f20" stroke="#231f20" stroke-width="0.08" textLength="25.10" lengthAdjust="spacingAndGlyphs" >Exclusive</text>
<text x="116.90" y="441.00" font-size="7.34" text-anchor="start" fill="#231f20" stroke="#231f20" stroke-width="0.08" textLength="27.90" lengthAdjust="spacingAndGlyphs" >Alt ≥ 20%</text>
<text x="116.90" y="449.00" font-size="7.34" text-anchor="start" fill="#231f20" stroke="#231f20" stroke-width="0.08" textLength="21.90" lengthAdjust="spacingAndGlyphs" ><tspan font-style="italic">n</tspan> = 150</text>
<text x="209.90" y="382.00" font-size="11.00" text-anchor="start" fill="#231f20" stroke="#231f20" stroke-width="0.5" font-weight="bold" >G</text>
<text x="247.70" y="386.90" font-size="7.13" text-anchor="middle" fill="#231f20" stroke="#231f20" stroke-width="0.08" >1</text>
<text x="266.50" y="386.90" font-size="7.13" text-anchor="middle" fill="#231f20" stroke="#231f20" stroke-width="0.08" >2</text>
<text x="224.70" y="394.80" font-size="7.78" text-anchor="start" fill="#231f20" stroke="#231f20" stroke-width="0.08" font-style="italic" textLength="16.60" lengthAdjust="spacingAndGlyphs" >Cic-L</text>
<text x="224.30" y="404.40" font-size="7.78" text-anchor="start" fill="#231f20" stroke="#231f20" stroke-width="0.08" font-style="italic" textLength="16.70" lengthAdjust="spacingAndGlyphs" >Cic-S</text>
<line x1="247.30" y1="392.10" x2="358.00" y2="392.10" stroke="#5b8ec2" stroke-width="0.90" />
<line x1="247.50" y1="390.50" x2="247.50" y2="393.70" stroke="#5b8ec2" stroke-width="0.80" />
<rect x="261.10" y="389.10" width="12.00" height="5.90" fill="#c8102e" />
<line x1="313.00" y1="401.40" x2="358.00" y2="401.40" stroke="#5b8ec2" stroke-width="0.90" />
<path d="M309.8,401.4 L311.2,399.6 L313.3,399.6 L313.3,403.3 L311.2,403.3 Z" fill="#c8102e" stroke="none" stroke-width="1.00" />
<rect x="320.80" y="389.30" width="0.80" height="5.80" fill="#1d5a92" />
<rect x="322.09" y="389.30" width="0.74" height="5.80" fill="#1d5a92" />
<rect x="323.19" y="389.30" width="0.70" height="5.80" fill="#1d5a92" />
<rect x="324.24" y="389.30" width="0.70" height="5.80" fill="#1d5a92" />
<rect x="325.59" y="389.30" width="0.86" height="5.80" fill="#1d5a92" />
<rect x="330.19" y="389.30" width="0.86" height="5.80" fill="#1d5a92" />
<rect x="331.67" y="389.30" width="1.04" height="5.80" fill="#1d5a92" />
<rect x="334.74" y="389.30" width="0.70" height="5.80" fill="#1d5a92" />
<rect x="336.58" y="389.30" width="5.40" height="5.80" fill="#1d5a92" />
<rect x="342.66" y="389.30" width="0.70" height="5.80" fill="#1d5a92" />
<rect x="344.93" y="389.30" width="0.70" height="5.80" fill="#1d5a92" />
<rect x="345.97" y="389.30" width="0.70" height="5.80" fill="#1d5a92" />
<rect x="346.89" y="389.30" width="0.70" height="5.80" fill="#1d5a92" />
<rect x="347.82" y="389.30" width="0.74" height="5.80" fill="#1d5a92" />
<rect x="349.11" y="389.30" width="1.17" height="5.80" fill="#1d5a92" />
<rect x="351.81" y="389.30" width="0.74" height="5.80" fill="#1d5a92" />
<rect x="352.91" y="389.30" width="0.70" height="5.80" fill="#1d5a92" />
<rect x="354.02" y="389.30" width="0.74" height="5.80" fill="#1d5a92" />
<rect x="356.23" y="389.30" width="0.86" height="5.80" fill="#1d5a92" />
<rect x="357.33" y="389.30" width="1.47" height="5.80" fill="#1d5a92" />
<path d="M358.81,389.30 L360.01,389.30 L361.57,391.30 L361.57,393.10 L358.81,395.10 Z" fill="#1d5a92" stroke="none" stroke-width="1.00" />
<rect x="320.80" y="398.50" width="0.80" height="5.80" fill="#1d5a92" />
<rect x="322.09" y="398.50" width="0.74" height="5.80" fill="#1d5a92" />
<rect x="323.19" y="398.50" width="0.70" height="5.80" fill="#1d5a92" />
<rect x="324.24" y="398.50" width="0.70" height="5.80" fill="#1d5a92" />
<rect x="325.59" y="398.50" width="0.86" height="5.80" fill="#1d5a92" />
<rect x="330.19" y="398.50" width="0.86" height="5.80" fill="#1d5a92" />
<rect x="331.67" y="398.50" width="1.04" height="5.80" fill="#1d5a92" />
<rect x="334.74" y="398.50" width="0.70" height="5.80" fill="#1d5a92" />
<rect x="336.58" y="398.50" width="5.40" height="5.80" fill="#1d5a92" />
<rect x="342.66" y="398.50" width="0.70" height="5.80" fill="#1d5a92" />
<rect x="344.93" y="398.50" width="0.70" height="5.80" fill="#1d5a92" />
<rect x="345.97" y="398.50" width="0.70" height="5.80" fill="#1d5a92" />
<rect x="346.89" y="398.50" width="0.70" height="5.80" fill="#1d5a92" />
<rect x="347.82" y="398.50" width="0.74" height="5.80" fill="#1d5a92" />
<rect x="349.11" y="398.50" width="1.17" height="5.80" fill="#1d5a92" />
<rect x="351.81" y="398.50" width="0.74" height="5.80" fill="#1d5a92" />
<rect x="352.91" y="398.50" width="0.70" height="5.80" fill="#1d5a92" />
<rect x="354.02" y="398.50" width="0.74" height="5.80" fill="#1d5a92" />
<rect x="356.23" y="398.50" width="0.86" height="5.80" fill="#1d5a92" />
<rect x="357.33" y="398.50" width="1.47" height="5.80" fill="#1d5a92" />
<path d="M358.81,398.50 L360.01,398.50 L361.57,400.50 L361.57,402.30 L358.81,404.30 Z" fill="#1d5a92" stroke="none" stroke-width="1.00" />
<text x="340.60" y="386.60" font-size="7.13" text-anchor="middle" fill="#231f20" stroke="#231f20" stroke-width="0.08" textLength="15.30" lengthAdjust="spacingAndGlyphs" >3–21</text>
<text x="341.00" y="411.50" font-size="7.13" text-anchor="middle" fill="#231f20" stroke="#231f20" stroke-width="0.08" textLength="15.90" lengthAdjust="spacingAndGlyphs" >2–20</text>
<text x="310.40" y="411.90" font-size="7.13" text-anchor="middle" fill="#231f20" stroke="#231f20" stroke-width="0.08" >1</text>
<rect x="252.30" y="407.70" width="3.10" height="3.40" fill="#c8102e" />
<text x="258.50" y="411.90" font-size="7.78" text-anchor="start" fill="#231f20" stroke="#231f20" stroke-width="0.08" textLength="41.50" lengthAdjust="spacingAndGlyphs" >Knocked out</text>
<path d="M248.00,437.80 C252.00,439.00 254.80,441.80 253.20,444.20 C251.80,446.40 248.00,447.10 244.50,447.80" fill="none" stroke="#2a2a2a" stroke-width="0.75" />
<path d="M224.40,443.50 C225.60,440.20 227.80,436.80 231.00,434.50 C234.50,432.10 238.50,431.00 242.00,431.50 C245.50,432.00 248.60,434.40 248.50,437.20 C248.30,440.00 246.20,442.50 243.80,443.70 C240.00,445.40 234.00,445.80 229.50,445.80 C227.00,445.80 225.40,444.90 224.40,443.50 Z" fill="#626262" stroke="#1a1a1a" stroke-width="0.85" />
<path d="M228.00,436.40 L228.90,432.80 L230.60,433.20 L230.60,435.50 Z" fill="#a9a9a9" stroke="#444" stroke-width="0.40" />
<circle cx="236.10" cy="439.60" r="1.55" fill="#8a8a8a" stroke="#1e1e1e" stroke-width="0.6"/>
<circle cx="235.70" cy="440.10" r="0.60" fill="#d0d0d0" />
<circle cx="231.00" cy="443.00" r="0.70" fill="#8e8e8e" />
<path d="M224.80,443.20 L222.60,441.80 M224.80,443.60 L222.60,444.80" fill="none" stroke="#444" stroke-width="0.40" />
<path d="M248.00,468.40 C252.00,469.60 254.80,472.40 253.20,474.80 C251.80,477.00 248.00,477.70 244.50,478.40" fill="none" stroke="#2a2a2a" stroke-width="0.75" />
<path d="M224.40,474.10 C225.60,470.80 227.80,467.40 231.00,465.10 C234.50,462.70 238.50,461.60 242.00,462.10 C245.50,462.60 248.60,465.00 248.50,467.80 C248.30,470.60 246.20,473.10 243.80,474.30 C240.00,476.00 234.00,476.40 229.50,476.40 C227.00,476.40 225.40,475.50 224.40,474.10 Z" fill="#626262" stroke="#1a1a1a" stroke-width="0.85" />
<path d="M228.00,467.00 L228.90,463.40 L230.60,463.80 L230.60,466.10 Z" fill="#a9a9a9" stroke="#444" stroke-width="0.40" />
<circle cx="236.10" cy="470.20" r="1.55" fill="#8a8a8a" stroke="#1e1e1e" stroke-width="0.6"/>
<circle cx="235.70" cy="470.70" r="0.60" fill="#d0d0d0" />
<circle cx="231.00" cy="473.60" r="0.70" fill="#8e8e8e" />
<path d="M224.80,473.80 L222.60,472.40 M224.80,474.20 L222.60,475.40" fill="none" stroke="#444" stroke-width="0.40" />
<text x="228.70" y="428.70" font-size="7.78" text-anchor="start" fill="#231f20" stroke="#231f20" stroke-width="0.08" font-style="italic" >Cic-L<tspan font-size="4" dy="-2.6" font-style="normal">fl/fl</tspan></text>
<text x="228.10" y="458.20" font-size="7.78" text-anchor="start" fill="#231f20" stroke="#231f20" stroke-width="0.08" font-style="italic" >Cic-S<tspan font-size="4" dy="-2.6" font-style="normal">fl/fl</tspan></text>
<text x="258.60" y="453.60" font-size="7.56" text-anchor="middle" fill="#231f20" stroke="#231f20" stroke-width="0.08" >×</text>
<text x="263.70" y="449.50" font-size="7.78" text-anchor="start" fill="#231f20" stroke="#231f20" stroke-width="0.08" textLength="27.60" lengthAdjust="spacingAndGlyphs" >Cd4-Cre</text>
<text x="263.70" y="457.60" font-size="7.78" text-anchor="start" fill="#231f20" stroke="#231f20" stroke-width="0.08" textLength="10.10" lengthAdjust="spacingAndGlyphs" >WT</text>
<line x1="291.60" y1="451.30" x2="307.50" y2="451.30" stroke="#111" stroke-width="0.80" />
<path d="M310.6,451.3 L306.6,449.5 L306.6,453.1 Z" fill="#111" stroke="none" stroke-width="1.00" />
<text x="326.70" y="426.60" font-size="7.88" text-anchor="start" fill="#231f20" stroke="#231f20" stroke-width="0.08" textLength="22.70" lengthAdjust="spacingAndGlyphs" >Spleen</text>
<text x="312.70" y="456.60" font-size="7.88" text-anchor="start" fill="#231f20" stroke="#231f20" stroke-width="0.08" textLength="55.40" lengthAdjust="spacingAndGlyphs" >Peripheral blood</text>
<path d="M339.6,431.7 C342.3,431.6 343.7,435.5 343.2,439.3 C342.7,443.4 339.6,446.4 336.6,446.1 C334.0,445.8 333.8,443.2 335.4,441.1 C336.9,439.3 337.5,437.6 336.8,435.6 C336.1,433.5 337.3,431.8 339.6,431.7 Z" fill="#c8102e" stroke="#8a0a1e" stroke-width="0.60" />
<path d="M340.0,433.3 C341.5,434.0 342.0,436.0 341.8,437.5" fill="none" stroke="#e8667a" stroke-width="0.50" />
<circle cx="336.10" cy="467.20" r="6.00" fill="#ece0f2" stroke="#9268ad" stroke-width="0.8"/>
<circle cx="336.10" cy="467.20" r="4.60" fill="none" stroke="#d6c3e2" stroke-width="0.6"/>
<circle cx="334.60" cy="468.40" r="3.60" fill="#5a2580" />
<circle cx="330.30" cy="472.60" r="6.00" fill="#ece0f2" stroke="#9268ad" stroke-width="0.8"/>
<circle cx="330.30" cy="472.60" r="4.60" fill="none" stroke="#d6c3e2" stroke-width="0.6"/>
<circle cx="329.30" cy="473.80" r="3.60" fill="#5a2580" />
<ellipse cx="348.6" cy="472.2" rx="4.0" ry="5.7" transform="rotate(20 348.6 472.2)" fill="#c0102a" stroke="#8a0a1e" stroke-width="0.5"/>
<ellipse cx="348.4" cy="472.3" rx="2.0" ry="3.5" transform="rotate(20 348.4 472.3)" fill="none" stroke="#dd4a5e" stroke-width="0.5"/>
<text x="413.20" y="381.90" font-size="11.00" text-anchor="start" fill="#231f20" stroke="#231f20" stroke-width="0.5" font-weight="bold" >H</text>
<rect x="449.20" y="448.27" width="9.00" height="32.13" fill="#e4808f" />
<rect x="459.70" y="421.18" width="9.30" height="59.22" fill="#7b9dc2" />
<rect x="476.20" y="448.27" width="8.80" height="32.13" fill="#e4808f" />
<rect x="486.50" y="443.86" width="9.30" height="36.54" fill="#7b9dc2" />
<line x1="453.70" y1="448.27" x2="453.70" y2="435.20" stroke="#d42a47" stroke-width="0.90" />
<line x1="452.00" y1="435.20" x2="455.40" y2="435.20" stroke="#d42a47" stroke-width="0.90" />
<line x1="464.35" y1="421.18" x2="464.35" y2="405.90" stroke="#1f5c99" stroke-width="0.90" />
<line x1="462.65" y1="405.90" x2="466.05" y2="405.90" stroke="#1f5c99" stroke-width="0.90" />
<line x1="480.60" y1="448.27" x2="480.60" y2="430.10" stroke="#d42a47" stroke-width="0.90" />
<line x1="478.90" y1="430.10" x2="482.30" y2="430.10" stroke="#d42a47" stroke-width="0.90" />
<line x1="491.15" y1="443.86" x2="491.15" y2="436.20" stroke="#1f5c99" stroke-width="0.90" />
<line x1="489.45" y1="436.20" x2="492.85" y2="436.20" stroke="#1f5c99" stroke-width="0.90" />
<circle cx="451.40" cy="437.70" r="1.00" fill="#d42a47" />
<circle cx="455.20" cy="438.30" r="1.00" fill="#d42a47" />
<circle cx="452.90" cy="452.20" r="1.00" fill="#d42a47" />
<circle cx="453.40" cy="465.50" r="1.00" fill="#d42a47" />
<circle cx="463.10" cy="399.70" r="1.00" fill="#1f5c99" />
<circle cx="465.20" cy="421.60" r="1.00" fill="#1f5c99" />
<circle cx="462.90" cy="429.40" r="1.00" fill="#1f5c99" />
<circle cx="464.10" cy="433.10" r="1.00" fill="#1f5c99" />
<circle cx="480.80" cy="418.30" r="1.00" fill="#d42a47" />
<circle cx="479.50" cy="447.00" r="1.00" fill="#d42a47" />
<circle cx="481.40" cy="454.50" r="1.00" fill="#d42a47" />
<circle cx="479.10" cy="458.60" r="1.00" fill="#d42a47" />
<circle cx="480.30" cy="461.40" r="1.00" fill="#d42a47" />
<circle cx="488.90" cy="436.60" r="1.00" fill="#1f5c99" />
<circle cx="492.20" cy="441.00" r="1.00" fill="#1f5c99" />
<circle cx="489.90" cy="445.80" r="1.00" fill="#1f5c99" />
<circle cx="491.20" cy="453.00" r="1.00" fill="#1f5c99" />
<line x1="447.00" y1="385.40" x2="447.00" y2="480.90" stroke="#231f20" stroke-width="1.10" />
<line x1="444.40" y1="480.40" x2="469.40" y2="480.40" stroke="#231f20" stroke-width="1.10" />
<line x1="473.30" y1="480.40" x2="497.70" y2="480.40" stroke="#231f20" stroke-width="1.10" />
<line x1="444.60" y1="480.40" x2="447.00" y2="480.40" stroke="#231f20" stroke-width="0.90" />
<text x="441.80" y="483.30" font-size="8.64" text-anchor="end" fill="#231f20" stroke="#231f20" stroke-width="0.08" >0</text>
<line x1="444.60" y1="448.90" x2="447.00" y2="448.90" stroke="#231f20" stroke-width="0.90" />
<text x="441.80" y="451.80" font-size="8.64" text-anchor="end" fill="#231f20" stroke="#231f20" stroke-width="0.08" >1</text>
<line x1="444.60" y1="417.40" x2="447.00" y2="417.40" stroke="#231f20" stroke-width="0.90" />
<text x="441.80" y="420.30" font-size="8.64" text-anchor="end" fill="#231f20" stroke="#231f20" stroke-width="0.08" >2</text>
<line x1="444.60" y1="385.90" x2="447.00" y2="385.90" stroke="#231f20" stroke-width="0.90" />
<text x="441.80" y="388.80" font-size="8.64" text-anchor="end" fill="#231f20" stroke="#231f20" stroke-width="0.08" >3</text>
<text x="448.90" y="391.20" font-size="7.88" text-anchor="start" fill="#231f20" stroke="#231f20" stroke-width="0.08" textLength="31.90" lengthAdjust="spacingAndGlyphs" ><tspan font-style="italic">p</tspan> = 0.033</text>
<line x1="453.10" y1="392.80" x2="464.70" y2="392.80" stroke="#555" stroke-width="0.80" />
<text x="485.00" y="391.20" font-size="7.88" text-anchor="start" fill="#231f20" stroke="#231f20" stroke-width="0.08" textLength="13.60" lengthAdjust="spacingAndGlyphs" >0.67</text>
<line x1="485.00" y1="392.80" x2="498.60" y2="392.80" stroke="#555" stroke-width="0.80" />
<text transform="translate(419.30,434.00) rotate(-90.0)" font-size="10.15" text-anchor="middle" fill="#231f20" stroke="#231f20" stroke-width="0.08" textLength="86.30" lengthAdjust="spacingAndGlyphs" >CD4<tspan font-size="4.6" dy="-2.4">+</tspan><tspan dy="2.4">CD25</tspan><tspan font-size="4.6" dy="-2.4">+</tspan><tspan dy="2.4">CD127</tspan><tspan font-size="4.6" dy="-2.4">−</tspan><tspan dy="2.4">Foxp3</tspan><tspan font-size="4.6" dy="-2.4">+</tspan></text>
<text transform="translate(430.60,433.00) rotate(-90.0)" font-size="10.15" text-anchor="middle" fill="#231f20" stroke="#231f20" stroke-width="0.08" textLength="67.00" lengthAdjust="spacingAndGlyphs" >(×10<tspan font-size="4.6" dy="-2.4">4</tspan><tspan dy="2.4"> cells / spleen)</tspan></text>
<text x="447.70" y="488.70" font-size="6.91" text-anchor="start" fill="#231f20" stroke="#231f20" stroke-width="0.08" textLength="7.70" lengthAdjust="spacingAndGlyphs" >WT</text>
<text x="456.50" y="488.70" font-size="6.91" text-anchor="start" fill="#231f20" stroke="#231f20" stroke-width="0.08" textLength="12.90" lengthAdjust="spacingAndGlyphs" >cKO</text>
<text x="474.60" y="488.70" font-size="6.91" text-anchor="start" fill="#231f20" stroke="#231f20" stroke-width="0.08" textLength="8.30" lengthAdjust="spacingAndGlyphs" >WT</text>
<text x="483.80" y="488.70" font-size="6.91" text-anchor="start" fill="#231f20" stroke="#231f20" stroke-width="0.08" textLength="13.10" lengthAdjust="spacingAndGlyphs" >cKO</text>
<text x="451.20" y="495.80" font-size="7.13" text-anchor="start" fill="#231f20" stroke="#231f20" stroke-width="0.08" font-style="italic" textLength="18.20" lengthAdjust="spacingAndGlyphs" >Cic–L</text>
<text x="478.50" y="495.80" font-size="7.13" text-anchor="start" fill="#231f20" stroke="#231f20" stroke-width="0.08" font-style="italic" textLength="16.90" lengthAdjust="spacingAndGlyphs" >Cic–S</text>
<rect x="0.5" y="0.5" width="519" height="518" fill="none" stroke="#000" stroke-width="1"/>
</svg>
</body></html>
